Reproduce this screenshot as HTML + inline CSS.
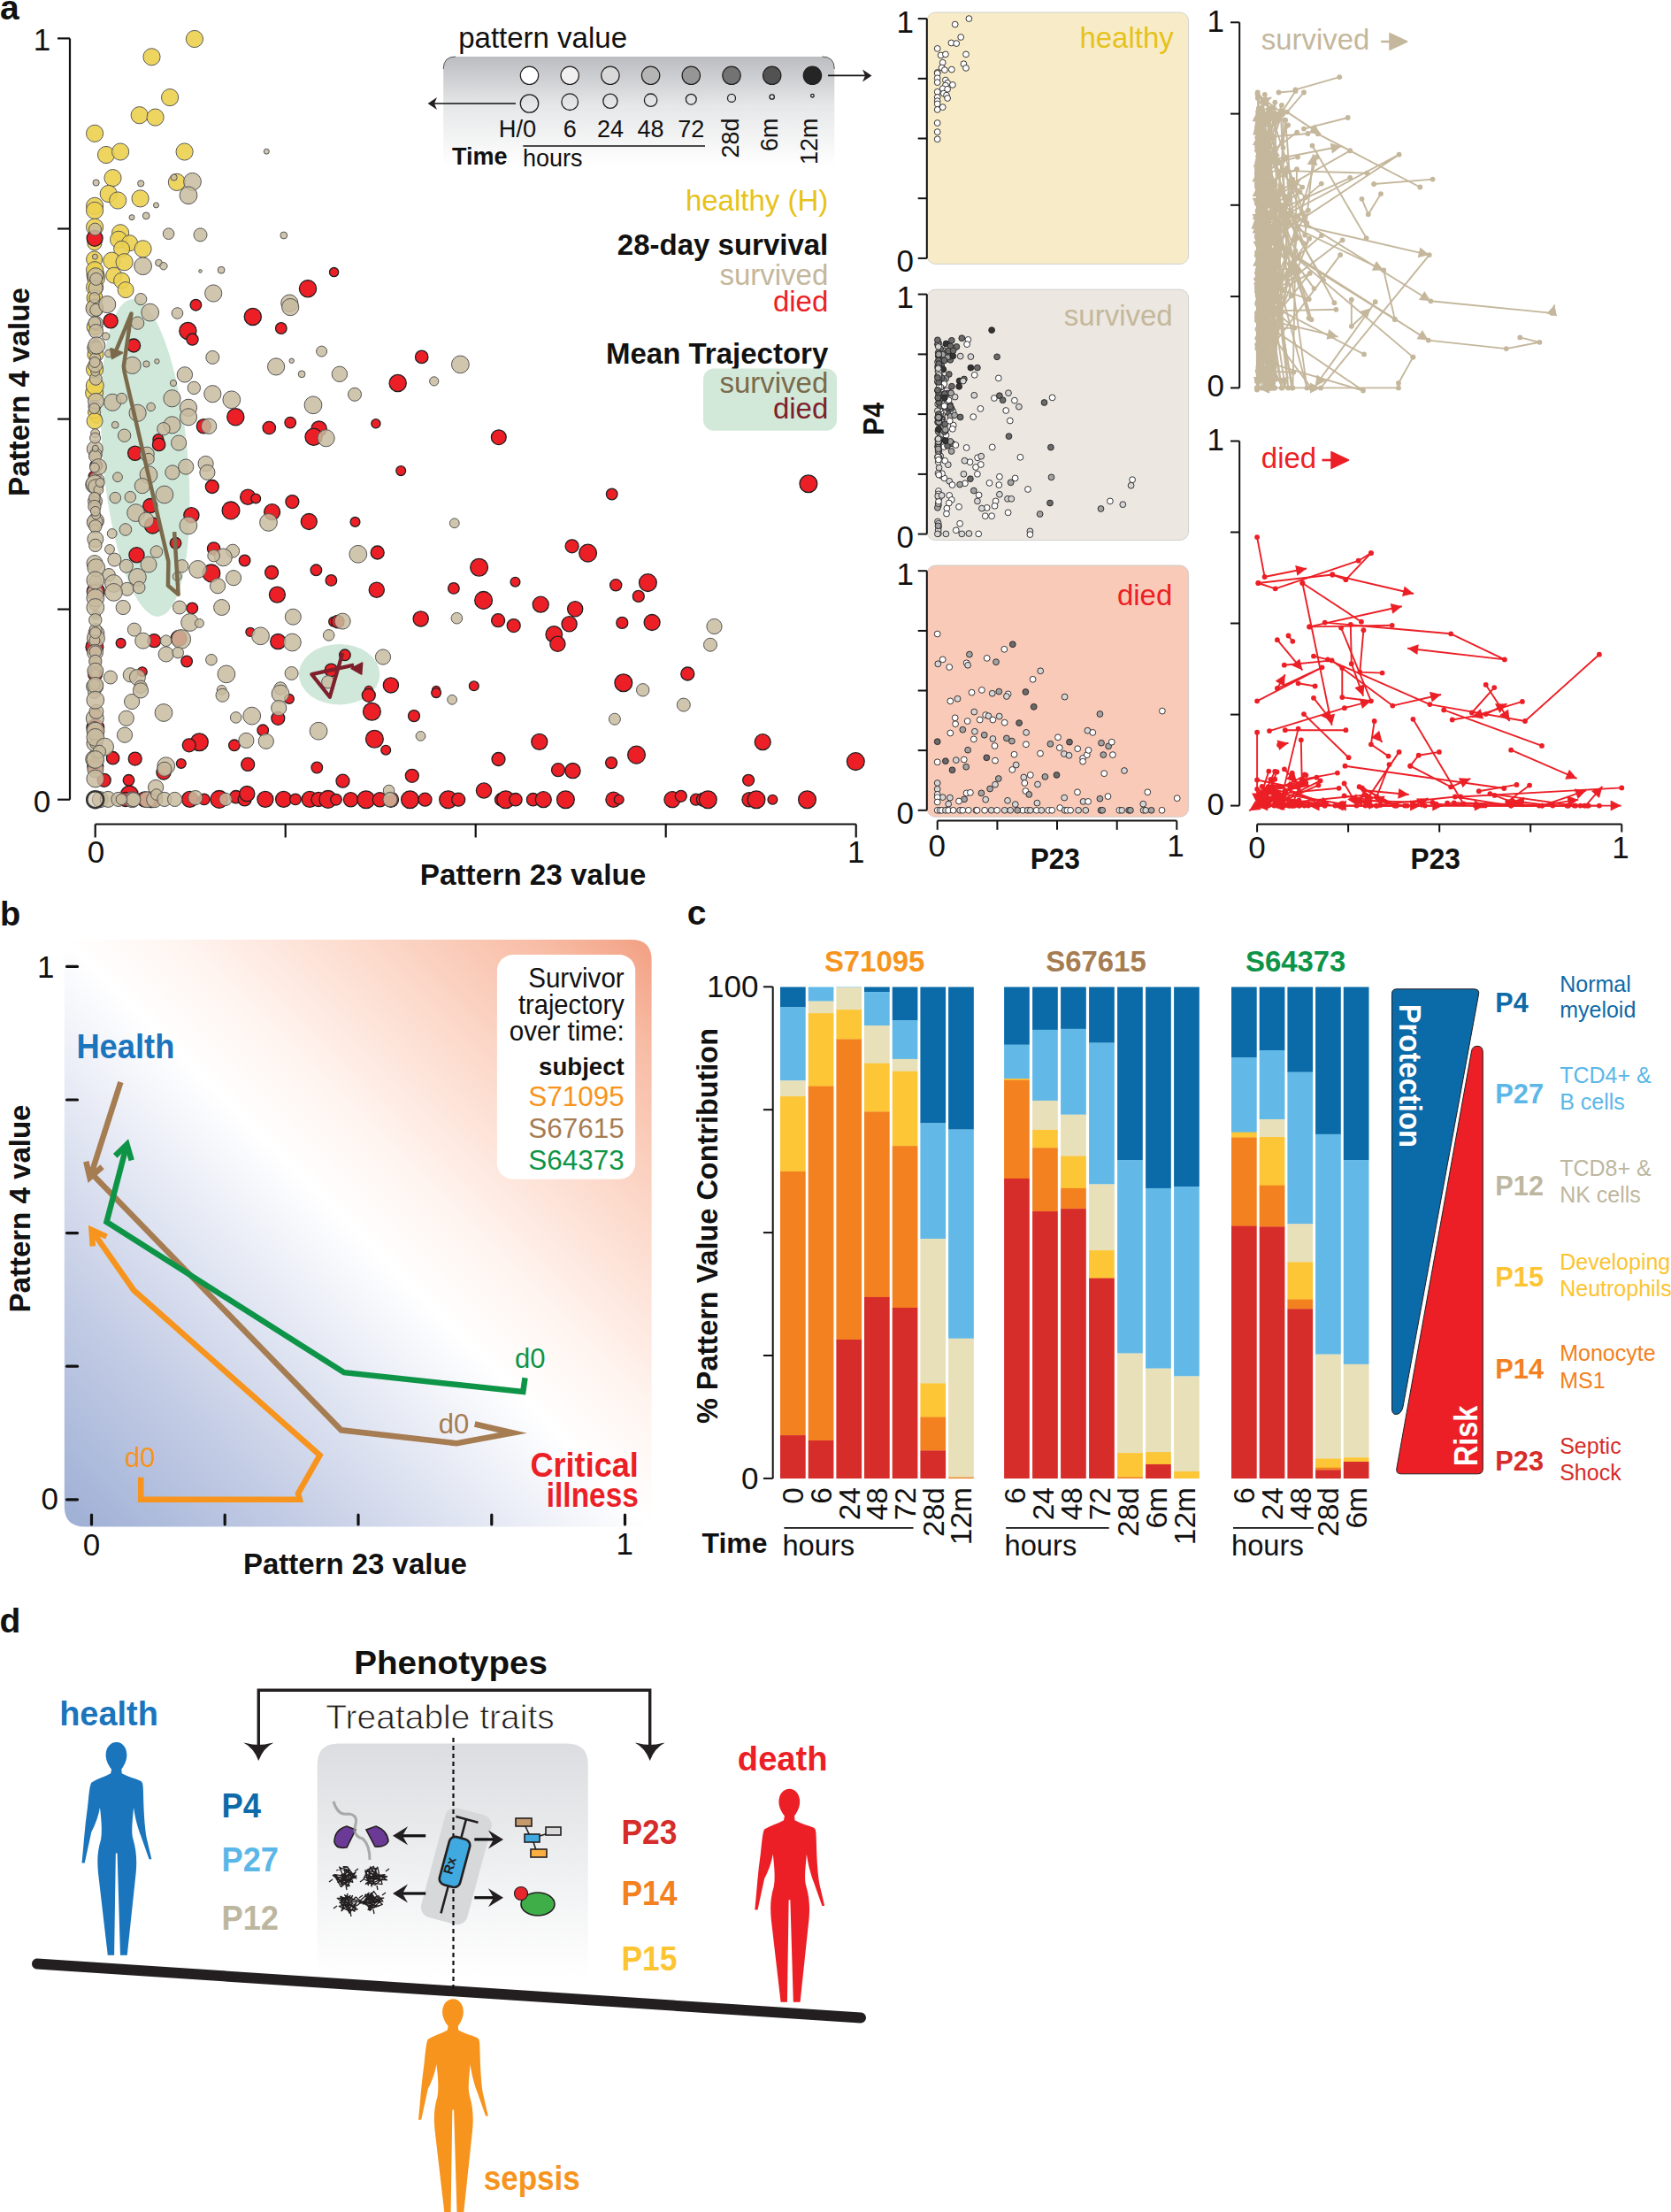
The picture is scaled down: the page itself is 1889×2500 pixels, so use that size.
<!DOCTYPE html><html><head><meta charset="utf-8"><style>html,body{margin:0;padding:0;background:#fff;overflow:hidden;width:1889px;height:2500px;}svg{display:block}</style></head><body><svg width="1889" height="2500" viewBox="0 0 1889 2500" font-family="'Liberation Sans',Arial,Helvetica,sans-serif"><rect width="1889" height="2500" fill="#fff"/><text x="0.0" y="22.0" font-size="39" fill="#111111" font-weight="bold" text-anchor="start">a</text>
<ellipse cx="164.2" cy="517.5" rx="48" ry="180" transform="rotate(-4.9 164.2 517.5)" fill="#cfe8d9"/>
<ellipse cx="383.6" cy="762.2" rx="45.7" ry="34.2" fill="#cfe8d9"/>
<g>
<circle cx="106.6" cy="444.0" r="10.0" fill="#ecd04f" fill-opacity="0.9" stroke="#5a5a5a" stroke-width="1"/>
<circle cx="107.9" cy="310.6" r="10.0" fill="#ecd04f" fill-opacity="0.9" stroke="#5a5a5a" stroke-width="1"/>
<circle cx="108.8" cy="269.3" r="5.0" fill="#ecd04f" fill-opacity="0.9" stroke="#5a5a5a" stroke-width="1"/>
<circle cx="106.6" cy="293.0" r="9.0" fill="#ecd04f" fill-opacity="0.9" stroke="#5a5a5a" stroke-width="1"/>
<circle cx="107.5" cy="338.0" r="8.0" fill="#ecd04f" fill-opacity="0.9" stroke="#5a5a5a" stroke-width="1"/>
<circle cx="106.8" cy="306.1" r="7.0" fill="#ecd04f" fill-opacity="0.9" stroke="#5a5a5a" stroke-width="1"/>
<circle cx="106.5" cy="345.5" r="6.0" fill="#ecd04f" fill-opacity="0.9" stroke="#5a5a5a" stroke-width="1"/>
<circle cx="106.5" cy="301.3" r="5.0" fill="#ecd04f" fill-opacity="0.9" stroke="#5a5a5a" stroke-width="1"/>
<circle cx="108.0" cy="328.9" r="7.0" fill="#ecd04f" fill-opacity="0.9" stroke="#5a5a5a" stroke-width="1"/>
<circle cx="106.9" cy="274.9" r="8.0" fill="#ecd04f" fill-opacity="0.9" stroke="#5a5a5a" stroke-width="1"/>
<circle cx="107.6" cy="396.3" r="7.0" fill="#ecd04f" fill-opacity="0.9" stroke="#5a5a5a" stroke-width="1"/>
<circle cx="107.7" cy="304.9" r="8.0" fill="#ecd04f" fill-opacity="0.9" stroke="#5a5a5a" stroke-width="1"/>
<circle cx="107.3" cy="436.0" r="10.0" fill="#ecd04f" fill-opacity="0.9" stroke="#5a5a5a" stroke-width="1"/>
<circle cx="107.6" cy="471.2" r="6.0" fill="#ecd04f" fill-opacity="0.9" stroke="#5a5a5a" stroke-width="1"/>
<circle cx="108.4" cy="312.7" r="8.0" fill="#ecd04f" fill-opacity="0.9" stroke="#5a5a5a" stroke-width="1"/>
<circle cx="107.7" cy="368.8" r="7.0" fill="#ecd04f" fill-opacity="0.9" stroke="#5a5a5a" stroke-width="1"/>
<circle cx="108.4" cy="265.9" r="5.0" fill="#ecd04f" fill-opacity="0.9" stroke="#5a5a5a" stroke-width="1"/>
<circle cx="108.1" cy="309.1" r="5.0" fill="#ecd04f" fill-opacity="0.9" stroke="#5a5a5a" stroke-width="1"/>
<circle cx="108.8" cy="472.2" r="6.0" fill="#ecd04f" fill-opacity="0.9" stroke="#5a5a5a" stroke-width="1"/>
<circle cx="106.5" cy="465.9" r="7.0" fill="#ecd04f" fill-opacity="0.9" stroke="#5a5a5a" stroke-width="1"/>
<circle cx="108.5" cy="314.4" r="10.0" fill="#ecd04f" fill-opacity="0.9" stroke="#5a5a5a" stroke-width="1"/>
<circle cx="107.9" cy="400.5" r="9.0" fill="#ecd04f" fill-opacity="0.9" stroke="#5a5a5a" stroke-width="1"/>
<circle cx="219.9" cy="44.0" r="9.6" fill="#ecd04f" fill-opacity="0.9" stroke="#5a5a5a" stroke-width="1"/>
<circle cx="171.5" cy="64.3" r="9.6" fill="#ecd04f" fill-opacity="0.9" stroke="#5a5a5a" stroke-width="1"/>
<circle cx="192.1" cy="110.1" r="9.6" fill="#ecd04f" fill-opacity="0.9" stroke="#5a5a5a" stroke-width="1"/>
<circle cx="157.7" cy="130.2" r="9.6" fill="#ecd04f" fill-opacity="0.9" stroke="#5a5a5a" stroke-width="1"/>
<circle cx="175.6" cy="132.6" r="9.6" fill="#ecd04f" fill-opacity="0.9" stroke="#5a5a5a" stroke-width="1"/>
<circle cx="107.1" cy="150.8" r="9.6" fill="#ecd04f" fill-opacity="0.9" stroke="#5a5a5a" stroke-width="1"/>
<circle cx="120.0" cy="175.0" r="9.6" fill="#ecd04f" fill-opacity="0.9" stroke="#5a5a5a" stroke-width="1"/>
<circle cx="136.1" cy="171.5" r="9.6" fill="#ecd04f" fill-opacity="0.9" stroke="#5a5a5a" stroke-width="1"/>
<circle cx="208.6" cy="171.5" r="9.6" fill="#ecd04f" fill-opacity="0.9" stroke="#5a5a5a" stroke-width="1"/>
<circle cx="127.5" cy="201.1" r="9.6" fill="#ecd04f" fill-opacity="0.9" stroke="#5a5a5a" stroke-width="1"/>
<circle cx="199.9" cy="205.9" r="9.6" fill="#ecd04f" fill-opacity="0.9" stroke="#5a5a5a" stroke-width="1"/>
<circle cx="122.7" cy="219.0" r="9.6" fill="#ecd04f" fill-opacity="0.9" stroke="#5a5a5a" stroke-width="1"/>
<circle cx="133.2" cy="226.5" r="9.6" fill="#ecd04f" fill-opacity="0.9" stroke="#5a5a5a" stroke-width="1"/>
<circle cx="158.6" cy="224.4" r="9.6" fill="#ecd04f" fill-opacity="0.9" stroke="#5a5a5a" stroke-width="1"/>
<circle cx="107.1" cy="232.8" r="9.6" fill="#ecd04f" fill-opacity="0.9" stroke="#5a5a5a" stroke-width="1"/>
<circle cx="107.1" cy="237.9" r="9.6" fill="#ecd04f" fill-opacity="0.9" stroke="#5a5a5a" stroke-width="1"/>
<circle cx="107.1" cy="256.7" r="9.6" fill="#ecd04f" fill-opacity="0.9" stroke="#5a5a5a" stroke-width="1"/>
<circle cx="136.1" cy="263.3" r="9.6" fill="#ecd04f" fill-opacity="0.9" stroke="#5a5a5a" stroke-width="1"/>
<circle cx="134.1" cy="270.8" r="9.6" fill="#ecd04f" fill-opacity="0.9" stroke="#5a5a5a" stroke-width="1"/>
<circle cx="146.6" cy="274.7" r="9.0" fill="#ecd04f" fill-opacity="0.9" stroke="#5a5a5a" stroke-width="1"/>
<circle cx="137.6" cy="281.3" r="9.0" fill="#ecd04f" fill-opacity="0.9" stroke="#5a5a5a" stroke-width="1"/>
<circle cx="161.6" cy="281.3" r="9.6" fill="#ecd04f" fill-opacity="0.9" stroke="#5a5a5a" stroke-width="1"/>
<circle cx="126.3" cy="294.7" r="9.6" fill="#ecd04f" fill-opacity="0.9" stroke="#5a5a5a" stroke-width="1"/>
<circle cx="140.6" cy="296.2" r="9.6" fill="#ecd04f" fill-opacity="0.9" stroke="#5a5a5a" stroke-width="1"/>
<circle cx="107.1" cy="305.2" r="9.6" fill="#ecd04f" fill-opacity="0.9" stroke="#5a5a5a" stroke-width="1"/>
<circle cx="128.7" cy="311.2" r="9.0" fill="#ecd04f" fill-opacity="0.9" stroke="#5a5a5a" stroke-width="1"/>
<circle cx="137.6" cy="317.2" r="9.0" fill="#ecd04f" fill-opacity="0.9" stroke="#5a5a5a" stroke-width="1"/>
<circle cx="107.1" cy="324.7" r="9.6" fill="#ecd04f" fill-opacity="0.9" stroke="#5a5a5a" stroke-width="1"/>
<circle cx="142.1" cy="327.6" r="9.0" fill="#ecd04f" fill-opacity="0.9" stroke="#5a5a5a" stroke-width="1"/>
<circle cx="107.1" cy="336.6" r="9.0" fill="#ecd04f" fill-opacity="0.9" stroke="#5a5a5a" stroke-width="1"/>
<circle cx="107.1" cy="347.1" r="9.0" fill="#ecd04f" fill-opacity="0.9" stroke="#5a5a5a" stroke-width="1"/>
<circle cx="107.1" cy="369.5" r="9.0" fill="#ecd04f" fill-opacity="0.9" stroke="#5a5a5a" stroke-width="1"/>
<circle cx="107.1" cy="417.4" r="9.6" fill="#ecd04f" fill-opacity="0.9" stroke="#5a5a5a" stroke-width="1"/>
<circle cx="107.1" cy="475.8" r="9.0" fill="#ecd04f" fill-opacity="0.9" stroke="#5a5a5a" stroke-width="1"/>
<circle cx="107.2" cy="538.6" r="7.0" fill="#ec1f26" stroke="#231f20" stroke-width="1.3"/>
<circle cx="108.8" cy="526.3" r="7.0" fill="#ec1f26" stroke="#231f20" stroke-width="1.3"/>
<circle cx="108.3" cy="668.6" r="10.0" fill="#ec1f26" stroke="#231f20" stroke-width="1.3"/>
<circle cx="107.6" cy="762.1" r="8.0" fill="#ec1f26" stroke="#231f20" stroke-width="1.3"/>
<circle cx="108.0" cy="568.5" r="6.0" fill="#ec1f26" stroke="#231f20" stroke-width="1.3"/>
<circle cx="151.2" cy="903.7" r="7.0" fill="#ec1f26" stroke="#231f20" stroke-width="1.3"/>
<circle cx="171.0" cy="903.7" r="9.0" fill="#ec1f26" stroke="#231f20" stroke-width="1.3"/>
<circle cx="107.1" cy="269.3" r="9.0" fill="#ec1f26" stroke="#231f20" stroke-width="1.3"/>
<circle cx="377.6" cy="307.6" r="5.1" fill="#ec1f26" stroke="#231f20" stroke-width="1.3"/>
<circle cx="348.0" cy="326.2" r="9.6" fill="#ec1f26" stroke="#231f20" stroke-width="1.3"/>
<circle cx="221.4" cy="344.7" r="6.3" fill="#ec1f26" stroke="#231f20" stroke-width="1.3"/>
<circle cx="285.8" cy="357.9" r="9.6" fill="#ec1f26" stroke="#231f20" stroke-width="1.3"/>
<circle cx="317.8" cy="371.0" r="6.3" fill="#ec1f26" stroke="#231f20" stroke-width="1.3"/>
<circle cx="125.1" cy="362.7" r="8.1" fill="#ec1f26" stroke="#231f20" stroke-width="1.3"/>
<circle cx="212.4" cy="374.0" r="9.6" fill="#ec1f26" stroke="#231f20" stroke-width="1.3"/>
<circle cx="217.5" cy="383.6" r="6.6" fill="#ec1f26" stroke="#231f20" stroke-width="1.3"/>
<circle cx="151.1" cy="390.5" r="7.5" fill="#ec1f26" stroke="#231f20" stroke-width="1.3"/>
<circle cx="476.7" cy="403.4" r="7.2" fill="#ec1f26" stroke="#231f20" stroke-width="1.3"/>
<circle cx="449.7" cy="433.0" r="9.6" fill="#ec1f26" stroke="#231f20" stroke-width="1.3"/>
<circle cx="266.3" cy="471.3" r="9.6" fill="#ec1f26" stroke="#231f20" stroke-width="1.3"/>
<circle cx="304.3" cy="483.5" r="7.2" fill="#ec1f26" stroke="#231f20" stroke-width="1.3"/>
<circle cx="328.2" cy="477.6" r="6.3" fill="#ec1f26" stroke="#231f20" stroke-width="1.3"/>
<circle cx="360.6" cy="484.7" r="8.7" fill="#ec1f26" stroke="#231f20" stroke-width="1.3"/>
<circle cx="354.6" cy="493.7" r="9.6" fill="#ec1f26" stroke="#231f20" stroke-width="1.3"/>
<circle cx="424.9" cy="478.8" r="5.1" fill="#ec1f26" stroke="#231f20" stroke-width="1.3"/>
<circle cx="230.4" cy="481.7" r="8.1" fill="#ec1f26" stroke="#231f20" stroke-width="1.3"/>
<circle cx="178.9" cy="496.7" r="6.0" fill="#ec1f26" stroke="#231f20" stroke-width="1.3"/>
<circle cx="179.6" cy="502.4" r="7.2" fill="#ec1f26" stroke="#231f20" stroke-width="1.3"/>
<circle cx="152.7" cy="512.3" r="8.1" fill="#ec1f26" stroke="#231f20" stroke-width="1.3"/>
<circle cx="239.8" cy="550.0" r="7.5" fill="#ec1f26" stroke="#231f20" stroke-width="1.3"/>
<circle cx="280.2" cy="561.7" r="8.6" fill="#ec1f26" stroke="#231f20" stroke-width="1.3"/>
<circle cx="289.2" cy="563.5" r="5.4" fill="#ec1f26" stroke="#231f20" stroke-width="1.3"/>
<circle cx="330.4" cy="567.1" r="7.5" fill="#ec1f26" stroke="#231f20" stroke-width="1.3"/>
<circle cx="261.0" cy="576.9" r="9.9" fill="#ec1f26" stroke="#231f20" stroke-width="1.3"/>
<circle cx="169.8" cy="571.6" r="8.1" fill="#ec1f26" stroke="#231f20" stroke-width="1.3"/>
<circle cx="307.6" cy="578.7" r="9.0" fill="#ec1f26" stroke="#231f20" stroke-width="1.3"/>
<circle cx="349.3" cy="589.5" r="9.0" fill="#ec1f26" stroke="#231f20" stroke-width="1.3"/>
<circle cx="216.4" cy="582.3" r="8.6" fill="#ec1f26" stroke="#231f20" stroke-width="1.3"/>
<circle cx="172.5" cy="594.0" r="9.0" fill="#ec1f26" stroke="#231f20" stroke-width="1.3"/>
<circle cx="198.5" cy="613.8" r="6.3" fill="#ec1f26" stroke="#231f20" stroke-width="1.3"/>
<circle cx="241.6" cy="620.0" r="7.2" fill="#ec1f26" stroke="#231f20" stroke-width="1.3"/>
<circle cx="154.5" cy="627.2" r="8.6" fill="#ec1f26" stroke="#231f20" stroke-width="1.3"/>
<circle cx="276.6" cy="633.5" r="6.3" fill="#ec1f26" stroke="#231f20" stroke-width="1.3"/>
<circle cx="238.9" cy="647.9" r="9.9" fill="#ec1f26" stroke="#231f20" stroke-width="1.3"/>
<circle cx="307.1" cy="647.0" r="7.5" fill="#ec1f26" stroke="#231f20" stroke-width="1.3"/>
<circle cx="357.4" cy="644.3" r="6.3" fill="#ec1f26" stroke="#231f20" stroke-width="1.3"/>
<circle cx="374.4" cy="655.9" r="6.3" fill="#ec1f26" stroke="#231f20" stroke-width="1.3"/>
<circle cx="313.4" cy="672.1" r="9.0" fill="#ec1f26" stroke="#231f20" stroke-width="1.3"/>
<circle cx="217.3" cy="687.4" r="6.3" fill="#ec1f26" stroke="#231f20" stroke-width="1.3"/>
<circle cx="377.1" cy="702.6" r="5.4" fill="#ec1f26" stroke="#231f20" stroke-width="1.3"/>
<circle cx="282.9" cy="714.3" r="5.0" fill="#ec1f26" stroke="#231f20" stroke-width="1.3"/>
<circle cx="314.3" cy="725.1" r="8.6" fill="#ec1f26" stroke="#231f20" stroke-width="1.3"/>
<circle cx="174.3" cy="724.2" r="7.5" fill="#ec1f26" stroke="#231f20" stroke-width="1.3"/>
<circle cx="136.6" cy="726.9" r="5.4" fill="#ec1f26" stroke="#231f20" stroke-width="1.3"/>
<circle cx="106.9" cy="731.3" r="9.9" fill="#ec1f26" stroke="#231f20" stroke-width="1.3"/>
<circle cx="202.1" cy="721.5" r="9.0" fill="#ec1f26" stroke="#231f20" stroke-width="1.3"/>
<circle cx="211.1" cy="747.5" r="6.3" fill="#ec1f26" stroke="#231f20" stroke-width="1.3"/>
<circle cx="160.8" cy="759.2" r="5.4" fill="#ec1f26" stroke="#231f20" stroke-width="1.3"/>
<circle cx="374.4" cy="757.4" r="7.2" fill="#ec1f26" stroke="#231f20" stroke-width="1.3"/>
<circle cx="107.8" cy="806.4" r="6.3" fill="#ec1f26" stroke="#231f20" stroke-width="1.3"/>
<circle cx="107.8" cy="822.6" r="9.9" fill="#ec1f26" stroke="#231f20" stroke-width="1.3"/>
<circle cx="314.3" cy="811.8" r="7.5" fill="#ec1f26" stroke="#231f20" stroke-width="1.3"/>
<circle cx="326.9" cy="789.9" r="5.4" fill="#ec1f26" stroke="#231f20" stroke-width="1.3"/>
<circle cx="297.2" cy="825.3" r="6.3" fill="#ec1f26" stroke="#231f20" stroke-width="1.3"/>
<circle cx="225.4" cy="838.7" r="9.9" fill="#ec1f26" stroke="#231f20" stroke-width="1.3"/>
<circle cx="213.8" cy="842.3" r="7.5" fill="#ec1f26" stroke="#231f20" stroke-width="1.3"/>
<circle cx="264.9" cy="842.3" r="6.3" fill="#ec1f26" stroke="#231f20" stroke-width="1.3"/>
<circle cx="127.6" cy="856.7" r="7.2" fill="#ec1f26" stroke="#231f20" stroke-width="1.3"/>
<circle cx="152.7" cy="857.6" r="7.5" fill="#ec1f26" stroke="#231f20" stroke-width="1.3"/>
<circle cx="204.8" cy="863.0" r="5.4" fill="#ec1f26" stroke="#231f20" stroke-width="1.3"/>
<circle cx="280.2" cy="863.9" r="7.5" fill="#ec1f26" stroke="#231f20" stroke-width="1.3"/>
<circle cx="358.3" cy="867.5" r="6.3" fill="#ec1f26" stroke="#231f20" stroke-width="1.3"/>
<circle cx="185.0" cy="872.9" r="8.1" fill="#ec1f26" stroke="#231f20" stroke-width="1.3"/>
<circle cx="117.7" cy="881.8" r="7.5" fill="#ec1f26" stroke="#231f20" stroke-width="1.3"/>
<circle cx="145.5" cy="881.8" r="6.3" fill="#ec1f26" stroke="#231f20" stroke-width="1.3"/>
<circle cx="107.8" cy="865.7" r="9.0" fill="#ec1f26" stroke="#231f20" stroke-width="1.3"/>
<circle cx="146.4" cy="898.0" r="9.9" fill="#ec1f26" stroke="#231f20" stroke-width="1.3"/>
<circle cx="163.5" cy="903.4" r="8.6" fill="#ec1f26" stroke="#231f20" stroke-width="1.3"/>
<circle cx="141.9" cy="903.4" r="8.1" fill="#ec1f26" stroke="#231f20" stroke-width="1.3"/>
<circle cx="214.6" cy="903.4" r="9.0" fill="#ec1f26" stroke="#231f20" stroke-width="1.3"/>
<circle cx="230.8" cy="903.4" r="6.3" fill="#ec1f26" stroke="#231f20" stroke-width="1.3"/>
<circle cx="247.9" cy="903.4" r="9.9" fill="#ec1f26" stroke="#231f20" stroke-width="1.3"/>
<circle cx="266.7" cy="900.7" r="7.2" fill="#ec1f26" stroke="#231f20" stroke-width="1.3"/>
<circle cx="276.6" cy="903.4" r="7.5" fill="#ec1f26" stroke="#231f20" stroke-width="1.3"/>
<circle cx="279.3" cy="897.1" r="8.6" fill="#ec1f26" stroke="#231f20" stroke-width="1.3"/>
<circle cx="299.9" cy="903.4" r="9.0" fill="#ec1f26" stroke="#231f20" stroke-width="1.3"/>
<circle cx="320.6" cy="903.4" r="9.0" fill="#ec1f26" stroke="#231f20" stroke-width="1.3"/>
<circle cx="334.0" cy="903.4" r="6.3" fill="#ec1f26" stroke="#231f20" stroke-width="1.3"/>
<circle cx="350.2" cy="903.4" r="9.0" fill="#ec1f26" stroke="#231f20" stroke-width="1.3"/>
<circle cx="360.1" cy="903.4" r="8.1" fill="#ec1f26" stroke="#231f20" stroke-width="1.3"/>
<circle cx="370.8" cy="903.4" r="9.9" fill="#ec1f26" stroke="#231f20" stroke-width="1.3"/>
<circle cx="563.8" cy="494.2" r="8.4" fill="#ec1f26" stroke="#231f20" stroke-width="1.3"/>
<circle cx="453.2" cy="532.1" r="5.4" fill="#ec1f26" stroke="#231f20" stroke-width="1.3"/>
<circle cx="401.5" cy="589.9" r="5.4" fill="#ec1f26" stroke="#231f20" stroke-width="1.3"/>
<circle cx="426.7" cy="624.5" r="7.5" fill="#ec1f26" stroke="#231f20" stroke-width="1.3"/>
<circle cx="541.6" cy="641.2" r="9.9" fill="#ec1f26" stroke="#231f20" stroke-width="1.3"/>
<circle cx="646.6" cy="617.3" r="7.5" fill="#ec1f26" stroke="#231f20" stroke-width="1.3"/>
<circle cx="664.6" cy="625.1" r="9.9" fill="#ec1f26" stroke="#231f20" stroke-width="1.3"/>
<circle cx="425.8" cy="666.7" r="8.6" fill="#ec1f26" stroke="#231f20" stroke-width="1.3"/>
<circle cx="512.9" cy="664.9" r="6.3" fill="#ec1f26" stroke="#231f20" stroke-width="1.3"/>
<circle cx="546.6" cy="678.4" r="9.9" fill="#ec1f26" stroke="#231f20" stroke-width="1.3"/>
<circle cx="582.5" cy="657.7" r="5.4" fill="#ec1f26" stroke="#231f20" stroke-width="1.3"/>
<circle cx="611.2" cy="683.2" r="9.0" fill="#ec1f26" stroke="#231f20" stroke-width="1.3"/>
<circle cx="650.2" cy="688.3" r="8.6" fill="#ec1f26" stroke="#231f20" stroke-width="1.3"/>
<circle cx="643.6" cy="705.3" r="8.6" fill="#ec1f26" stroke="#231f20" stroke-width="1.3"/>
<circle cx="626.3" cy="717.0" r="9.3" fill="#ec1f26" stroke="#231f20" stroke-width="1.3"/>
<circle cx="630.4" cy="727.8" r="8.6" fill="#ec1f26" stroke="#231f20" stroke-width="1.3"/>
<circle cx="475.7" cy="699.4" r="8.6" fill="#ec1f26" stroke="#231f20" stroke-width="1.3"/>
<circle cx="563.1" cy="701.2" r="7.5" fill="#ec1f26" stroke="#231f20" stroke-width="1.3"/>
<circle cx="580.7" cy="707.1" r="7.5" fill="#ec1f26" stroke="#231f20" stroke-width="1.3"/>
<circle cx="389.9" cy="740.3" r="6.3" fill="#ec1f26" stroke="#231f20" stroke-width="1.3"/>
<circle cx="441.9" cy="774.4" r="8.6" fill="#ec1f26" stroke="#231f20" stroke-width="1.3"/>
<circle cx="535.8" cy="775.3" r="5.4" fill="#ec1f26" stroke="#231f20" stroke-width="1.3"/>
<circle cx="493.1" cy="779.8" r="4.5" fill="#ec1f26" stroke="#231f20" stroke-width="1.3"/>
<circle cx="416.8" cy="779.8" r="4.5" fill="#ec1f26" stroke="#231f20" stroke-width="1.3"/>
<circle cx="381.8" cy="702.6" r="7.2" fill="#ec1f26" stroke="#231f20" stroke-width="1.3"/>
<circle cx="691.7" cy="558.5" r="6.3" fill="#ec1f26" stroke="#231f20" stroke-width="1.3"/>
<circle cx="913.9" cy="546.8" r="9.9" fill="#ec1f26" stroke="#231f20" stroke-width="1.3"/>
<circle cx="696.2" cy="661.3" r="6.6" fill="#ec1f26" stroke="#231f20" stroke-width="1.3"/>
<circle cx="732.4" cy="658.6" r="9.9" fill="#ec1f26" stroke="#231f20" stroke-width="1.3"/>
<circle cx="721.8" cy="673.9" r="6.5" fill="#ec1f26" stroke="#231f20" stroke-width="1.3"/>
<circle cx="703.3" cy="703.9" r="6.5" fill="#ec1f26" stroke="#231f20" stroke-width="1.3"/>
<circle cx="737.1" cy="703.5" r="9.0" fill="#ec1f26" stroke="#231f20" stroke-width="1.3"/>
<circle cx="777.3" cy="761.5" r="7.5" fill="#ec1f26" stroke="#231f20" stroke-width="1.3"/>
<circle cx="704.8" cy="771.7" r="9.9" fill="#ec1f26" stroke="#231f20" stroke-width="1.3"/>
<circle cx="416.8" cy="785.8" r="7.5" fill="#ec1f26" stroke="#231f20" stroke-width="1.3"/>
<circle cx="420.4" cy="804.3" r="9.9" fill="#ec1f26" stroke="#231f20" stroke-width="1.3"/>
<circle cx="493.1" cy="783.1" r="5.4" fill="#ec1f26" stroke="#231f20" stroke-width="1.3"/>
<circle cx="468.0" cy="809.1" r="6.5" fill="#ec1f26" stroke="#231f20" stroke-width="1.3"/>
<circle cx="423.4" cy="835.2" r="9.9" fill="#ec1f26" stroke="#231f20" stroke-width="1.3"/>
<circle cx="436.2" cy="847.7" r="5.4" fill="#ec1f26" stroke="#231f20" stroke-width="1.3"/>
<circle cx="609.8" cy="838.4" r="9.0" fill="#ec1f26" stroke="#231f20" stroke-width="1.3"/>
<circle cx="563.5" cy="858.0" r="7.5" fill="#ec1f26" stroke="#231f20" stroke-width="1.3"/>
<circle cx="631.0" cy="870.2" r="7.5" fill="#ec1f26" stroke="#231f20" stroke-width="1.3"/>
<circle cx="647.5" cy="871.1" r="8.6" fill="#ec1f26" stroke="#231f20" stroke-width="1.3"/>
<circle cx="387.5" cy="882.7" r="7.5" fill="#ec1f26" stroke="#231f20" stroke-width="1.3"/>
<circle cx="465.8" cy="876.8" r="7.5" fill="#ec1f26" stroke="#231f20" stroke-width="1.3"/>
<circle cx="547.0" cy="893.5" r="8.6" fill="#ec1f26" stroke="#231f20" stroke-width="1.3"/>
<circle cx="380.0" cy="903.7" r="6.3" fill="#ec1f26" stroke="#231f20" stroke-width="1.3"/>
<circle cx="396.5" cy="903.7" r="8.1" fill="#ec1f26" stroke="#231f20" stroke-width="1.3"/>
<circle cx="413.8" cy="903.7" r="9.9" fill="#ec1f26" stroke="#231f20" stroke-width="1.3"/>
<circle cx="429.4" cy="903.7" r="8.1" fill="#ec1f26" stroke="#231f20" stroke-width="1.3"/>
<circle cx="441.9" cy="903.7" r="8.6" fill="#ec1f26" stroke="#231f20" stroke-width="1.3"/>
<circle cx="463.5" cy="903.7" r="9.9" fill="#ec1f26" stroke="#231f20" stroke-width="1.3"/>
<circle cx="480.5" cy="903.7" r="7.5" fill="#ec1f26" stroke="#231f20" stroke-width="1.3"/>
<circle cx="506.6" cy="903.7" r="9.9" fill="#ec1f26" stroke="#231f20" stroke-width="1.3"/>
<circle cx="518.2" cy="903.7" r="7.5" fill="#ec1f26" stroke="#231f20" stroke-width="1.3"/>
<circle cx="566.7" cy="903.7" r="7.2" fill="#ec1f26" stroke="#231f20" stroke-width="1.3"/>
<circle cx="571.7" cy="903.7" r="9.9" fill="#ec1f26" stroke="#231f20" stroke-width="1.3"/>
<circle cx="582.9" cy="903.7" r="7.2" fill="#ec1f26" stroke="#231f20" stroke-width="1.3"/>
<circle cx="602.6" cy="903.7" r="7.2" fill="#ec1f26" stroke="#231f20" stroke-width="1.3"/>
<circle cx="614.3" cy="903.7" r="9.0" fill="#ec1f26" stroke="#231f20" stroke-width="1.3"/>
<circle cx="639.4" cy="903.7" r="9.9" fill="#ec1f26" stroke="#231f20" stroke-width="1.3"/>
<circle cx="719.5" cy="853.1" r="9.9" fill="#ec1f26" stroke="#231f20" stroke-width="1.3"/>
<circle cx="691.1" cy="862.1" r="6.5" fill="#ec1f26" stroke="#231f20" stroke-width="1.3"/>
<circle cx="862.2" cy="838.7" r="9.0" fill="#ec1f26" stroke="#231f20" stroke-width="1.3"/>
<circle cx="967.3" cy="860.6" r="9.9" fill="#ec1f26" stroke="#231f20" stroke-width="1.3"/>
<circle cx="846.1" cy="881.8" r="6.5" fill="#ec1f26" stroke="#231f20" stroke-width="1.3"/>
<circle cx="693.5" cy="903.7" r="8.6" fill="#ec1f26" stroke="#231f20" stroke-width="1.3"/>
<circle cx="699.7" cy="903.7" r="5.4" fill="#ec1f26" stroke="#231f20" stroke-width="1.3"/>
<circle cx="759.9" cy="903.7" r="9.0" fill="#ec1f26" stroke="#231f20" stroke-width="1.3"/>
<circle cx="769.8" cy="899.8" r="6.5" fill="#ec1f26" stroke="#231f20" stroke-width="1.3"/>
<circle cx="786.8" cy="903.7" r="6.5" fill="#ec1f26" stroke="#231f20" stroke-width="1.3"/>
<circle cx="794.9" cy="903.7" r="7.5" fill="#ec1f26" stroke="#231f20" stroke-width="1.3"/>
<circle cx="800.3" cy="903.7" r="9.9" fill="#ec1f26" stroke="#231f20" stroke-width="1.3"/>
<circle cx="847.0" cy="903.7" r="8.1" fill="#ec1f26" stroke="#231f20" stroke-width="1.3"/>
<circle cx="855.0" cy="903.7" r="9.9" fill="#ec1f26" stroke="#231f20" stroke-width="1.3"/>
<circle cx="873.4" cy="903.7" r="5.4" fill="#ec1f26" stroke="#231f20" stroke-width="1.3"/>
<circle cx="912.5" cy="903.7" r="9.9" fill="#ec1f26" stroke="#231f20" stroke-width="1.3"/>
<circle cx="106.6" cy="775.8" r="9.0" fill="#c8bb9f" fill-opacity="0.85" stroke="#555" stroke-width="1"/>
<circle cx="107.5" cy="566.5" r="8.0" fill="#c8bb9f" fill-opacity="0.85" stroke="#555" stroke-width="1"/>
<circle cx="108.5" cy="388.5" r="5.0" fill="#c8bb9f" fill-opacity="0.85" stroke="#555" stroke-width="1"/>
<circle cx="107.5" cy="259.1" r="7.0" fill="#c8bb9f" fill-opacity="0.85" stroke="#555" stroke-width="1"/>
<circle cx="108.5" cy="588.6" r="9.0" fill="#c8bb9f" fill-opacity="0.85" stroke="#555" stroke-width="1"/>
<circle cx="107.0" cy="348.5" r="10.0" fill="#c8bb9f" fill-opacity="0.85" stroke="#555" stroke-width="1"/>
<circle cx="108.4" cy="365.4" r="8.0" fill="#c8bb9f" fill-opacity="0.85" stroke="#555" stroke-width="1"/>
<circle cx="106.7" cy="757.9" r="6.0" fill="#c8bb9f" fill-opacity="0.85" stroke="#555" stroke-width="1"/>
<circle cx="108.3" cy="428.3" r="7.0" fill="#c8bb9f" fill-opacity="0.85" stroke="#555" stroke-width="1"/>
<circle cx="107.7" cy="420.1" r="5.0" fill="#c8bb9f" fill-opacity="0.85" stroke="#555" stroke-width="1"/>
<circle cx="107.9" cy="869.7" r="9.0" fill="#c8bb9f" fill-opacity="0.85" stroke="#555" stroke-width="1"/>
<circle cx="107.3" cy="811.9" r="10.0" fill="#c8bb9f" fill-opacity="0.85" stroke="#555" stroke-width="1"/>
<circle cx="108.5" cy="559.3" r="5.0" fill="#c8bb9f" fill-opacity="0.85" stroke="#555" stroke-width="1"/>
<circle cx="106.7" cy="858.1" r="10.0" fill="#c8bb9f" fill-opacity="0.85" stroke="#555" stroke-width="1"/>
<circle cx="108.9" cy="715.7" r="9.0" fill="#c8bb9f" fill-opacity="0.85" stroke="#555" stroke-width="1"/>
<circle cx="108.6" cy="776.2" r="8.0" fill="#c8bb9f" fill-opacity="0.85" stroke="#555" stroke-width="1"/>
<circle cx="106.9" cy="459.5" r="7.0" fill="#c8bb9f" fill-opacity="0.85" stroke="#555" stroke-width="1"/>
<circle cx="106.7" cy="393.2" r="8.0" fill="#c8bb9f" fill-opacity="0.85" stroke="#555" stroke-width="1"/>
<circle cx="108.5" cy="527.6" r="6.0" fill="#c8bb9f" fill-opacity="0.85" stroke="#555" stroke-width="1"/>
<circle cx="108.9" cy="804.3" r="8.0" fill="#c8bb9f" fill-opacity="0.85" stroke="#555" stroke-width="1"/>
<circle cx="106.9" cy="683.4" r="6.0" fill="#c8bb9f" fill-opacity="0.85" stroke="#555" stroke-width="1"/>
<circle cx="106.5" cy="782.3" r="7.0" fill="#c8bb9f" fill-opacity="0.85" stroke="#555" stroke-width="1"/>
<circle cx="107.3" cy="507.4" r="9.0" fill="#c8bb9f" fill-opacity="0.85" stroke="#555" stroke-width="1"/>
<circle cx="108.1" cy="311.7" r="9.0" fill="#c8bb9f" fill-opacity="0.85" stroke="#555" stroke-width="1"/>
<circle cx="108.4" cy="721.4" r="10.0" fill="#c8bb9f" fill-opacity="0.85" stroke="#555" stroke-width="1"/>
<circle cx="107.7" cy="489.7" r="5.0" fill="#c8bb9f" fill-opacity="0.85" stroke="#555" stroke-width="1"/>
<circle cx="107.6" cy="495.1" r="6.0" fill="#c8bb9f" fill-opacity="0.85" stroke="#555" stroke-width="1"/>
<circle cx="107.7" cy="404.6" r="6.0" fill="#c8bb9f" fill-opacity="0.85" stroke="#555" stroke-width="1"/>
<circle cx="106.9" cy="364.9" r="7.0" fill="#c8bb9f" fill-opacity="0.85" stroke="#555" stroke-width="1"/>
<circle cx="107.2" cy="590.3" r="9.0" fill="#c8bb9f" fill-opacity="0.85" stroke="#555" stroke-width="1"/>
<circle cx="107.7" cy="656.8" r="7.0" fill="#c8bb9f" fill-opacity="0.85" stroke="#555" stroke-width="1"/>
<circle cx="107.8" cy="833.8" r="6.0" fill="#c8bb9f" fill-opacity="0.85" stroke="#555" stroke-width="1"/>
<circle cx="108.0" cy="747.6" r="6.0" fill="#c8bb9f" fill-opacity="0.85" stroke="#555" stroke-width="1"/>
<circle cx="108.4" cy="753.9" r="6.0" fill="#c8bb9f" fill-opacity="0.85" stroke="#555" stroke-width="1"/>
<circle cx="107.0" cy="773.8" r="6.0" fill="#c8bb9f" fill-opacity="0.85" stroke="#555" stroke-width="1"/>
<circle cx="108.4" cy="556.7" r="5.0" fill="#c8bb9f" fill-opacity="0.85" stroke="#555" stroke-width="1"/>
<circle cx="108.8" cy="543.0" r="9.0" fill="#c8bb9f" fill-opacity="0.85" stroke="#555" stroke-width="1"/>
<circle cx="108.5" cy="453.3" r="9.0" fill="#c8bb9f" fill-opacity="0.85" stroke="#555" stroke-width="1"/>
<circle cx="106.7" cy="547.8" r="10.0" fill="#c8bb9f" fill-opacity="0.85" stroke="#555" stroke-width="1"/>
<circle cx="107.3" cy="546.8" r="10.0" fill="#c8bb9f" fill-opacity="0.85" stroke="#555" stroke-width="1"/>
<circle cx="106.9" cy="723.8" r="6.0" fill="#c8bb9f" fill-opacity="0.85" stroke="#555" stroke-width="1"/>
<circle cx="108.1" cy="325.5" r="8.0" fill="#c8bb9f" fill-opacity="0.85" stroke="#555" stroke-width="1"/>
<circle cx="106.6" cy="461.7" r="6.0" fill="#c8bb9f" fill-opacity="0.85" stroke="#555" stroke-width="1"/>
<circle cx="107.8" cy="761.2" r="5.0" fill="#c8bb9f" fill-opacity="0.85" stroke="#555" stroke-width="1"/>
<circle cx="108.5" cy="850.7" r="6.0" fill="#c8bb9f" fill-opacity="0.85" stroke="#555" stroke-width="1"/>
<circle cx="107.5" cy="737.4" r="9.0" fill="#c8bb9f" fill-opacity="0.85" stroke="#555" stroke-width="1"/>
<circle cx="108.7" cy="315.4" r="7.0" fill="#c8bb9f" fill-opacity="0.85" stroke="#555" stroke-width="1"/>
<circle cx="107.5" cy="669.9" r="9.0" fill="#c8bb9f" fill-opacity="0.85" stroke="#555" stroke-width="1"/>
<circle cx="106.9" cy="840.1" r="9.0" fill="#c8bb9f" fill-opacity="0.85" stroke="#555" stroke-width="1"/>
<circle cx="107.6" cy="745.6" r="6.0" fill="#c8bb9f" fill-opacity="0.85" stroke="#555" stroke-width="1"/>
<circle cx="108.1" cy="711.7" r="7.0" fill="#c8bb9f" fill-opacity="0.85" stroke="#555" stroke-width="1"/>
<circle cx="108.6" cy="582.0" r="5.0" fill="#c8bb9f" fill-opacity="0.85" stroke="#555" stroke-width="1"/>
<circle cx="107.6" cy="566.6" r="5.0" fill="#c8bb9f" fill-opacity="0.85" stroke="#555" stroke-width="1"/>
<circle cx="107.0" cy="636.6" r="9.0" fill="#c8bb9f" fill-opacity="0.85" stroke="#555" stroke-width="1"/>
<circle cx="107.7" cy="412.9" r="8.0" fill="#c8bb9f" fill-opacity="0.85" stroke="#555" stroke-width="1"/>
<circle cx="108.7" cy="393.2" r="7.0" fill="#c8bb9f" fill-opacity="0.85" stroke="#555" stroke-width="1"/>
<circle cx="106.8" cy="823.5" r="8.0" fill="#c8bb9f" fill-opacity="0.85" stroke="#555" stroke-width="1"/>
<circle cx="108.4" cy="513.7" r="7.0" fill="#c8bb9f" fill-opacity="0.85" stroke="#555" stroke-width="1"/>
<circle cx="108.0" cy="826.3" r="10.0" fill="#c8bb9f" fill-opacity="0.85" stroke="#555" stroke-width="1"/>
<circle cx="108.6" cy="374.5" r="8.0" fill="#c8bb9f" fill-opacity="0.85" stroke="#555" stroke-width="1"/>
<circle cx="106.9" cy="336.6" r="6.0" fill="#c8bb9f" fill-opacity="0.85" stroke="#555" stroke-width="1"/>
<circle cx="107.5" cy="515.8" r="7.0" fill="#c8bb9f" fill-opacity="0.85" stroke="#555" stroke-width="1"/>
<circle cx="107.4" cy="597.6" r="5.0" fill="#c8bb9f" fill-opacity="0.85" stroke="#555" stroke-width="1"/>
<circle cx="106.8" cy="573.1" r="5.0" fill="#c8bb9f" fill-opacity="0.85" stroke="#555" stroke-width="1"/>
<circle cx="106.7" cy="840.7" r="5.0" fill="#c8bb9f" fill-opacity="0.85" stroke="#555" stroke-width="1"/>
<circle cx="107.1" cy="409.4" r="6.0" fill="#c8bb9f" fill-opacity="0.85" stroke="#555" stroke-width="1"/>
<circle cx="108.4" cy="695.2" r="5.0" fill="#c8bb9f" fill-opacity="0.85" stroke="#555" stroke-width="1"/>
<circle cx="108.8" cy="350.3" r="7.0" fill="#c8bb9f" fill-opacity="0.85" stroke="#555" stroke-width="1"/>
<circle cx="149.5" cy="903.7" r="9.0" fill="#c8bb9f" fill-opacity="0.85" stroke="#555" stroke-width="1"/>
<circle cx="166.1" cy="903.7" r="9.0" fill="#c8bb9f" fill-opacity="0.85" stroke="#555" stroke-width="1"/>
<circle cx="174.6" cy="903.7" r="9.0" fill="#c8bb9f" fill-opacity="0.85" stroke="#555" stroke-width="1"/>
<circle cx="150.4" cy="903.7" r="8.0" fill="#c8bb9f" fill-opacity="0.85" stroke="#555" stroke-width="1"/>
<circle cx="113.3" cy="903.7" r="9.0" fill="#c8bb9f" fill-opacity="0.85" stroke="#555" stroke-width="1"/>
<circle cx="150.9" cy="903.7" r="8.0" fill="#c8bb9f" fill-opacity="0.85" stroke="#555" stroke-width="1"/>
<circle cx="301.3" cy="171.2" r="3.0" fill="#c8bb9f" fill-opacity="0.85" stroke="#555" stroke-width="1"/>
<circle cx="108.6" cy="206.5" r="3.6" fill="#c8bb9f" fill-opacity="0.85" stroke="#555" stroke-width="1"/>
<circle cx="159.2" cy="207.4" r="3.6" fill="#c8bb9f" fill-opacity="0.85" stroke="#555" stroke-width="1"/>
<circle cx="217.5" cy="205.3" r="9.9" fill="#c8bb9f" fill-opacity="0.85" stroke="#555" stroke-width="1"/>
<circle cx="213.0" cy="220.8" r="9.9" fill="#c8bb9f" fill-opacity="0.85" stroke="#555" stroke-width="1"/>
<circle cx="196.6" cy="200.5" r="3.6" fill="#c8bb9f" fill-opacity="0.85" stroke="#555" stroke-width="1"/>
<circle cx="176.5" cy="231.9" r="3.0" fill="#c8bb9f" fill-opacity="0.85" stroke="#555" stroke-width="1"/>
<circle cx="149.0" cy="245.7" r="3.0" fill="#c8bb9f" fill-opacity="0.85" stroke="#555" stroke-width="1"/>
<circle cx="165.2" cy="243.9" r="3.9" fill="#c8bb9f" fill-opacity="0.85" stroke="#555" stroke-width="1"/>
<circle cx="190.6" cy="264.2" r="6.3" fill="#c8bb9f" fill-opacity="0.85" stroke="#555" stroke-width="1"/>
<circle cx="226.5" cy="265.4" r="7.5" fill="#c8bb9f" fill-opacity="0.85" stroke="#555" stroke-width="1"/>
<circle cx="320.8" cy="266.0" r="3.9" fill="#c8bb9f" fill-opacity="0.85" stroke="#555" stroke-width="1"/>
<circle cx="107.4" cy="290.2" r="3.0" fill="#c8bb9f" fill-opacity="0.85" stroke="#555" stroke-width="1"/>
<circle cx="179.5" cy="297.1" r="3.9" fill="#c8bb9f" fill-opacity="0.85" stroke="#555" stroke-width="1"/>
<circle cx="184.9" cy="300.7" r="4.2" fill="#c8bb9f" fill-opacity="0.85" stroke="#555" stroke-width="1"/>
<circle cx="161.6" cy="300.7" r="9.9" fill="#c8bb9f" fill-opacity="0.85" stroke="#555" stroke-width="1"/>
<circle cx="226.5" cy="306.4" r="1.8" fill="#c8bb9f" fill-opacity="0.85" stroke="#555" stroke-width="1"/>
<circle cx="250.1" cy="305.2" r="3.9" fill="#c8bb9f" fill-opacity="0.85" stroke="#555" stroke-width="1"/>
<circle cx="241.2" cy="331.5" r="9.6" fill="#c8bb9f" fill-opacity="0.85" stroke="#555" stroke-width="1"/>
<circle cx="327.3" cy="342.6" r="9.6" fill="#c8bb9f" fill-opacity="0.85" stroke="#555" stroke-width="1"/>
<circle cx="328.2" cy="347.1" r="9.6" fill="#c8bb9f" fill-opacity="0.85" stroke="#555" stroke-width="1"/>
<circle cx="159.2" cy="338.1" r="6.6" fill="#c8bb9f" fill-opacity="0.85" stroke="#555" stroke-width="1"/>
<circle cx="169.7" cy="353.1" r="9.9" fill="#c8bb9f" fill-opacity="0.85" stroke="#555" stroke-width="1"/>
<circle cx="121.2" cy="344.1" r="9.6" fill="#c8bb9f" fill-opacity="0.85" stroke="#555" stroke-width="1"/>
<circle cx="200.5" cy="354.0" r="6.3" fill="#c8bb9f" fill-opacity="0.85" stroke="#555" stroke-width="1"/>
<circle cx="155.6" cy="365.1" r="7.2" fill="#c8bb9f" fill-opacity="0.85" stroke="#555" stroke-width="1"/>
<circle cx="119.7" cy="380.0" r="4.2" fill="#c8bb9f" fill-opacity="0.85" stroke="#555" stroke-width="1"/>
<circle cx="109.2" cy="390.5" r="9.6" fill="#c8bb9f" fill-opacity="0.85" stroke="#555" stroke-width="1"/>
<circle cx="122.7" cy="399.5" r="4.2" fill="#c8bb9f" fill-opacity="0.85" stroke="#555" stroke-width="1"/>
<circle cx="149.6" cy="412.9" r="9.6" fill="#c8bb9f" fill-opacity="0.85" stroke="#555" stroke-width="1"/>
<circle cx="165.5" cy="411.4" r="3.6" fill="#c8bb9f" fill-opacity="0.85" stroke="#555" stroke-width="1"/>
<circle cx="177.4" cy="408.4" r="2.7" fill="#c8bb9f" fill-opacity="0.85" stroke="#555" stroke-width="1"/>
<circle cx="240.3" cy="403.9" r="7.5" fill="#c8bb9f" fill-opacity="0.85" stroke="#555" stroke-width="1"/>
<circle cx="312.1" cy="414.4" r="9.6" fill="#c8bb9f" fill-opacity="0.85" stroke="#555" stroke-width="1"/>
<circle cx="329.7" cy="407.8" r="2.7" fill="#c8bb9f" fill-opacity="0.85" stroke="#555" stroke-width="1"/>
<circle cx="363.6" cy="397.1" r="6.0" fill="#c8bb9f" fill-opacity="0.85" stroke="#555" stroke-width="1"/>
<circle cx="341.1" cy="422.8" r="3.9" fill="#c8bb9f" fill-opacity="0.85" stroke="#555" stroke-width="1"/>
<circle cx="383.9" cy="422.8" r="8.7" fill="#c8bb9f" fill-opacity="0.85" stroke="#555" stroke-width="1"/>
<circle cx="208.9" cy="423.4" r="8.7" fill="#c8bb9f" fill-opacity="0.85" stroke="#555" stroke-width="1"/>
<circle cx="219.3" cy="438.4" r="7.2" fill="#c8bb9f" fill-opacity="0.85" stroke="#555" stroke-width="1"/>
<circle cx="196.0" cy="433.0" r="3.6" fill="#c8bb9f" fill-opacity="0.85" stroke="#555" stroke-width="1"/>
<circle cx="240.3" cy="445.2" r="9.6" fill="#c8bb9f" fill-opacity="0.85" stroke="#555" stroke-width="1"/>
<circle cx="261.8" cy="451.8" r="9.9" fill="#c8bb9f" fill-opacity="0.85" stroke="#555" stroke-width="1"/>
<circle cx="354.0" cy="457.8" r="9.9" fill="#c8bb9f" fill-opacity="0.85" stroke="#555" stroke-width="1"/>
<circle cx="401.0" cy="445.8" r="7.5" fill="#c8bb9f" fill-opacity="0.85" stroke="#555" stroke-width="1"/>
<circle cx="490.7" cy="430.9" r="5.1" fill="#c8bb9f" fill-opacity="0.85" stroke="#555" stroke-width="1"/>
<circle cx="194.5" cy="450.3" r="9.6" fill="#c8bb9f" fill-opacity="0.85" stroke="#555" stroke-width="1"/>
<circle cx="213.0" cy="460.8" r="9.6" fill="#c8bb9f" fill-opacity="0.85" stroke="#555" stroke-width="1"/>
<circle cx="213.0" cy="471.3" r="9.6" fill="#c8bb9f" fill-opacity="0.85" stroke="#555" stroke-width="1"/>
<circle cx="194.5" cy="480.3" r="9.6" fill="#c8bb9f" fill-opacity="0.85" stroke="#555" stroke-width="1"/>
<circle cx="184.9" cy="484.7" r="7.2" fill="#c8bb9f" fill-opacity="0.85" stroke="#555" stroke-width="1"/>
<circle cx="236.1" cy="481.7" r="8.7" fill="#c8bb9f" fill-opacity="0.85" stroke="#555" stroke-width="1"/>
<circle cx="368.6" cy="495.2" r="9.6" fill="#c8bb9f" fill-opacity="0.85" stroke="#555" stroke-width="1"/>
<circle cx="127.2" cy="454.8" r="9.6" fill="#c8bb9f" fill-opacity="0.85" stroke="#555" stroke-width="1"/>
<circle cx="137.6" cy="450.3" r="6.0" fill="#c8bb9f" fill-opacity="0.85" stroke="#555" stroke-width="1"/>
<circle cx="155.6" cy="466.8" r="9.6" fill="#c8bb9f" fill-opacity="0.85" stroke="#555" stroke-width="1"/>
<circle cx="170.6" cy="459.9" r="4.8" fill="#c8bb9f" fill-opacity="0.85" stroke="#555" stroke-width="1"/>
<circle cx="130.2" cy="480.3" r="3.9" fill="#c8bb9f" fill-opacity="0.85" stroke="#555" stroke-width="1"/>
<circle cx="140.6" cy="492.2" r="7.2" fill="#c8bb9f" fill-opacity="0.85" stroke="#555" stroke-width="1"/>
<circle cx="107.8" cy="506.9" r="3.6" fill="#c8bb9f" fill-opacity="0.85" stroke="#555" stroke-width="1"/>
<circle cx="202.1" cy="500.6" r="8.6" fill="#c8bb9f" fill-opacity="0.85" stroke="#555" stroke-width="1"/>
<circle cx="166.2" cy="513.2" r="8.1" fill="#c8bb9f" fill-opacity="0.85" stroke="#555" stroke-width="1"/>
<circle cx="168.0" cy="518.6" r="6.3" fill="#c8bb9f" fill-opacity="0.85" stroke="#555" stroke-width="1"/>
<circle cx="111.4" cy="527.6" r="9.0" fill="#c8bb9f" fill-opacity="0.85" stroke="#555" stroke-width="1"/>
<circle cx="106.9" cy="528.5" r="5.4" fill="#c8bb9f" fill-opacity="0.85" stroke="#555" stroke-width="1"/>
<circle cx="133.0" cy="539.2" r="5.4" fill="#c8bb9f" fill-opacity="0.85" stroke="#555" stroke-width="1"/>
<circle cx="168.0" cy="536.6" r="9.9" fill="#c8bb9f" fill-opacity="0.85" stroke="#555" stroke-width="1"/>
<circle cx="194.9" cy="533.9" r="8.1" fill="#c8bb9f" fill-opacity="0.85" stroke="#555" stroke-width="1"/>
<circle cx="210.2" cy="527.6" r="8.6" fill="#c8bb9f" fill-opacity="0.85" stroke="#555" stroke-width="1"/>
<circle cx="232.6" cy="524.0" r="8.6" fill="#c8bb9f" fill-opacity="0.85" stroke="#555" stroke-width="1"/>
<circle cx="234.4" cy="533.9" r="8.6" fill="#c8bb9f" fill-opacity="0.85" stroke="#555" stroke-width="1"/>
<circle cx="160.8" cy="549.1" r="8.6" fill="#c8bb9f" fill-opacity="0.85" stroke="#555" stroke-width="1"/>
<circle cx="185.9" cy="559.0" r="9.9" fill="#c8bb9f" fill-opacity="0.85" stroke="#555" stroke-width="1"/>
<circle cx="130.3" cy="562.6" r="6.3" fill="#c8bb9f" fill-opacity="0.85" stroke="#555" stroke-width="1"/>
<circle cx="147.3" cy="561.7" r="6.3" fill="#c8bb9f" fill-opacity="0.85" stroke="#555" stroke-width="1"/>
<circle cx="107.8" cy="550.0" r="8.1" fill="#c8bb9f" fill-opacity="0.85" stroke="#555" stroke-width="1"/>
<circle cx="111.4" cy="553.6" r="5.4" fill="#c8bb9f" fill-opacity="0.85" stroke="#555" stroke-width="1"/>
<circle cx="113.2" cy="545.5" r="5.0" fill="#c8bb9f" fill-opacity="0.85" stroke="#555" stroke-width="1"/>
<circle cx="106.9" cy="562.6" r="6.3" fill="#c8bb9f" fill-opacity="0.85" stroke="#555" stroke-width="1"/>
<circle cx="106.9" cy="572.5" r="7.2" fill="#c8bb9f" fill-opacity="0.85" stroke="#555" stroke-width="1"/>
<circle cx="107.8" cy="577.8" r="5.4" fill="#c8bb9f" fill-opacity="0.85" stroke="#555" stroke-width="1"/>
<circle cx="153.6" cy="579.6" r="9.9" fill="#c8bb9f" fill-opacity="0.85" stroke="#555" stroke-width="1"/>
<circle cx="165.3" cy="587.7" r="8.6" fill="#c8bb9f" fill-opacity="0.85" stroke="#555" stroke-width="1"/>
<circle cx="212.9" cy="594.0" r="9.9" fill="#c8bb9f" fill-opacity="0.85" stroke="#555" stroke-width="1"/>
<circle cx="303.5" cy="590.4" r="9.9" fill="#c8bb9f" fill-opacity="0.85" stroke="#555" stroke-width="1"/>
<circle cx="107.8" cy="594.9" r="7.2" fill="#c8bb9f" fill-opacity="0.85" stroke="#555" stroke-width="1"/>
<circle cx="126.7" cy="603.0" r="5.4" fill="#c8bb9f" fill-opacity="0.85" stroke="#555" stroke-width="1"/>
<circle cx="141.9" cy="598.5" r="6.8" fill="#c8bb9f" fill-opacity="0.85" stroke="#555" stroke-width="1"/>
<circle cx="107.8" cy="609.3" r="9.0" fill="#c8bb9f" fill-opacity="0.85" stroke="#555" stroke-width="1"/>
<circle cx="107.8" cy="616.4" r="7.2" fill="#c8bb9f" fill-opacity="0.85" stroke="#555" stroke-width="1"/>
<circle cx="124.0" cy="620.9" r="5.4" fill="#c8bb9f" fill-opacity="0.85" stroke="#555" stroke-width="1"/>
<circle cx="176.9" cy="623.6" r="6.8" fill="#c8bb9f" fill-opacity="0.85" stroke="#555" stroke-width="1"/>
<circle cx="263.1" cy="622.7" r="7.5" fill="#c8bb9f" fill-opacity="0.85" stroke="#555" stroke-width="1"/>
<circle cx="252.4" cy="629.9" r="9.9" fill="#c8bb9f" fill-opacity="0.85" stroke="#555" stroke-width="1"/>
<circle cx="241.6" cy="628.1" r="6.8" fill="#c8bb9f" fill-opacity="0.85" stroke="#555" stroke-width="1"/>
<circle cx="129.4" cy="632.6" r="7.5" fill="#c8bb9f" fill-opacity="0.85" stroke="#555" stroke-width="1"/>
<circle cx="142.8" cy="639.8" r="7.5" fill="#c8bb9f" fill-opacity="0.85" stroke="#555" stroke-width="1"/>
<circle cx="168.0" cy="638.0" r="9.0" fill="#c8bb9f" fill-opacity="0.85" stroke="#555" stroke-width="1"/>
<circle cx="108.7" cy="641.6" r="9.9" fill="#c8bb9f" fill-opacity="0.85" stroke="#555" stroke-width="1"/>
<circle cx="205.7" cy="639.8" r="7.2" fill="#c8bb9f" fill-opacity="0.85" stroke="#555" stroke-width="1"/>
<circle cx="223.6" cy="643.4" r="9.9" fill="#c8bb9f" fill-opacity="0.85" stroke="#555" stroke-width="1"/>
<circle cx="123.1" cy="649.7" r="7.2" fill="#c8bb9f" fill-opacity="0.85" stroke="#555" stroke-width="1"/>
<circle cx="155.4" cy="652.4" r="9.9" fill="#c8bb9f" fill-opacity="0.85" stroke="#555" stroke-width="1"/>
<circle cx="200.3" cy="651.5" r="5.0" fill="#c8bb9f" fill-opacity="0.85" stroke="#555" stroke-width="1"/>
<circle cx="264.0" cy="653.2" r="8.6" fill="#c8bb9f" fill-opacity="0.85" stroke="#555" stroke-width="1"/>
<circle cx="246.1" cy="662.2" r="8.6" fill="#c8bb9f" fill-opacity="0.85" stroke="#555" stroke-width="1"/>
<circle cx="107.8" cy="655.9" r="9.9" fill="#c8bb9f" fill-opacity="0.85" stroke="#555" stroke-width="1"/>
<circle cx="128.5" cy="659.5" r="9.9" fill="#c8bb9f" fill-opacity="0.85" stroke="#555" stroke-width="1"/>
<circle cx="143.7" cy="665.8" r="7.5" fill="#c8bb9f" fill-opacity="0.85" stroke="#555" stroke-width="1"/>
<circle cx="157.2" cy="664.0" r="6.8" fill="#c8bb9f" fill-opacity="0.85" stroke="#555" stroke-width="1"/>
<circle cx="107.8" cy="675.7" r="9.9" fill="#c8bb9f" fill-opacity="0.85" stroke="#555" stroke-width="1"/>
<circle cx="128.5" cy="669.4" r="9.9" fill="#c8bb9f" fill-opacity="0.85" stroke="#555" stroke-width="1"/>
<circle cx="139.2" cy="686.5" r="8.1" fill="#c8bb9f" fill-opacity="0.85" stroke="#555" stroke-width="1"/>
<circle cx="107.8" cy="686.5" r="9.9" fill="#c8bb9f" fill-opacity="0.85" stroke="#555" stroke-width="1"/>
<circle cx="203.0" cy="686.5" r="7.5" fill="#c8bb9f" fill-opacity="0.85" stroke="#555" stroke-width="1"/>
<circle cx="250.6" cy="686.5" r="9.0" fill="#c8bb9f" fill-opacity="0.85" stroke="#555" stroke-width="1"/>
<circle cx="107.8" cy="700.8" r="7.2" fill="#c8bb9f" fill-opacity="0.85" stroke="#555" stroke-width="1"/>
<circle cx="214.6" cy="703.5" r="9.9" fill="#c8bb9f" fill-opacity="0.85" stroke="#555" stroke-width="1"/>
<circle cx="225.4" cy="704.4" r="5.0" fill="#c8bb9f" fill-opacity="0.85" stroke="#555" stroke-width="1"/>
<circle cx="331.3" cy="697.2" r="9.0" fill="#c8bb9f" fill-opacity="0.85" stroke="#555" stroke-width="1"/>
<circle cx="151.8" cy="711.6" r="7.5" fill="#c8bb9f" fill-opacity="0.85" stroke="#555" stroke-width="1"/>
<circle cx="107.8" cy="715.2" r="6.3" fill="#c8bb9f" fill-opacity="0.85" stroke="#555" stroke-width="1"/>
<circle cx="161.7" cy="724.2" r="9.0" fill="#c8bb9f" fill-opacity="0.85" stroke="#555" stroke-width="1"/>
<circle cx="187.7" cy="724.2" r="6.3" fill="#c8bb9f" fill-opacity="0.85" stroke="#555" stroke-width="1"/>
<circle cx="204.8" cy="722.4" r="10.8" fill="#c8bb9f" fill-opacity="0.85" stroke="#555" stroke-width="1"/>
<circle cx="294.5" cy="718.8" r="9.9" fill="#c8bb9f" fill-opacity="0.85" stroke="#555" stroke-width="1"/>
<circle cx="330.4" cy="726.0" r="9.9" fill="#c8bb9f" fill-opacity="0.85" stroke="#555" stroke-width="1"/>
<circle cx="371.7" cy="717.9" r="6.3" fill="#c8bb9f" fill-opacity="0.85" stroke="#555" stroke-width="1"/>
<circle cx="107.8" cy="736.7" r="6.8" fill="#c8bb9f" fill-opacity="0.85" stroke="#555" stroke-width="1"/>
<circle cx="187.7" cy="739.4" r="8.6" fill="#c8bb9f" fill-opacity="0.85" stroke="#555" stroke-width="1"/>
<circle cx="201.2" cy="737.6" r="6.3" fill="#c8bb9f" fill-opacity="0.85" stroke="#555" stroke-width="1"/>
<circle cx="238.9" cy="745.7" r="6.3" fill="#c8bb9f" fill-opacity="0.85" stroke="#555" stroke-width="1"/>
<circle cx="107.8" cy="747.5" r="7.2" fill="#c8bb9f" fill-opacity="0.85" stroke="#555" stroke-width="1"/>
<circle cx="107.8" cy="758.3" r="9.0" fill="#c8bb9f" fill-opacity="0.85" stroke="#555" stroke-width="1"/>
<circle cx="124.9" cy="765.5" r="7.5" fill="#c8bb9f" fill-opacity="0.85" stroke="#555" stroke-width="1"/>
<circle cx="147.3" cy="762.8" r="8.1" fill="#c8bb9f" fill-opacity="0.85" stroke="#555" stroke-width="1"/>
<circle cx="155.4" cy="765.5" r="9.0" fill="#c8bb9f" fill-opacity="0.85" stroke="#555" stroke-width="1"/>
<circle cx="255.9" cy="761.9" r="9.9" fill="#c8bb9f" fill-opacity="0.85" stroke="#555" stroke-width="1"/>
<circle cx="329.6" cy="761.0" r="7.5" fill="#c8bb9f" fill-opacity="0.85" stroke="#555" stroke-width="1"/>
<circle cx="107.8" cy="774.4" r="9.0" fill="#c8bb9f" fill-opacity="0.85" stroke="#555" stroke-width="1"/>
<circle cx="159.0" cy="776.2" r="7.2" fill="#c8bb9f" fill-opacity="0.85" stroke="#555" stroke-width="1"/>
<circle cx="317.0" cy="778.0" r="7.2" fill="#c8bb9f" fill-opacity="0.85" stroke="#555" stroke-width="1"/>
<circle cx="250.6" cy="779.8" r="5.4" fill="#c8bb9f" fill-opacity="0.85" stroke="#555" stroke-width="1"/>
<circle cx="370.8" cy="770.8" r="7.2" fill="#c8bb9f" fill-opacity="0.85" stroke="#555" stroke-width="1"/>
<circle cx="107.8" cy="791.2" r="9.9" fill="#c8bb9f" fill-opacity="0.85" stroke="#555" stroke-width="1"/>
<circle cx="149.1" cy="793.0" r="8.6" fill="#c8bb9f" fill-opacity="0.85" stroke="#555" stroke-width="1"/>
<circle cx="159.0" cy="780.4" r="8.6" fill="#c8bb9f" fill-opacity="0.85" stroke="#555" stroke-width="1"/>
<circle cx="251.5" cy="785.8" r="7.5" fill="#c8bb9f" fill-opacity="0.85" stroke="#555" stroke-width="1"/>
<circle cx="317.0" cy="784.0" r="9.9" fill="#c8bb9f" fill-opacity="0.85" stroke="#555" stroke-width="1"/>
<circle cx="315.2" cy="800.1" r="8.6" fill="#c8bb9f" fill-opacity="0.85" stroke="#555" stroke-width="1"/>
<circle cx="185.0" cy="805.5" r="9.9" fill="#c8bb9f" fill-opacity="0.85" stroke="#555" stroke-width="1"/>
<circle cx="142.8" cy="811.8" r="8.6" fill="#c8bb9f" fill-opacity="0.85" stroke="#555" stroke-width="1"/>
<circle cx="266.7" cy="810.9" r="6.3" fill="#c8bb9f" fill-opacity="0.85" stroke="#555" stroke-width="1"/>
<circle cx="284.7" cy="809.1" r="9.9" fill="#c8bb9f" fill-opacity="0.85" stroke="#555" stroke-width="1"/>
<circle cx="360.1" cy="826.2" r="9.9" fill="#c8bb9f" fill-opacity="0.85" stroke="#555" stroke-width="1"/>
<circle cx="141.0" cy="830.7" r="8.6" fill="#c8bb9f" fill-opacity="0.85" stroke="#555" stroke-width="1"/>
<circle cx="278.4" cy="836.9" r="8.6" fill="#c8bb9f" fill-opacity="0.85" stroke="#555" stroke-width="1"/>
<circle cx="300.8" cy="837.8" r="8.6" fill="#c8bb9f" fill-opacity="0.85" stroke="#555" stroke-width="1"/>
<circle cx="107.8" cy="833.4" r="9.9" fill="#c8bb9f" fill-opacity="0.85" stroke="#555" stroke-width="1"/>
<circle cx="118.6" cy="844.1" r="9.9" fill="#c8bb9f" fill-opacity="0.85" stroke="#555" stroke-width="1"/>
<circle cx="112.3" cy="849.5" r="7.2" fill="#c8bb9f" fill-opacity="0.85" stroke="#555" stroke-width="1"/>
<circle cx="107.8" cy="858.5" r="9.9" fill="#c8bb9f" fill-opacity="0.85" stroke="#555" stroke-width="1"/>
<circle cx="187.7" cy="865.7" r="9.9" fill="#c8bb9f" fill-opacity="0.85" stroke="#555" stroke-width="1"/>
<circle cx="107.8" cy="880.0" r="9.9" fill="#c8bb9f" fill-opacity="0.85" stroke="#555" stroke-width="1"/>
<circle cx="176.1" cy="889.9" r="8.6" fill="#c8bb9f" fill-opacity="0.85" stroke="#555" stroke-width="1"/>
<circle cx="176.9" cy="898.0" r="6.3" fill="#c8bb9f" fill-opacity="0.85" stroke="#555" stroke-width="1"/>
<circle cx="122.2" cy="903.4" r="9.0" fill="#c8bb9f" fill-opacity="0.85" stroke="#555" stroke-width="1"/>
<circle cx="133.9" cy="903.4" r="8.1" fill="#c8bb9f" fill-opacity="0.85" stroke="#555" stroke-width="1"/>
<circle cx="137.5" cy="903.4" r="6.3" fill="#c8bb9f" fill-opacity="0.85" stroke="#555" stroke-width="1"/>
<circle cx="185.9" cy="903.4" r="8.1" fill="#c8bb9f" fill-opacity="0.85" stroke="#555" stroke-width="1"/>
<circle cx="197.6" cy="903.4" r="8.1" fill="#c8bb9f" fill-opacity="0.85" stroke="#555" stroke-width="1"/>
<circle cx="220.9" cy="901.6" r="8.1" fill="#c8bb9f" fill-opacity="0.85" stroke="#555" stroke-width="1"/>
<circle cx="255.0" cy="903.4" r="7.2" fill="#c8bb9f" fill-opacity="0.85" stroke="#555" stroke-width="1"/>
<circle cx="185.9" cy="869.3" r="8.1" fill="#c8bb9f" fill-opacity="0.85" stroke="#555" stroke-width="1"/>
<circle cx="520.4" cy="411.9" r="9.9" fill="#c8bb9f" fill-opacity="0.85" stroke="#555" stroke-width="1"/>
<circle cx="513.8" cy="591.3" r="5.4" fill="#c8bb9f" fill-opacity="0.85" stroke="#555" stroke-width="1"/>
<circle cx="404.8" cy="626.3" r="9.9" fill="#c8bb9f" fill-opacity="0.85" stroke="#555" stroke-width="1"/>
<circle cx="516.4" cy="698.7" r="6.3" fill="#c8bb9f" fill-opacity="0.85" stroke="#555" stroke-width="1"/>
<circle cx="433.0" cy="742.5" r="8.6" fill="#c8bb9f" fill-opacity="0.85" stroke="#555" stroke-width="1"/>
<circle cx="387.2" cy="702.1" r="9.0" fill="#c8bb9f" fill-opacity="0.85" stroke="#555" stroke-width="1"/>
<circle cx="807.5" cy="708.0" r="8.6" fill="#c8bb9f" fill-opacity="0.85" stroke="#555" stroke-width="1"/>
<circle cx="803.0" cy="728.7" r="7.5" fill="#c8bb9f" fill-opacity="0.85" stroke="#555" stroke-width="1"/>
<circle cx="726.7" cy="779.8" r="7.2" fill="#c8bb9f" fill-opacity="0.85" stroke="#555" stroke-width="1"/>
<circle cx="511.1" cy="790.8" r="5.4" fill="#c8bb9f" fill-opacity="0.85" stroke="#555" stroke-width="1"/>
<circle cx="475.5" cy="831.9" r="5.4" fill="#c8bb9f" fill-opacity="0.85" stroke="#555" stroke-width="1"/>
<circle cx="439.6" cy="893.5" r="6.3" fill="#c8bb9f" fill-opacity="0.85" stroke="#555" stroke-width="1"/>
<circle cx="441.0" cy="903.7" r="8.1" fill="#c8bb9f" fill-opacity="0.85" stroke="#555" stroke-width="1"/>
<circle cx="772.8" cy="796.6" r="7.5" fill="#c8bb9f" fill-opacity="0.85" stroke="#555" stroke-width="1"/>
<circle cx="694.9" cy="812.7" r="6.5" fill="#c8bb9f" fill-opacity="0.85" stroke="#555" stroke-width="1"/>
<circle cx="107.7" cy="903.7" r="9.5" fill="#cbbfa6" fill-opacity="0.6" stroke="#333" stroke-width="2.5"/>
</g>
<polyline points="197.1,601.2 201.6,671.8 189.9,661.8 190.4,634.7 140.7,420.4 139.8,414 148.5,354.4 130,399" fill="none" stroke="#7b6a4c" stroke-width="4.5" stroke-linejoin="round"/>
<polygon points="125.3,394.2 138,398.7 126.8,405" fill="#7b6a4c" stroke="#7b6a4c" stroke-width="2.5" stroke-linejoin="round"/>
<polyline points="387.3,737.8 372.8,787.8 352.4,762.1 400,751.6" fill="none" stroke="#7e1f2b" stroke-width="4.2" stroke-linejoin="round"/>
<polygon points="397.1,755.5 409.7,749 408.7,762.1" fill="#7e1f2b" stroke="#7e1f2b" stroke-width="1.5" stroke-linejoin="round"/>
<line x1="79.0" y1="43.4" x2="79.0" y2="903.7" stroke="#111111" stroke-width="2.2"/>
<line x1="65.0" y1="903.7" x2="79.0" y2="903.7" stroke="#111111" stroke-width="2.2"/>
<line x1="65.0" y1="688.6" x2="79.0" y2="688.6" stroke="#111111" stroke-width="2.2"/>
<line x1="65.0" y1="473.6" x2="79.0" y2="473.6" stroke="#111111" stroke-width="2.2"/>
<line x1="65.0" y1="258.5" x2="79.0" y2="258.5" stroke="#111111" stroke-width="2.2"/>
<line x1="65.0" y1="43.4" x2="79.0" y2="43.4" stroke="#111111" stroke-width="2.2"/>
<line x1="107.7" y1="931.5" x2="967.7" y2="931.5" stroke="#111111" stroke-width="2.2"/>
<line x1="107.7" y1="931.5" x2="107.7" y2="946.5" stroke="#111111" stroke-width="2.2"/>
<line x1="322.7" y1="931.5" x2="322.7" y2="946.5" stroke="#111111" stroke-width="2.2"/>
<line x1="537.7" y1="931.5" x2="537.7" y2="946.5" stroke="#111111" stroke-width="2.2"/>
<line x1="752.7" y1="931.5" x2="752.7" y2="946.5" stroke="#111111" stroke-width="2.2"/>
<line x1="967.7" y1="931.5" x2="967.7" y2="946.5" stroke="#111111" stroke-width="2.2"/>
<text x="57.2" y="917.8" font-size="35" fill="#111111" text-anchor="end">0</text>
<text x="57.2" y="57.2" font-size="35" fill="#111111" text-anchor="end">1</text>
<text x="108.5" y="975.4" font-size="35" fill="#111111" text-anchor="middle">0</text>
<text x="967.7" y="975.4" font-size="35" fill="#111111" text-anchor="middle">1</text>
<text x="602.5" y="1000.0" font-size="33" fill="#111111" font-weight="bold" text-anchor="middle" textLength="255.6" lengthAdjust="spacingAndGlyphs">Pattern 23 value</text>
<text x="33.2" y="443.0" font-size="33" fill="#111111" font-weight="bold" text-anchor="middle" transform="rotate(-90 33.2 443.0)" textLength="236.0" lengthAdjust="spacingAndGlyphs">Pattern 4 value</text>
<defs><linearGradient id="lg1" x1="0" y1="0" x2="0" y2="1"><stop offset="0" stop-color="#bcbdc1"/><stop offset="0.45" stop-color="#e6e7e8"/><stop offset="1" stop-color="#ffffff"/></linearGradient></defs>
<path d="M501.2,188 L501.2,78 Q501.2,64 515,64 L929.5,64 Q943.3,64 943.3,78 L943.3,188 Z" fill="url(#lg1)"/>
<path d="M501.2,78 Q501.2,64 515,64 M929.5,64 Q943.3,64 943.3,78" fill="none" stroke="#333" stroke-width="0.8"/>
<text x="518.2" y="53.8" font-size="33" fill="#111111" text-anchor="start">pattern value</text>
<circle cx="598.5" cy="85.3" r="10.2" fill="#ffffff" stroke="#231f20" stroke-width="1.2"/>
<circle cx="598.5" cy="117" r="10.2" fill="none" stroke="#231f20" stroke-width="1.3"/>
<circle cx="644.2" cy="85.3" r="10.2" fill="#f0f0f0" stroke="#231f20" stroke-width="1.2"/>
<circle cx="644.2" cy="115.2" r="9.3" fill="none" stroke="#231f20" stroke-width="1.3"/>
<circle cx="689.9" cy="85.3" r="10.2" fill="#d9d9d9" stroke="#231f20" stroke-width="1.2"/>
<circle cx="689.9" cy="114.3" r="8.1" fill="none" stroke="#231f20" stroke-width="1.3"/>
<circle cx="735.6" cy="85.3" r="10.2" fill="#b5b5b5" stroke="#231f20" stroke-width="1.2"/>
<circle cx="735.6" cy="113.2" r="7.2" fill="none" stroke="#231f20" stroke-width="1.3"/>
<circle cx="781.3" cy="85.3" r="10.2" fill="#969696" stroke="#231f20" stroke-width="1.2"/>
<circle cx="781.3" cy="112.2" r="5.9" fill="none" stroke="#231f20" stroke-width="1.3"/>
<circle cx="827.0" cy="85.3" r="10.2" fill="#737373" stroke="#231f20" stroke-width="1.2"/>
<circle cx="827.0" cy="110.9" r="4.5" fill="none" stroke="#231f20" stroke-width="1.3"/>
<circle cx="872.7" cy="85.3" r="10.2" fill="#525252" stroke="#231f20" stroke-width="1.2"/>
<circle cx="872.7" cy="109.5" r="2.7" fill="none" stroke="#231f20" stroke-width="1.3"/>
<circle cx="918.4" cy="85.3" r="10.2" fill="#252525" stroke="#231f20" stroke-width="1.2"/>
<circle cx="918.4" cy="108.2" r="1.8" fill="none" stroke="#231f20" stroke-width="1.3"/>
<line x1="583.0" y1="117.0" x2="488.0" y2="117.0" stroke="#111111" stroke-width="1.6"/>
<path d="M483.6,117 L494,110 L491,117 L494,124 Z" fill="#231f20"/>
<line x1="936.0" y1="85.4" x2="980.0" y2="85.4" stroke="#111111" stroke-width="1.6"/>
<path d="M985.5,85.4 L975,78.4 L978,85.4 L975,92.4 Z" fill="#231f20"/>
<text x="644.2" y="154.9" font-size="27" fill="#111111" text-anchor="middle">6</text>
<text x="689.9" y="154.9" font-size="27" fill="#111111" text-anchor="middle">24</text>
<text x="735.6" y="154.9" font-size="27" fill="#111111" text-anchor="middle">48</text>
<text x="781.3" y="154.9" font-size="27" fill="#111111" text-anchor="middle">72</text>
<text x="606.3" y="154.9" font-size="27" fill="#111111" text-anchor="end" textLength="42.5" lengthAdjust="spacingAndGlyphs">H/0</text>
<text x="835.5" y="133.4" font-size="27" fill="#111111" text-anchor="end" transform="rotate(-90 835.5 133.4)">28d</text>
<text x="879.5" y="133.4" font-size="27" fill="#111111" text-anchor="end" transform="rotate(-90 879.5 133.4)">6m</text>
<text x="924.4" y="133.4" font-size="27" fill="#111111" text-anchor="end" transform="rotate(-90 924.4 133.4)">12m</text>
<line x1="591.3" y1="165.0" x2="797.0" y2="165.0" stroke="#111111" stroke-width="1.5"/>
<text x="510.9" y="186.0" font-size="27" fill="#111111" font-weight="bold" text-anchor="start">Time</text>
<text x="591.0" y="187.9" font-size="27" fill="#111111" text-anchor="start">hours</text>
<text x="936.3" y="237.5" font-size="33" fill="#e6c21a" text-anchor="end">healthy (H)</text>
<text x="936.3" y="288.2" font-size="33" fill="#111111" font-weight="bold" text-anchor="end">28-day survival</text>
<text x="936.3" y="322.3" font-size="33" fill="#c4b79c" text-anchor="end">survived</text>
<text x="936.3" y="351.8" font-size="33" fill="#ec1f26" text-anchor="end">died</text>
<text x="936.3" y="411.0" font-size="33" fill="#111111" font-weight="bold" text-anchor="end">Mean Trajectory</text>
<rect x="795" y="416.4" width="151" height="70.3" rx="12" fill="#d2e9d9"/>
<text x="936.3" y="443.6" font-size="33" fill="#7b6a4c" text-anchor="end">survived</text>
<text x="936.3" y="472.8" font-size="33" fill="#7e1f2b" text-anchor="end">died</text>
<rect x="1047.8" y="14" width="295.8" height="284.4" rx="9.7" fill="#f8ecc8" stroke="#c8c8c8" stroke-width="0.8"/>
<rect x="1047.8" y="327.2" width="295.8" height="283.3" rx="9.7" fill="#ece7e0" stroke="#c8c8c8" stroke-width="0.8"/>
<rect x="1047.8" y="639" width="295.8" height="284.3" rx="9.7" fill="#f9cab8" stroke="#c8c8c8" stroke-width="0.8"/>
<line x1="1047.8" y1="21.1" x2="1047.8" y2="291.9" stroke="#111111" stroke-width="2"/>
<line x1="1037.7" y1="21.1" x2="1047.8" y2="21.1" stroke="#111111" stroke-width="2"/>
<line x1="1037.7" y1="88.8" x2="1047.8" y2="88.8" stroke="#111111" stroke-width="2"/>
<line x1="1037.7" y1="156.5" x2="1047.8" y2="156.5" stroke="#111111" stroke-width="2"/>
<line x1="1037.7" y1="224.2" x2="1047.8" y2="224.2" stroke="#111111" stroke-width="2"/>
<line x1="1037.7" y1="291.9" x2="1047.8" y2="291.9" stroke="#111111" stroke-width="2"/>
<text x="1033.0" y="36.9" font-size="35" fill="#111111" text-anchor="end">1</text>
<text x="1033.0" y="307.4" font-size="35" fill="#111111" text-anchor="end">0</text>
<line x1="1047.8" y1="332.6" x2="1047.8" y2="603.6" stroke="#111111" stroke-width="2"/>
<line x1="1037.7" y1="332.6" x2="1047.8" y2="332.6" stroke="#111111" stroke-width="2"/>
<line x1="1037.7" y1="400.4" x2="1047.8" y2="400.4" stroke="#111111" stroke-width="2"/>
<line x1="1037.7" y1="468.1" x2="1047.8" y2="468.1" stroke="#111111" stroke-width="2"/>
<line x1="1037.7" y1="535.9" x2="1047.8" y2="535.9" stroke="#111111" stroke-width="2"/>
<line x1="1037.7" y1="603.6" x2="1047.8" y2="603.6" stroke="#111111" stroke-width="2"/>
<text x="1033.0" y="348.4" font-size="35" fill="#111111" text-anchor="end">1</text>
<text x="1033.0" y="619.1" font-size="35" fill="#111111" text-anchor="end">0</text>
<line x1="1047.8" y1="645.2" x2="1047.8" y2="915.8" stroke="#111111" stroke-width="2"/>
<line x1="1037.7" y1="645.2" x2="1047.8" y2="645.2" stroke="#111111" stroke-width="2"/>
<line x1="1037.7" y1="712.9" x2="1047.8" y2="712.9" stroke="#111111" stroke-width="2"/>
<line x1="1037.7" y1="780.5" x2="1047.8" y2="780.5" stroke="#111111" stroke-width="2"/>
<line x1="1037.7" y1="848.1" x2="1047.8" y2="848.1" stroke="#111111" stroke-width="2"/>
<line x1="1037.7" y1="915.8" x2="1047.8" y2="915.8" stroke="#111111" stroke-width="2"/>
<text x="1033.0" y="661.0" font-size="35" fill="#111111" text-anchor="end">1</text>
<text x="1033.0" y="931.3" font-size="35" fill="#111111" text-anchor="end">0</text>
<line x1="1059.7" y1="927.6" x2="1330.3" y2="927.6" stroke="#111111" stroke-width="2"/>
<line x1="1059.7" y1="927.6" x2="1059.7" y2="937.8" stroke="#111111" stroke-width="2"/>
<line x1="1127.4" y1="927.6" x2="1127.4" y2="937.8" stroke="#111111" stroke-width="2"/>
<line x1="1195.0" y1="927.6" x2="1195.0" y2="937.8" stroke="#111111" stroke-width="2"/>
<line x1="1262.7" y1="927.6" x2="1262.7" y2="937.8" stroke="#111111" stroke-width="2"/>
<line x1="1330.3" y1="927.6" x2="1330.3" y2="937.8" stroke="#111111" stroke-width="2"/>
<text x="1059.3" y="968.3" font-size="35" fill="#111111" text-anchor="middle">0</text>
<text x="1329.0" y="968.3" font-size="35" fill="#111111" text-anchor="middle">1</text>
<text x="1192.8" y="981.8" font-size="34" fill="#111111" font-weight="bold" text-anchor="middle" textLength="56.3" lengthAdjust="spacingAndGlyphs">P23</text>
<text x="998.8" y="473.3" font-size="34" fill="#111111" font-weight="bold" text-anchor="middle" transform="rotate(-90 998.8 473.3)" textLength="37.2" lengthAdjust="spacingAndGlyphs">P4</text>
<text x="1326.8" y="54.2" font-size="33" fill="#e6c21a" text-anchor="end">healthy</text>
<text x="1325.7" y="367.9" font-size="33" fill="#c4b79c" text-anchor="end">survived</text>
<text x="1325.3" y="683.8" font-size="33" fill="#ec1f26" text-anchor="end">died</text>
<circle cx="1095.4" cy="21.1" r="3.4" fill="#ffffff" stroke="#231f20" stroke-width="0.9"/>
<circle cx="1079.7" cy="27.6" r="3.4" fill="#ffffff" stroke="#231f20" stroke-width="0.9"/>
<circle cx="1086.2" cy="42.0" r="3.4" fill="#ffffff" stroke="#231f20" stroke-width="0.9"/>
<circle cx="1075.4" cy="48.5" r="3.4" fill="#ffffff" stroke="#231f20" stroke-width="0.9"/>
<circle cx="1081.2" cy="49.1" r="3.4" fill="#ffffff" stroke="#231f20" stroke-width="0.9"/>
<circle cx="1059.7" cy="54.9" r="3.4" fill="#ffffff" stroke="#231f20" stroke-width="0.9"/>
<circle cx="1063.6" cy="62.5" r="3.4" fill="#ffffff" stroke="#231f20" stroke-width="0.9"/>
<circle cx="1068.9" cy="61.4" r="3.4" fill="#ffffff" stroke="#231f20" stroke-width="0.9"/>
<circle cx="1092.0" cy="61.4" r="3.4" fill="#ffffff" stroke="#231f20" stroke-width="0.9"/>
<circle cx="1065.7" cy="70.7" r="3.4" fill="#ffffff" stroke="#231f20" stroke-width="0.9"/>
<circle cx="1089.4" cy="72.2" r="3.4" fill="#ffffff" stroke="#231f20" stroke-width="0.9"/>
<circle cx="1092.0" cy="76.9" r="3.4" fill="#ffffff" stroke="#231f20" stroke-width="0.9"/>
<circle cx="1064.6" cy="76.5" r="3.4" fill="#ffffff" stroke="#231f20" stroke-width="0.9"/>
<circle cx="1067.9" cy="79.1" r="3.4" fill="#ffffff" stroke="#231f20" stroke-width="0.9"/>
<circle cx="1075.8" cy="78.6" r="3.4" fill="#ffffff" stroke="#231f20" stroke-width="0.9"/>
<circle cx="1059.7" cy="81.9" r="3.4" fill="#ffffff" stroke="#231f20" stroke-width="0.9"/>
<circle cx="1059.7" cy="82.9" r="3.4" fill="#ffffff" stroke="#231f20" stroke-width="0.9"/>
<circle cx="1059.7" cy="88.3" r="3.4" fill="#ffffff" stroke="#231f20" stroke-width="0.9"/>
<circle cx="1059.7" cy="93.1" r="3.4" fill="#ffffff" stroke="#231f20" stroke-width="0.9"/>
<circle cx="1068.9" cy="90.5" r="3.4" fill="#ffffff" stroke="#231f20" stroke-width="0.9"/>
<circle cx="1071.1" cy="93.7" r="3.4" fill="#ffffff" stroke="#231f20" stroke-width="0.9"/>
<circle cx="1076.9" cy="95.9" r="3.4" fill="#ffffff" stroke="#231f20" stroke-width="0.9"/>
<circle cx="1068.9" cy="96.5" r="3.4" fill="#ffffff" stroke="#231f20" stroke-width="0.9"/>
<circle cx="1065.7" cy="100.2" r="3.4" fill="#ffffff" stroke="#231f20" stroke-width="0.9"/>
<circle cx="1071.1" cy="100.8" r="3.4" fill="#ffffff" stroke="#231f20" stroke-width="0.9"/>
<circle cx="1059.7" cy="103.8" r="3.4" fill="#ffffff" stroke="#231f20" stroke-width="0.9"/>
<circle cx="1066.8" cy="105.6" r="3.4" fill="#ffffff" stroke="#231f20" stroke-width="0.9"/>
<circle cx="1070.0" cy="107.7" r="3.4" fill="#ffffff" stroke="#231f20" stroke-width="0.9"/>
<circle cx="1071.1" cy="111.0" r="3.4" fill="#ffffff" stroke="#231f20" stroke-width="0.9"/>
<circle cx="1059.7" cy="109.9" r="3.4" fill="#ffffff" stroke="#231f20" stroke-width="0.9"/>
<circle cx="1059.7" cy="114.2" r="3.4" fill="#ffffff" stroke="#231f20" stroke-width="0.9"/>
<circle cx="1059.7" cy="117.4" r="3.4" fill="#ffffff" stroke="#231f20" stroke-width="0.9"/>
<circle cx="1065.7" cy="121.1" r="3.4" fill="#ffffff" stroke="#231f20" stroke-width="0.9"/>
<circle cx="1059.7" cy="123.9" r="3.4" fill="#ffffff" stroke="#231f20" stroke-width="0.9"/>
<circle cx="1059.7" cy="139.0" r="3.4" fill="#ffffff" stroke="#231f20" stroke-width="0.9"/>
<circle cx="1059.7" cy="149.1" r="3.4" fill="#ffffff" stroke="#231f20" stroke-width="0.9"/>
<circle cx="1059.7" cy="157.3" r="3.4" fill="#ffffff" stroke="#231f20" stroke-width="0.9"/>
<circle cx="1063.5" cy="494.7" r="3.4" fill="#ffffff" stroke="#231f20" stroke-width="0.9"/>
<circle cx="1061.0" cy="411.0" r="3.4" fill="#ffffff" stroke="#231f20" stroke-width="0.9"/>
<circle cx="1075.9" cy="436.7" r="3.4" fill="#6a6a6a" stroke="#231f20" stroke-width="0.9"/>
<circle cx="1064.6" cy="393.2" r="3.4" fill="#ffffff" stroke="#231f20" stroke-width="0.9"/>
<circle cx="1074.3" cy="406.8" r="3.4" fill="#6a6a6a" stroke="#231f20" stroke-width="0.9"/>
<circle cx="1062.6" cy="415.5" r="3.4" fill="#6a6a6a" stroke="#231f20" stroke-width="0.9"/>
<circle cx="1067.2" cy="505.1" r="3.4" fill="#ffffff" stroke="#231f20" stroke-width="0.9"/>
<circle cx="1060.4" cy="497.0" r="3.4" fill="#ffffff" stroke="#231f20" stroke-width="0.9"/>
<circle cx="1060.4" cy="486.9" r="3.4" fill="#d6d6d6" stroke="#231f20" stroke-width="0.9"/>
<circle cx="1067.8" cy="396.7" r="3.4" fill="#ffffff" stroke="#231f20" stroke-width="0.9"/>
<circle cx="1060.2" cy="456.7" r="3.4" fill="#ffffff" stroke="#231f20" stroke-width="0.9"/>
<circle cx="1072.4" cy="466.5" r="3.4" fill="#6a6a6a" stroke="#231f20" stroke-width="0.9"/>
<circle cx="1062.0" cy="423.0" r="3.4" fill="#ffffff" stroke="#231f20" stroke-width="0.9"/>
<circle cx="1072.8" cy="423.0" r="3.4" fill="#6a6a6a" stroke="#231f20" stroke-width="0.9"/>
<circle cx="1084.6" cy="430.5" r="3.4" fill="#333333" stroke="#231f20" stroke-width="0.9"/>
<circle cx="1061.2" cy="468.5" r="3.4" fill="#d6d6d6" stroke="#231f20" stroke-width="0.9"/>
<circle cx="1064.4" cy="537.6" r="3.4" fill="#ffffff" stroke="#231f20" stroke-width="0.9"/>
<circle cx="1066.3" cy="453.3" r="3.4" fill="#ffffff" stroke="#231f20" stroke-width="0.9"/>
<circle cx="1077.4" cy="464.9" r="3.4" fill="#ffffff" stroke="#231f20" stroke-width="0.9"/>
<circle cx="1066.8" cy="465.4" r="3.4" fill="#ffffff" stroke="#231f20" stroke-width="0.9"/>
<circle cx="1077.8" cy="480.6" r="3.4" fill="#ffffff" stroke="#231f20" stroke-width="0.9"/>
<circle cx="1067.4" cy="456.4" r="3.4" fill="#ffffff" stroke="#231f20" stroke-width="0.9"/>
<circle cx="1062.7" cy="468.2" r="3.4" fill="#6a6a6a" stroke="#231f20" stroke-width="0.9"/>
<circle cx="1063.8" cy="437.1" r="3.4" fill="#ffffff" stroke="#231f20" stroke-width="0.9"/>
<circle cx="1062.7" cy="451.8" r="3.4" fill="#ffffff" stroke="#231f20" stroke-width="0.9"/>
<circle cx="1067.6" cy="445.7" r="3.4" fill="#6a6a6a" stroke="#231f20" stroke-width="0.9"/>
<circle cx="1065.3" cy="436.3" r="3.4" fill="#a3a3a3" stroke="#231f20" stroke-width="0.9"/>
<circle cx="1060.9" cy="471.6" r="3.4" fill="#6a6a6a" stroke="#231f20" stroke-width="0.9"/>
<circle cx="1064.2" cy="453.8" r="3.4" fill="#6a6a6a" stroke="#231f20" stroke-width="0.9"/>
<circle cx="1069.1" cy="428.0" r="3.4" fill="#a3a3a3" stroke="#231f20" stroke-width="0.9"/>
<circle cx="1071.6" cy="461.7" r="3.4" fill="#6a6a6a" stroke="#231f20" stroke-width="0.9"/>
<circle cx="1061.9" cy="495.4" r="3.4" fill="#6a6a6a" stroke="#231f20" stroke-width="0.9"/>
<circle cx="1065.3" cy="473.3" r="3.4" fill="#6a6a6a" stroke="#231f20" stroke-width="0.9"/>
<circle cx="1065.2" cy="468.7" r="3.4" fill="#d6d6d6" stroke="#231f20" stroke-width="0.9"/>
<circle cx="1062.9" cy="472.8" r="3.4" fill="#a3a3a3" stroke="#231f20" stroke-width="0.9"/>
<circle cx="1071.1" cy="503.8" r="3.4" fill="#6a6a6a" stroke="#231f20" stroke-width="0.9"/>
<circle cx="1060.2" cy="472.3" r="3.4" fill="#6a6a6a" stroke="#231f20" stroke-width="0.9"/>
<circle cx="1074.0" cy="402.9" r="3.4" fill="#a3a3a3" stroke="#231f20" stroke-width="0.9"/>
<circle cx="1074.3" cy="444.1" r="3.4" fill="#ffffff" stroke="#231f20" stroke-width="0.9"/>
<circle cx="1067.5" cy="540.4" r="3.4" fill="#ffffff" stroke="#231f20" stroke-width="0.9"/>
<circle cx="1068.9" cy="497.8" r="3.4" fill="#ffffff" stroke="#231f20" stroke-width="0.9"/>
<circle cx="1064.2" cy="413.0" r="3.4" fill="#6a6a6a" stroke="#231f20" stroke-width="0.9"/>
<circle cx="1071.1" cy="403.5" r="3.4" fill="#a3a3a3" stroke="#231f20" stroke-width="0.9"/>
<circle cx="1063.2" cy="515.4" r="3.4" fill="#d6d6d6" stroke="#231f20" stroke-width="0.9"/>
<circle cx="1063.5" cy="469.2" r="3.4" fill="#ffffff" stroke="#231f20" stroke-width="0.9"/>
<circle cx="1064.2" cy="473.6" r="3.4" fill="#a3a3a3" stroke="#231f20" stroke-width="0.9"/>
<circle cx="1065.1" cy="477.3" r="3.4" fill="#a3a3a3" stroke="#231f20" stroke-width="0.9"/>
<circle cx="1076.8" cy="484.8" r="3.4" fill="#ffffff" stroke="#231f20" stroke-width="0.9"/>
<circle cx="1063.6" cy="465.2" r="3.4" fill="#ffffff" stroke="#231f20" stroke-width="0.9"/>
<circle cx="1069.5" cy="388.4" r="3.4" fill="#333333" stroke="#231f20" stroke-width="0.9"/>
<circle cx="1061.0" cy="488.3" r="3.4" fill="#a3a3a3" stroke="#231f20" stroke-width="0.9"/>
<circle cx="1062.0" cy="437.4" r="3.4" fill="#a3a3a3" stroke="#231f20" stroke-width="0.9"/>
<circle cx="1075.6" cy="510.0" r="3.4" fill="#a3a3a3" stroke="#231f20" stroke-width="0.9"/>
<circle cx="1065.1" cy="447.2" r="3.4" fill="#ffffff" stroke="#231f20" stroke-width="0.9"/>
<circle cx="1072.0" cy="456.4" r="3.4" fill="#d6d6d6" stroke="#231f20" stroke-width="0.9"/>
<circle cx="1068.3" cy="460.1" r="3.4" fill="#6a6a6a" stroke="#231f20" stroke-width="0.9"/>
<circle cx="1061.2" cy="446.2" r="3.4" fill="#ffffff" stroke="#231f20" stroke-width="0.9"/>
<circle cx="1068.3" cy="479.4" r="3.4" fill="#6a6a6a" stroke="#231f20" stroke-width="0.9"/>
<circle cx="1077.3" cy="402.4" r="3.4" fill="#333333" stroke="#231f20" stroke-width="0.9"/>
<circle cx="1064.8" cy="455.9" r="3.4" fill="#ffffff" stroke="#231f20" stroke-width="0.9"/>
<circle cx="1071.8" cy="525.2" r="3.4" fill="#d6d6d6" stroke="#231f20" stroke-width="0.9"/>
<circle cx="1061.3" cy="499.8" r="3.4" fill="#333333" stroke="#231f20" stroke-width="0.9"/>
<circle cx="1070.3" cy="441.6" r="3.4" fill="#ffffff" stroke="#231f20" stroke-width="0.9"/>
<circle cx="1075.7" cy="461.8" r="3.4" fill="#6a6a6a" stroke="#231f20" stroke-width="0.9"/>
<circle cx="1089.9" cy="428.5" r="3.4" fill="#6a6a6a" stroke="#231f20" stroke-width="0.9"/>
<circle cx="1062.9" cy="456.0" r="3.4" fill="#ffffff" stroke="#231f20" stroke-width="0.9"/>
<circle cx="1074.0" cy="457.7" r="3.4" fill="#6a6a6a" stroke="#231f20" stroke-width="0.9"/>
<circle cx="1066.1" cy="447.8" r="3.4" fill="#6a6a6a" stroke="#231f20" stroke-width="0.9"/>
<circle cx="1061.8" cy="477.7" r="3.4" fill="#d6d6d6" stroke="#231f20" stroke-width="0.9"/>
<circle cx="1063.7" cy="491.9" r="3.4" fill="#a3a3a3" stroke="#231f20" stroke-width="0.9"/>
<circle cx="1079.6" cy="448.6" r="3.4" fill="#d6d6d6" stroke="#231f20" stroke-width="0.9"/>
<circle cx="1066.4" cy="417.6" r="3.4" fill="#333333" stroke="#231f20" stroke-width="0.9"/>
<circle cx="1060.4" cy="419.3" r="3.4" fill="#d6d6d6" stroke="#231f20" stroke-width="0.9"/>
<circle cx="1071.2" cy="444.4" r="3.4" fill="#6a6a6a" stroke="#231f20" stroke-width="0.9"/>
<circle cx="1068.8" cy="486.7" r="3.4" fill="#6a6a6a" stroke="#231f20" stroke-width="0.9"/>
<circle cx="1062.4" cy="462.9" r="3.4" fill="#ffffff" stroke="#231f20" stroke-width="0.9"/>
<circle cx="1062.4" cy="459.3" r="3.4" fill="#6a6a6a" stroke="#231f20" stroke-width="0.9"/>
<circle cx="1065.8" cy="490.7" r="3.4" fill="#d6d6d6" stroke="#231f20" stroke-width="0.9"/>
<circle cx="1062.4" cy="471.1" r="3.4" fill="#6a6a6a" stroke="#231f20" stroke-width="0.9"/>
<circle cx="1061.1" cy="516.8" r="3.4" fill="#ffffff" stroke="#231f20" stroke-width="0.9"/>
<circle cx="1072.6" cy="452.2" r="3.4" fill="#ffffff" stroke="#231f20" stroke-width="0.9"/>
<circle cx="1065.0" cy="535.2" r="3.4" fill="#ffffff" stroke="#231f20" stroke-width="0.9"/>
<circle cx="1076.7" cy="501.4" r="3.4" fill="#6a6a6a" stroke="#231f20" stroke-width="0.9"/>
<circle cx="1074.5" cy="470.7" r="3.4" fill="#a3a3a3" stroke="#231f20" stroke-width="0.9"/>
<circle cx="1069.5" cy="491.9" r="3.4" fill="#ffffff" stroke="#231f20" stroke-width="0.9"/>
<circle cx="1067.7" cy="488.0" r="3.4" fill="#6a6a6a" stroke="#231f20" stroke-width="0.9"/>
<circle cx="1080.4" cy="503.0" r="3.4" fill="#ffffff" stroke="#231f20" stroke-width="0.9"/>
<circle cx="1074.3" cy="498.9" r="3.4" fill="#a3a3a3" stroke="#231f20" stroke-width="0.9"/>
<circle cx="1084.2" cy="436.8" r="3.4" fill="#333333" stroke="#231f20" stroke-width="0.9"/>
<circle cx="1063.4" cy="485.0" r="3.4" fill="#ffffff" stroke="#231f20" stroke-width="0.9"/>
<circle cx="1060.3" cy="413.4" r="3.4" fill="#6a6a6a" stroke="#231f20" stroke-width="0.9"/>
<circle cx="1063.5" cy="433.5" r="3.4" fill="#6a6a6a" stroke="#231f20" stroke-width="0.9"/>
<circle cx="1075.1" cy="444.3" r="3.4" fill="#a3a3a3" stroke="#231f20" stroke-width="0.9"/>
<circle cx="1073.7" cy="475.7" r="3.4" fill="#ffffff" stroke="#231f20" stroke-width="0.9"/>
<circle cx="1063.3" cy="394.4" r="3.4" fill="#6a6a6a" stroke="#231f20" stroke-width="0.9"/>
<circle cx="1079.1" cy="469.3" r="3.4" fill="#a3a3a3" stroke="#231f20" stroke-width="0.9"/>
<circle cx="1066.6" cy="429.7" r="3.4" fill="#a3a3a3" stroke="#231f20" stroke-width="0.9"/>
<circle cx="1067.9" cy="445.1" r="3.4" fill="#6a6a6a" stroke="#231f20" stroke-width="0.9"/>
<circle cx="1062.0" cy="451.0" r="3.4" fill="#d6d6d6" stroke="#231f20" stroke-width="0.9"/>
<circle cx="1068.2" cy="520.8" r="3.4" fill="#ffffff" stroke="#231f20" stroke-width="0.9"/>
<circle cx="1067.6" cy="407.3" r="3.4" fill="#6a6a6a" stroke="#231f20" stroke-width="0.9"/>
<circle cx="1064.8" cy="427.2" r="3.4" fill="#6a6a6a" stroke="#231f20" stroke-width="0.9"/>
<circle cx="1068.8" cy="485.6" r="3.4" fill="#a3a3a3" stroke="#231f20" stroke-width="0.9"/>
<circle cx="1067.8" cy="449.5" r="3.4" fill="#333333" stroke="#231f20" stroke-width="0.9"/>
<circle cx="1070.3" cy="397.9" r="3.4" fill="#6a6a6a" stroke="#231f20" stroke-width="0.9"/>
<circle cx="1061.3" cy="477.7" r="3.4" fill="#ffffff" stroke="#231f20" stroke-width="0.9"/>
<circle cx="1067.3" cy="434.0" r="3.4" fill="#ffffff" stroke="#231f20" stroke-width="0.9"/>
<circle cx="1065.6" cy="400.7" r="3.4" fill="#a3a3a3" stroke="#231f20" stroke-width="0.9"/>
<circle cx="1063.4" cy="437.6" r="3.4" fill="#ffffff" stroke="#231f20" stroke-width="0.9"/>
<circle cx="1067.6" cy="458.9" r="3.4" fill="#ffffff" stroke="#231f20" stroke-width="0.9"/>
<circle cx="1060.1" cy="425.1" r="3.4" fill="#6a6a6a" stroke="#231f20" stroke-width="0.9"/>
<circle cx="1068.7" cy="498.1" r="3.4" fill="#333333" stroke="#231f20" stroke-width="0.9"/>
<circle cx="1059.9" cy="464.2" r="3.4" fill="#d6d6d6" stroke="#231f20" stroke-width="0.9"/>
<circle cx="1074.2" cy="459.5" r="3.4" fill="#6a6a6a" stroke="#231f20" stroke-width="0.9"/>
<circle cx="1085.6" cy="471.5" r="3.4" fill="#6a6a6a" stroke="#231f20" stroke-width="0.9"/>
<circle cx="1059.9" cy="516.5" r="3.4" fill="#d6d6d6" stroke="#231f20" stroke-width="0.9"/>
<circle cx="1061.3" cy="403.7" r="3.4" fill="#d6d6d6" stroke="#231f20" stroke-width="0.9"/>
<circle cx="1061.1" cy="485.2" r="3.4" fill="#a3a3a3" stroke="#231f20" stroke-width="0.9"/>
<circle cx="1061.1" cy="470.1" r="3.4" fill="#ffffff" stroke="#231f20" stroke-width="0.9"/>
<circle cx="1060.1" cy="441.5" r="3.4" fill="#a3a3a3" stroke="#231f20" stroke-width="0.9"/>
<circle cx="1060.9" cy="402.9" r="3.4" fill="#ffffff" stroke="#231f20" stroke-width="0.9"/>
<circle cx="1061.0" cy="468.1" r="3.4" fill="#6a6a6a" stroke="#231f20" stroke-width="0.9"/>
<circle cx="1061.4" cy="510.3" r="3.4" fill="#d6d6d6" stroke="#231f20" stroke-width="0.9"/>
<circle cx="1061.4" cy="476.4" r="3.4" fill="#6a6a6a" stroke="#231f20" stroke-width="0.9"/>
<circle cx="1060.5" cy="534.8" r="3.4" fill="#ffffff" stroke="#231f20" stroke-width="0.9"/>
<circle cx="1061.1" cy="558.4" r="3.4" fill="#ffffff" stroke="#231f20" stroke-width="0.9"/>
<circle cx="1060.0" cy="589.5" r="3.4" fill="#d6d6d6" stroke="#231f20" stroke-width="0.9"/>
<circle cx="1060.0" cy="504.5" r="3.4" fill="#d6d6d6" stroke="#231f20" stroke-width="0.9"/>
<circle cx="1061.2" cy="454.9" r="3.4" fill="#6a6a6a" stroke="#231f20" stroke-width="0.9"/>
<circle cx="1060.9" cy="401.7" r="3.4" fill="#6a6a6a" stroke="#231f20" stroke-width="0.9"/>
<circle cx="1061.1" cy="595.3" r="3.4" fill="#ffffff" stroke="#231f20" stroke-width="0.9"/>
<circle cx="1060.0" cy="389.3" r="3.4" fill="#333333" stroke="#231f20" stroke-width="0.9"/>
<circle cx="1060.8" cy="591.8" r="3.4" fill="#d6d6d6" stroke="#231f20" stroke-width="0.9"/>
<circle cx="1061.6" cy="528.6" r="3.4" fill="#d6d6d6" stroke="#231f20" stroke-width="0.9"/>
<circle cx="1060.1" cy="415.6" r="3.4" fill="#a3a3a3" stroke="#231f20" stroke-width="0.9"/>
<circle cx="1060.4" cy="501.2" r="3.4" fill="#6a6a6a" stroke="#231f20" stroke-width="0.9"/>
<circle cx="1060.7" cy="398.6" r="3.4" fill="#6a6a6a" stroke="#231f20" stroke-width="0.9"/>
<circle cx="1061.2" cy="400.5" r="3.4" fill="#a3a3a3" stroke="#231f20" stroke-width="0.9"/>
<circle cx="1060.0" cy="431.7" r="3.4" fill="#6a6a6a" stroke="#231f20" stroke-width="0.9"/>
<circle cx="1060.9" cy="571.2" r="3.4" fill="#d6d6d6" stroke="#231f20" stroke-width="0.9"/>
<circle cx="1061.6" cy="413.0" r="3.4" fill="#a3a3a3" stroke="#231f20" stroke-width="0.9"/>
<circle cx="1060.7" cy="498.8" r="3.4" fill="#ffffff" stroke="#231f20" stroke-width="0.9"/>
<circle cx="1060.6" cy="477.2" r="3.4" fill="#d6d6d6" stroke="#231f20" stroke-width="0.9"/>
<circle cx="1061.6" cy="437.4" r="3.4" fill="#ffffff" stroke="#231f20" stroke-width="0.9"/>
<circle cx="1060.0" cy="409.2" r="3.4" fill="#d6d6d6" stroke="#231f20" stroke-width="0.9"/>
<circle cx="1061.4" cy="517.0" r="3.4" fill="#d6d6d6" stroke="#231f20" stroke-width="0.9"/>
<circle cx="1061.5" cy="428.3" r="3.4" fill="#a3a3a3" stroke="#231f20" stroke-width="0.9"/>
<circle cx="1061.1" cy="420.0" r="3.4" fill="#ffffff" stroke="#231f20" stroke-width="0.9"/>
<circle cx="1061.5" cy="563.7" r="3.4" fill="#ffffff" stroke="#231f20" stroke-width="0.9"/>
<circle cx="1060.6" cy="522.2" r="3.4" fill="#ffffff" stroke="#231f20" stroke-width="0.9"/>
<circle cx="1060.7" cy="510.7" r="3.4" fill="#a3a3a3" stroke="#231f20" stroke-width="0.9"/>
<circle cx="1061.0" cy="413.1" r="3.4" fill="#d6d6d6" stroke="#231f20" stroke-width="0.9"/>
<circle cx="1060.3" cy="516.5" r="3.4" fill="#ffffff" stroke="#231f20" stroke-width="0.9"/>
<circle cx="1060.0" cy="430.9" r="3.4" fill="#ffffff" stroke="#231f20" stroke-width="0.9"/>
<circle cx="1060.5" cy="450.0" r="3.4" fill="#6a6a6a" stroke="#231f20" stroke-width="0.9"/>
<circle cx="1060.3" cy="441.7" r="3.4" fill="#d6d6d6" stroke="#231f20" stroke-width="0.9"/>
<circle cx="1061.0" cy="407.3" r="3.4" fill="#6a6a6a" stroke="#231f20" stroke-width="0.9"/>
<circle cx="1060.3" cy="471.4" r="3.4" fill="#d6d6d6" stroke="#231f20" stroke-width="0.9"/>
<circle cx="1060.9" cy="603.0" r="3.4" fill="#ffffff" stroke="#231f20" stroke-width="0.9"/>
<circle cx="1059.9" cy="573.8" r="3.4" fill="#a3a3a3" stroke="#231f20" stroke-width="0.9"/>
<circle cx="1060.1" cy="477.1" r="3.4" fill="#6a6a6a" stroke="#231f20" stroke-width="0.9"/>
<circle cx="1061.2" cy="476.8" r="3.4" fill="#a3a3a3" stroke="#231f20" stroke-width="0.9"/>
<circle cx="1060.2" cy="496.3" r="3.4" fill="#ffffff" stroke="#231f20" stroke-width="0.9"/>
<circle cx="1061.3" cy="424.1" r="3.4" fill="#d6d6d6" stroke="#231f20" stroke-width="0.9"/>
<circle cx="1061.1" cy="387.8" r="3.4" fill="#a3a3a3" stroke="#231f20" stroke-width="0.9"/>
<circle cx="1061.2" cy="411.1" r="3.4" fill="#6a6a6a" stroke="#231f20" stroke-width="0.9"/>
<circle cx="1060.4" cy="388.7" r="3.4" fill="#a3a3a3" stroke="#231f20" stroke-width="0.9"/>
<circle cx="1061.2" cy="444.2" r="3.4" fill="#6a6a6a" stroke="#231f20" stroke-width="0.9"/>
<circle cx="1060.6" cy="508.9" r="3.4" fill="#ffffff" stroke="#231f20" stroke-width="0.9"/>
<circle cx="1060.7" cy="599.1" r="3.4" fill="#d6d6d6" stroke="#231f20" stroke-width="0.9"/>
<circle cx="1061.1" cy="432.0" r="3.4" fill="#6a6a6a" stroke="#231f20" stroke-width="0.9"/>
<circle cx="1060.6" cy="594.3" r="3.4" fill="#a3a3a3" stroke="#231f20" stroke-width="0.9"/>
<circle cx="1061.2" cy="472.7" r="3.4" fill="#333333" stroke="#231f20" stroke-width="0.9"/>
<circle cx="1060.8" cy="391.9" r="3.4" fill="#d6d6d6" stroke="#231f20" stroke-width="0.9"/>
<circle cx="1060.0" cy="440.8" r="3.4" fill="#6a6a6a" stroke="#231f20" stroke-width="0.9"/>
<circle cx="1060.6" cy="505.6" r="3.4" fill="#a3a3a3" stroke="#231f20" stroke-width="0.9"/>
<circle cx="1061.0" cy="485.1" r="3.4" fill="#333333" stroke="#231f20" stroke-width="0.9"/>
<circle cx="1060.3" cy="449.5" r="3.4" fill="#6a6a6a" stroke="#231f20" stroke-width="0.9"/>
<circle cx="1060.7" cy="569.1" r="3.4" fill="#d6d6d6" stroke="#231f20" stroke-width="0.9"/>
<circle cx="1060.9" cy="555.0" r="3.4" fill="#ffffff" stroke="#231f20" stroke-width="0.9"/>
<circle cx="1060.0" cy="426.9" r="3.4" fill="#6a6a6a" stroke="#231f20" stroke-width="0.9"/>
<circle cx="1061.0" cy="566.7" r="3.4" fill="#ffffff" stroke="#231f20" stroke-width="0.9"/>
<circle cx="1061.0" cy="519.6" r="3.4" fill="#ffffff" stroke="#231f20" stroke-width="0.9"/>
<circle cx="1060.9" cy="471.8" r="3.4" fill="#a3a3a3" stroke="#231f20" stroke-width="0.9"/>
<circle cx="1061.3" cy="536.6" r="3.4" fill="#ffffff" stroke="#231f20" stroke-width="0.9"/>
<circle cx="1060.7" cy="416.3" r="3.4" fill="#d6d6d6" stroke="#231f20" stroke-width="0.9"/>
<circle cx="1061.0" cy="558.3" r="3.4" fill="#ffffff" stroke="#231f20" stroke-width="0.9"/>
<circle cx="1060.2" cy="560.7" r="3.4" fill="#d6d6d6" stroke="#231f20" stroke-width="0.9"/>
<circle cx="1060.7" cy="496.1" r="3.4" fill="#d6d6d6" stroke="#231f20" stroke-width="0.9"/>
<circle cx="1060.7" cy="507.4" r="3.4" fill="#a3a3a3" stroke="#231f20" stroke-width="0.9"/>
<circle cx="1121.1" cy="373.1" r="3.4" fill="#333333" stroke="#231f20" stroke-width="0.9"/>
<circle cx="1059.9" cy="384.3" r="3.4" fill="#6a6a6a" stroke="#231f20" stroke-width="0.9"/>
<circle cx="1075.8" cy="384.8" r="3.4" fill="#6a6a6a" stroke="#231f20" stroke-width="0.9"/>
<circle cx="1087.3" cy="382.2" r="3.4" fill="#6a6a6a" stroke="#231f20" stroke-width="0.9"/>
<circle cx="1094.4" cy="383.9" r="3.4" fill="#ffffff" stroke="#231f20" stroke-width="0.9"/>
<circle cx="1093.1" cy="389.1" r="3.4" fill="#ffffff" stroke="#231f20" stroke-width="0.9"/>
<circle cx="1074.3" cy="391.4" r="3.4" fill="#6a6a6a" stroke="#231f20" stroke-width="0.9"/>
<circle cx="1081.4" cy="391.9" r="3.4" fill="#6a6a6a" stroke="#231f20" stroke-width="0.9"/>
<circle cx="1072.2" cy="396.6" r="3.4" fill="#6a6a6a" stroke="#231f20" stroke-width="0.9"/>
<circle cx="1077.6" cy="396.2" r="3.4" fill="#6a6a6a" stroke="#231f20" stroke-width="0.9"/>
<circle cx="1085.7" cy="402.6" r="3.4" fill="#d6d6d6" stroke="#231f20" stroke-width="0.9"/>
<circle cx="1097.4" cy="403.1" r="3.4" fill="#d6d6d6" stroke="#231f20" stroke-width="0.9"/>
<circle cx="1127.1" cy="403.3" r="3.4" fill="#6a6a6a" stroke="#231f20" stroke-width="0.9"/>
<circle cx="1097.4" cy="415.6" r="3.4" fill="#333333" stroke="#231f20" stroke-width="0.9"/>
<circle cx="1104.9" cy="415.6" r="3.4" fill="#6a6a6a" stroke="#231f20" stroke-width="0.9"/>
<circle cx="1101.7" cy="423.8" r="3.4" fill="#ffffff" stroke="#231f20" stroke-width="0.9"/>
<circle cx="1128.8" cy="427.4" r="3.4" fill="#ffffff" stroke="#231f20" stroke-width="0.9"/>
<circle cx="1088.8" cy="430.6" r="3.4" fill="#d6d6d6" stroke="#231f20" stroke-width="0.9"/>
<circle cx="1101.3" cy="446.8" r="3.4" fill="#d6d6d6" stroke="#231f20" stroke-width="0.9"/>
<circle cx="1140.0" cy="444.2" r="3.4" fill="#d6d6d6" stroke="#231f20" stroke-width="0.9"/>
<circle cx="1123.9" cy="450.0" r="3.4" fill="#ffffff" stroke="#231f20" stroke-width="0.9"/>
<circle cx="1129.9" cy="447.2" r="3.4" fill="#6a6a6a" stroke="#231f20" stroke-width="0.9"/>
<circle cx="1133.6" cy="452.2" r="3.4" fill="#6a6a6a" stroke="#231f20" stroke-width="0.9"/>
<circle cx="1146.9" cy="452.6" r="3.4" fill="#ffffff" stroke="#231f20" stroke-width="0.9"/>
<circle cx="1151.9" cy="459.7" r="3.4" fill="#d6d6d6" stroke="#231f20" stroke-width="0.9"/>
<circle cx="1180.5" cy="455.0" r="3.4" fill="#6a6a6a" stroke="#231f20" stroke-width="0.9"/>
<circle cx="1189.6" cy="449.4" r="3.4" fill="#ffffff" stroke="#231f20" stroke-width="0.9"/>
<circle cx="1108.4" cy="461.9" r="3.4" fill="#ffffff" stroke="#231f20" stroke-width="0.9"/>
<circle cx="1137.2" cy="464.0" r="3.4" fill="#ffffff" stroke="#231f20" stroke-width="0.9"/>
<circle cx="1100.2" cy="471.1" r="3.4" fill="#ffffff" stroke="#231f20" stroke-width="0.9"/>
<circle cx="1141.8" cy="475.5" r="3.4" fill="#ffffff" stroke="#231f20" stroke-width="0.9"/>
<circle cx="1140.5" cy="493.1" r="3.4" fill="#6a6a6a" stroke="#231f20" stroke-width="0.9"/>
<circle cx="1121.7" cy="505.4" r="3.4" fill="#ffffff" stroke="#231f20" stroke-width="0.9"/>
<circle cx="1092.6" cy="506.0" r="3.4" fill="#ffffff" stroke="#231f20" stroke-width="0.9"/>
<circle cx="1187.9" cy="505.6" r="3.4" fill="#6a6a6a" stroke="#231f20" stroke-width="0.9"/>
<circle cx="1153.4" cy="516.8" r="3.4" fill="#ffffff" stroke="#231f20" stroke-width="0.9"/>
<circle cx="1105.1" cy="517.3" r="3.4" fill="#ffffff" stroke="#231f20" stroke-width="0.9"/>
<circle cx="1109.2" cy="515.7" r="3.4" fill="#d6d6d6" stroke="#231f20" stroke-width="0.9"/>
<circle cx="1108.8" cy="525.0" r="3.4" fill="#ffffff" stroke="#231f20" stroke-width="0.9"/>
<circle cx="1103.0" cy="528.0" r="3.4" fill="#ffffff" stroke="#231f20" stroke-width="0.9"/>
<circle cx="1096.5" cy="522.2" r="3.4" fill="#ffffff" stroke="#231f20" stroke-width="0.9"/>
<circle cx="1104.9" cy="535.8" r="3.4" fill="#ffffff" stroke="#231f20" stroke-width="0.9"/>
<circle cx="1090.5" cy="520.7" r="3.4" fill="#d6d6d6" stroke="#231f20" stroke-width="0.9"/>
<circle cx="1089.4" cy="535.8" r="3.4" fill="#d6d6d6" stroke="#231f20" stroke-width="0.9"/>
<circle cx="1096.9" cy="541.2" r="3.4" fill="#6a6a6a" stroke="#231f20" stroke-width="0.9"/>
<circle cx="1129.9" cy="538.8" r="3.4" fill="#ffffff" stroke="#231f20" stroke-width="0.9"/>
<circle cx="1147.6" cy="540.5" r="3.4" fill="#ffffff" stroke="#231f20" stroke-width="0.9"/>
<circle cx="1188.5" cy="539.4" r="3.4" fill="#a3a3a3" stroke="#231f20" stroke-width="0.9"/>
<circle cx="1142.6" cy="545.3" r="3.4" fill="#a3a3a3" stroke="#231f20" stroke-width="0.9"/>
<circle cx="1129.3" cy="548.1" r="3.4" fill="#ffffff" stroke="#231f20" stroke-width="0.9"/>
<circle cx="1118.5" cy="545.9" r="3.4" fill="#ffffff" stroke="#231f20" stroke-width="0.9"/>
<circle cx="1090.9" cy="546.3" r="3.4" fill="#ffffff" stroke="#231f20" stroke-width="0.9"/>
<circle cx="1085.1" cy="547.6" r="3.4" fill="#a3a3a3" stroke="#231f20" stroke-width="0.9"/>
<circle cx="1162.0" cy="553.0" r="3.4" fill="#ffffff" stroke="#231f20" stroke-width="0.9"/>
<circle cx="1100.8" cy="554.5" r="3.4" fill="#a3a3a3" stroke="#231f20" stroke-width="0.9"/>
<circle cx="1106.6" cy="559.5" r="3.4" fill="#ffffff" stroke="#231f20" stroke-width="0.9"/>
<circle cx="1129.9" cy="558.8" r="3.4" fill="#d6d6d6" stroke="#231f20" stroke-width="0.9"/>
<circle cx="1280.1" cy="542.2" r="3.4" fill="#ffffff" stroke="#231f20" stroke-width="0.9"/>
<circle cx="1278.6" cy="548.7" r="3.4" fill="#d6d6d6" stroke="#231f20" stroke-width="0.9"/>
<circle cx="1104.9" cy="566.4" r="3.4" fill="#d6d6d6" stroke="#231f20" stroke-width="0.9"/>
<circle cx="1125.6" cy="566.4" r="3.4" fill="#ffffff" stroke="#231f20" stroke-width="0.9"/>
<circle cx="1124.5" cy="571.8" r="3.4" fill="#ffffff" stroke="#231f20" stroke-width="0.9"/>
<circle cx="1139.0" cy="563.8" r="3.4" fill="#d6d6d6" stroke="#231f20" stroke-width="0.9"/>
<circle cx="1143.3" cy="563.8" r="3.4" fill="#d6d6d6" stroke="#231f20" stroke-width="0.9"/>
<circle cx="1187.0" cy="568.5" r="3.4" fill="#6a6a6a" stroke="#231f20" stroke-width="0.9"/>
<circle cx="1254.9" cy="566.4" r="3.4" fill="#ffffff" stroke="#231f20" stroke-width="0.9"/>
<circle cx="1269.3" cy="570.2" r="3.4" fill="#d6d6d6" stroke="#231f20" stroke-width="0.9"/>
<circle cx="1244.5" cy="575.0" r="3.4" fill="#a3a3a3" stroke="#231f20" stroke-width="0.9"/>
<circle cx="1115.7" cy="573.9" r="3.4" fill="#ffffff" stroke="#231f20" stroke-width="0.9"/>
<circle cx="1109.9" cy="574.6" r="3.4" fill="#d6d6d6" stroke="#231f20" stroke-width="0.9"/>
<circle cx="1113.8" cy="583.2" r="3.4" fill="#ffffff" stroke="#231f20" stroke-width="0.9"/>
<circle cx="1121.1" cy="583.2" r="3.4" fill="#ffffff" stroke="#231f20" stroke-width="0.9"/>
<circle cx="1139.6" cy="579.3" r="3.4" fill="#ffffff" stroke="#231f20" stroke-width="0.9"/>
<circle cx="1175.6" cy="581.0" r="3.4" fill="#a3a3a3" stroke="#231f20" stroke-width="0.9"/>
<circle cx="1084.0" cy="572.8" r="3.4" fill="#ffffff" stroke="#231f20" stroke-width="0.9"/>
<circle cx="1085.1" cy="591.8" r="3.4" fill="#ffffff" stroke="#231f20" stroke-width="0.9"/>
<circle cx="1080.8" cy="599.3" r="3.4" fill="#ffffff" stroke="#231f20" stroke-width="0.9"/>
<circle cx="1164.4" cy="600.4" r="3.4" fill="#d6d6d6" stroke="#231f20" stroke-width="0.9"/>
<circle cx="1164.4" cy="604.1" r="3.4" fill="#ffffff" stroke="#231f20" stroke-width="0.9"/>
<circle cx="1106.2" cy="603.4" r="3.4" fill="#ffffff" stroke="#231f20" stroke-width="0.9"/>
<circle cx="1095.4" cy="603.0" r="3.4" fill="#d6d6d6" stroke="#231f20" stroke-width="0.9"/>
<circle cx="1087.3" cy="603.4" r="3.4" fill="#d6d6d6" stroke="#231f20" stroke-width="0.9"/>
<circle cx="1069.4" cy="603.4" r="3.4" fill="#d6d6d6" stroke="#231f20" stroke-width="0.9"/>
<circle cx="1059.9" cy="603.4" r="3.4" fill="#d6d6d6" stroke="#231f20" stroke-width="0.9"/>
<circle cx="1073.2" cy="543.8" r="3.4" fill="#d6d6d6" stroke="#231f20" stroke-width="0.9"/>
<circle cx="1076.5" cy="548.1" r="3.4" fill="#ffffff" stroke="#231f20" stroke-width="0.9"/>
<circle cx="1073.2" cy="559.9" r="3.4" fill="#ffffff" stroke="#231f20" stroke-width="0.9"/>
<circle cx="1075.8" cy="564.9" r="3.4" fill="#ffffff" stroke="#231f20" stroke-width="0.9"/>
<circle cx="1072.8" cy="568.5" r="3.4" fill="#ffffff" stroke="#231f20" stroke-width="0.9"/>
<circle cx="1070.4" cy="574.6" r="3.4" fill="#ffffff" stroke="#231f20" stroke-width="0.9"/>
<circle cx="1070.0" cy="580.6" r="3.4" fill="#ffffff" stroke="#231f20" stroke-width="0.9"/>
<circle cx="1064.6" cy="559.9" r="3.4" fill="#d6d6d6" stroke="#231f20" stroke-width="0.9"/>
<circle cx="1059.7" cy="716.5" r="3.4" fill="#ffffff" stroke="#231f20" stroke-width="0.9"/>
<circle cx="1065.7" cy="745.4" r="3.4" fill="#ffffff" stroke="#231f20" stroke-width="0.9"/>
<circle cx="1060.3" cy="750.3" r="3.4" fill="#d6d6d6" stroke="#231f20" stroke-width="0.9"/>
<circle cx="1073.2" cy="754.0" r="3.4" fill="#ffffff" stroke="#231f20" stroke-width="0.9"/>
<circle cx="1092.6" cy="749.3" r="3.4" fill="#ffffff" stroke="#231f20" stroke-width="0.9"/>
<circle cx="1094.1" cy="751.8" r="3.4" fill="#d6d6d6" stroke="#231f20" stroke-width="0.9"/>
<circle cx="1095.9" cy="739.6" r="3.4" fill="#a3a3a3" stroke="#231f20" stroke-width="0.9"/>
<circle cx="1115.7" cy="743.9" r="3.4" fill="#ffffff" stroke="#231f20" stroke-width="0.9"/>
<circle cx="1126.0" cy="748.2" r="3.4" fill="#a3a3a3" stroke="#231f20" stroke-width="0.9"/>
<circle cx="1135.3" cy="733.8" r="3.4" fill="#ffffff" stroke="#231f20" stroke-width="0.9"/>
<circle cx="1144.8" cy="728.2" r="3.4" fill="#6a6a6a" stroke="#231f20" stroke-width="0.9"/>
<circle cx="1176.2" cy="758.3" r="3.4" fill="#d6d6d6" stroke="#231f20" stroke-width="0.9"/>
<circle cx="1167.6" cy="767.8" r="3.4" fill="#ffffff" stroke="#231f20" stroke-width="0.9"/>
<circle cx="1098.5" cy="782.7" r="3.4" fill="#ffffff" stroke="#231f20" stroke-width="0.9"/>
<circle cx="1109.9" cy="779.9" r="3.4" fill="#ffffff" stroke="#231f20" stroke-width="0.9"/>
<circle cx="1121.7" cy="783.7" r="3.4" fill="#d6d6d6" stroke="#231f20" stroke-width="0.9"/>
<circle cx="1129.3" cy="781.6" r="3.4" fill="#a3a3a3" stroke="#231f20" stroke-width="0.9"/>
<circle cx="1139.6" cy="784.4" r="3.4" fill="#ffffff" stroke="#231f20" stroke-width="0.9"/>
<circle cx="1137.9" cy="787.0" r="3.4" fill="#d6d6d6" stroke="#231f20" stroke-width="0.9"/>
<circle cx="1159.4" cy="782.0" r="3.4" fill="#6a6a6a" stroke="#231f20" stroke-width="0.9"/>
<circle cx="1203.6" cy="787.6" r="3.4" fill="#d6d6d6" stroke="#231f20" stroke-width="0.9"/>
<circle cx="1074.3" cy="792.4" r="3.4" fill="#ffffff" stroke="#231f20" stroke-width="0.9"/>
<circle cx="1082.5" cy="789.8" r="3.4" fill="#d6d6d6" stroke="#231f20" stroke-width="0.9"/>
<circle cx="1168.7" cy="798.8" r="3.4" fill="#6a6a6a" stroke="#231f20" stroke-width="0.9"/>
<circle cx="1101.3" cy="804.6" r="3.4" fill="#d6d6d6" stroke="#231f20" stroke-width="0.9"/>
<circle cx="1079.7" cy="811.3" r="3.4" fill="#ffffff" stroke="#231f20" stroke-width="0.9"/>
<circle cx="1080.1" cy="818.2" r="3.4" fill="#ffffff" stroke="#231f20" stroke-width="0.9"/>
<circle cx="1093.7" cy="815.0" r="3.4" fill="#ffffff" stroke="#231f20" stroke-width="0.9"/>
<circle cx="1107.7" cy="813.5" r="3.4" fill="#ffffff" stroke="#231f20" stroke-width="0.9"/>
<circle cx="1114.2" cy="808.1" r="3.4" fill="#ffffff" stroke="#231f20" stroke-width="0.9"/>
<circle cx="1117.4" cy="809.2" r="3.4" fill="#d6d6d6" stroke="#231f20" stroke-width="0.9"/>
<circle cx="1122.4" cy="813.5" r="3.4" fill="#ffffff" stroke="#231f20" stroke-width="0.9"/>
<circle cx="1129.7" cy="809.6" r="3.4" fill="#d6d6d6" stroke="#231f20" stroke-width="0.9"/>
<circle cx="1135.7" cy="816.7" r="3.4" fill="#ffffff" stroke="#231f20" stroke-width="0.9"/>
<circle cx="1152.1" cy="817.1" r="3.4" fill="#6a6a6a" stroke="#231f20" stroke-width="0.9"/>
<circle cx="1243.4" cy="807.0" r="3.4" fill="#a3a3a3" stroke="#231f20" stroke-width="0.9"/>
<circle cx="1313.9" cy="803.6" r="3.4" fill="#ffffff" stroke="#231f20" stroke-width="0.9"/>
<circle cx="1074.3" cy="828.5" r="3.4" fill="#ffffff" stroke="#231f20" stroke-width="0.9"/>
<circle cx="1088.3" cy="824.7" r="3.4" fill="#a3a3a3" stroke="#231f20" stroke-width="0.9"/>
<circle cx="1101.9" cy="826.8" r="3.4" fill="#d6d6d6" stroke="#231f20" stroke-width="0.9"/>
<circle cx="1100.8" cy="835.4" r="3.4" fill="#ffffff" stroke="#231f20" stroke-width="0.9"/>
<circle cx="1112.7" cy="830.7" r="3.4" fill="#a3a3a3" stroke="#231f20" stroke-width="0.9"/>
<circle cx="1122.4" cy="835.0" r="3.4" fill="#d6d6d6" stroke="#231f20" stroke-width="0.9"/>
<circle cx="1124.5" cy="843.0" r="3.4" fill="#ffffff" stroke="#231f20" stroke-width="0.9"/>
<circle cx="1137.9" cy="834.4" r="3.4" fill="#a3a3a3" stroke="#231f20" stroke-width="0.9"/>
<circle cx="1143.9" cy="837.6" r="3.4" fill="#a3a3a3" stroke="#231f20" stroke-width="0.9"/>
<circle cx="1160.1" cy="827.9" r="3.4" fill="#d6d6d6" stroke="#231f20" stroke-width="0.9"/>
<circle cx="1159.9" cy="841.3" r="3.4" fill="#ffffff" stroke="#231f20" stroke-width="0.9"/>
<circle cx="1187.4" cy="840.8" r="3.4" fill="#a3a3a3" stroke="#231f20" stroke-width="0.9"/>
<circle cx="1196.0" cy="833.3" r="3.4" fill="#ffffff" stroke="#231f20" stroke-width="0.9"/>
<circle cx="1209.0" cy="838.7" r="3.4" fill="#6a6a6a" stroke="#231f20" stroke-width="0.9"/>
<circle cx="1197.8" cy="845.1" r="3.4" fill="#ffffff" stroke="#231f20" stroke-width="0.9"/>
<circle cx="1218.2" cy="846.2" r="3.4" fill="#ffffff" stroke="#231f20" stroke-width="0.9"/>
<circle cx="1229.4" cy="825.7" r="3.4" fill="#d6d6d6" stroke="#231f20" stroke-width="0.9"/>
<circle cx="1235.3" cy="827.9" r="3.4" fill="#ffffff" stroke="#231f20" stroke-width="0.9"/>
<circle cx="1245.0" cy="839.7" r="3.4" fill="#a3a3a3" stroke="#231f20" stroke-width="0.9"/>
<circle cx="1253.1" cy="843.4" r="3.4" fill="#a3a3a3" stroke="#231f20" stroke-width="0.9"/>
<circle cx="1256.8" cy="838.7" r="3.4" fill="#ffffff" stroke="#231f20" stroke-width="0.9"/>
<circle cx="1059.7" cy="838.2" r="3.4" fill="#6a6a6a" stroke="#231f20" stroke-width="0.9"/>
<circle cx="1094.1" cy="847.7" r="3.4" fill="#a3a3a3" stroke="#231f20" stroke-width="0.9"/>
<circle cx="1059.7" cy="861.3" r="3.4" fill="#ffffff" stroke="#231f20" stroke-width="0.9"/>
<circle cx="1068.9" cy="860.2" r="3.4" fill="#6a6a6a" stroke="#231f20" stroke-width="0.9"/>
<circle cx="1080.8" cy="859.1" r="3.4" fill="#d6d6d6" stroke="#231f20" stroke-width="0.9"/>
<circle cx="1089.8" cy="858.5" r="3.4" fill="#ffffff" stroke="#231f20" stroke-width="0.9"/>
<circle cx="1092.2" cy="866.7" r="3.4" fill="#a3a3a3" stroke="#231f20" stroke-width="0.9"/>
<circle cx="1076.5" cy="870.3" r="3.4" fill="#6a6a6a" stroke="#231f20" stroke-width="0.9"/>
<circle cx="1115.3" cy="856.3" r="3.4" fill="#6a6a6a" stroke="#231f20" stroke-width="0.9"/>
<circle cx="1125.0" cy="859.6" r="3.4" fill="#ffffff" stroke="#231f20" stroke-width="0.9"/>
<circle cx="1146.5" cy="852.7" r="3.4" fill="#ffffff" stroke="#231f20" stroke-width="0.9"/>
<circle cx="1148.7" cy="864.5" r="3.4" fill="#d6d6d6" stroke="#231f20" stroke-width="0.9"/>
<circle cx="1144.3" cy="869.9" r="3.4" fill="#ffffff" stroke="#231f20" stroke-width="0.9"/>
<circle cx="1176.0" cy="851.6" r="3.4" fill="#ffffff" stroke="#231f20" stroke-width="0.9"/>
<circle cx="1202.9" cy="852.0" r="3.4" fill="#d6d6d6" stroke="#231f20" stroke-width="0.9"/>
<circle cx="1208.5" cy="853.8" r="3.4" fill="#d6d6d6" stroke="#231f20" stroke-width="0.9"/>
<circle cx="1224.1" cy="857.0" r="3.4" fill="#ffffff" stroke="#231f20" stroke-width="0.9"/>
<circle cx="1224.1" cy="860.6" r="3.4" fill="#ffffff" stroke="#231f20" stroke-width="0.9"/>
<circle cx="1228.8" cy="853.1" r="3.4" fill="#ffffff" stroke="#231f20" stroke-width="0.9"/>
<circle cx="1230.5" cy="847.9" r="3.4" fill="#ffffff" stroke="#231f20" stroke-width="0.9"/>
<circle cx="1247.3" cy="853.1" r="3.4" fill="#a3a3a3" stroke="#231f20" stroke-width="0.9"/>
<circle cx="1257.9" cy="853.1" r="3.4" fill="#ffffff" stroke="#231f20" stroke-width="0.9"/>
<circle cx="1271.0" cy="871.0" r="3.4" fill="#d6d6d6" stroke="#231f20" stroke-width="0.9"/>
<circle cx="1248.2" cy="874.2" r="3.4" fill="#ffffff" stroke="#231f20" stroke-width="0.9"/>
<circle cx="1128.8" cy="880.0" r="3.4" fill="#a3a3a3" stroke="#231f20" stroke-width="0.9"/>
<circle cx="1125.0" cy="886.7" r="3.4" fill="#d6d6d6" stroke="#231f20" stroke-width="0.9"/>
<circle cx="1119.1" cy="891.5" r="3.4" fill="#a3a3a3" stroke="#231f20" stroke-width="0.9"/>
<circle cx="1157.3" cy="878.5" r="3.4" fill="#d6d6d6" stroke="#231f20" stroke-width="0.9"/>
<circle cx="1158.3" cy="885.0" r="3.4" fill="#ffffff" stroke="#231f20" stroke-width="0.9"/>
<circle cx="1164.8" cy="875.9" r="3.4" fill="#ffffff" stroke="#231f20" stroke-width="0.9"/>
<circle cx="1181.4" cy="877.9" r="3.4" fill="#a3a3a3" stroke="#231f20" stroke-width="0.9"/>
<circle cx="1194.5" cy="875.9" r="3.4" fill="#6a6a6a" stroke="#231f20" stroke-width="0.9"/>
<circle cx="1173.0" cy="886.5" r="3.4" fill="#d6d6d6" stroke="#231f20" stroke-width="0.9"/>
<circle cx="1159.4" cy="894.0" r="3.4" fill="#ffffff" stroke="#231f20" stroke-width="0.9"/>
<circle cx="1163.3" cy="897.9" r="3.4" fill="#a3a3a3" stroke="#231f20" stroke-width="0.9"/>
<circle cx="1109.4" cy="896.4" r="3.4" fill="#a3a3a3" stroke="#231f20" stroke-width="0.9"/>
<circle cx="1114.2" cy="903.7" r="3.4" fill="#d6d6d6" stroke="#231f20" stroke-width="0.9"/>
<circle cx="1092.6" cy="896.4" r="3.4" fill="#ffffff" stroke="#231f20" stroke-width="0.9"/>
<circle cx="1096.9" cy="895.8" r="3.4" fill="#ffffff" stroke="#231f20" stroke-width="0.9"/>
<circle cx="1090.1" cy="903.3" r="3.4" fill="#a3a3a3" stroke="#231f20" stroke-width="0.9"/>
<circle cx="1084.0" cy="905.5" r="3.4" fill="#ffffff" stroke="#231f20" stroke-width="0.9"/>
<circle cx="1073.9" cy="901.6" r="3.4" fill="#d6d6d6" stroke="#231f20" stroke-width="0.9"/>
<circle cx="1065.7" cy="901.1" r="3.4" fill="#d6d6d6" stroke="#231f20" stroke-width="0.9"/>
<circle cx="1059.7" cy="885.0" r="3.4" fill="#d6d6d6" stroke="#231f20" stroke-width="0.9"/>
<circle cx="1059.7" cy="891.9" r="3.4" fill="#d6d6d6" stroke="#231f20" stroke-width="0.9"/>
<circle cx="1059.7" cy="897.9" r="3.4" fill="#ffffff" stroke="#231f20" stroke-width="0.9"/>
<circle cx="1059.7" cy="901.1" r="3.4" fill="#ffffff" stroke="#231f20" stroke-width="0.9"/>
<circle cx="1059.7" cy="906.5" r="3.4" fill="#ffffff" stroke="#231f20" stroke-width="0.9"/>
<circle cx="1072.2" cy="908.7" r="3.4" fill="#d6d6d6" stroke="#231f20" stroke-width="0.9"/>
<circle cx="1139.0" cy="904.8" r="3.4" fill="#d6d6d6" stroke="#231f20" stroke-width="0.9"/>
<circle cx="1147.8" cy="909.1" r="3.4" fill="#d6d6d6" stroke="#231f20" stroke-width="0.9"/>
<circle cx="1172.4" cy="907.6" r="3.4" fill="#d6d6d6" stroke="#231f20" stroke-width="0.9"/>
<circle cx="1203.2" cy="901.6" r="3.4" fill="#d6d6d6" stroke="#231f20" stroke-width="0.9"/>
<circle cx="1218.0" cy="895.3" r="3.4" fill="#ffffff" stroke="#231f20" stroke-width="0.9"/>
<circle cx="1224.5" cy="905.9" r="3.4" fill="#d6d6d6" stroke="#231f20" stroke-width="0.9"/>
<circle cx="1230.1" cy="905.9" r="3.4" fill="#ffffff" stroke="#231f20" stroke-width="0.9"/>
<circle cx="1243.4" cy="902.7" r="3.4" fill="#a3a3a3" stroke="#231f20" stroke-width="0.9"/>
<circle cx="1252.5" cy="900.1" r="3.4" fill="#ffffff" stroke="#231f20" stroke-width="0.9"/>
<circle cx="1297.3" cy="895.3" r="3.4" fill="#ffffff" stroke="#231f20" stroke-width="0.9"/>
<circle cx="1292.3" cy="908.7" r="3.4" fill="#d6d6d6" stroke="#231f20" stroke-width="0.9"/>
<circle cx="1330.7" cy="902.2" r="3.4" fill="#ffffff" stroke="#231f20" stroke-width="0.9"/>
<circle cx="1198.2" cy="913.0" r="3.4" fill="#ffffff" stroke="#231f20" stroke-width="0.9"/>
<circle cx="1059.7" cy="915.8" r="3.4" fill="#ffffff" stroke="#231f20" stroke-width="0.9"/>
<circle cx="1062.5" cy="915.8" r="3.4" fill="#ffffff" stroke="#231f20" stroke-width="0.9"/>
<circle cx="1064.6" cy="915.8" r="3.4" fill="#ffffff" stroke="#231f20" stroke-width="0.9"/>
<circle cx="1068.9" cy="915.8" r="3.4" fill="#d6d6d6" stroke="#231f20" stroke-width="0.9"/>
<circle cx="1072.2" cy="915.8" r="3.4" fill="#ffffff" stroke="#231f20" stroke-width="0.9"/>
<circle cx="1077.6" cy="915.8" r="3.4" fill="#ffffff" stroke="#231f20" stroke-width="0.9"/>
<circle cx="1085.1" cy="915.8" r="3.4" fill="#d6d6d6" stroke="#231f20" stroke-width="0.9"/>
<circle cx="1088.3" cy="915.8" r="3.4" fill="#ffffff" stroke="#231f20" stroke-width="0.9"/>
<circle cx="1094.8" cy="915.8" r="3.4" fill="#ffffff" stroke="#231f20" stroke-width="0.9"/>
<circle cx="1103.4" cy="915.8" r="3.4" fill="#ffffff" stroke="#231f20" stroke-width="0.9"/>
<circle cx="1104.5" cy="915.8" r="3.4" fill="#ffffff" stroke="#231f20" stroke-width="0.9"/>
<circle cx="1113.1" cy="915.8" r="3.4" fill="#ffffff" stroke="#231f20" stroke-width="0.9"/>
<circle cx="1120.6" cy="915.8" r="3.4" fill="#d6d6d6" stroke="#231f20" stroke-width="0.9"/>
<circle cx="1127.1" cy="915.8" r="3.4" fill="#ffffff" stroke="#231f20" stroke-width="0.9"/>
<circle cx="1135.7" cy="915.8" r="3.4" fill="#d6d6d6" stroke="#231f20" stroke-width="0.9"/>
<circle cx="1142.2" cy="915.8" r="3.4" fill="#d6d6d6" stroke="#231f20" stroke-width="0.9"/>
<circle cx="1156.2" cy="915.8" r="3.4" fill="#ffffff" stroke="#231f20" stroke-width="0.9"/>
<circle cx="1161.6" cy="915.8" r="3.4" fill="#d6d6d6" stroke="#231f20" stroke-width="0.9"/>
<circle cx="1164.8" cy="915.8" r="3.4" fill="#d6d6d6" stroke="#231f20" stroke-width="0.9"/>
<circle cx="1171.7" cy="915.8" r="3.4" fill="#ffffff" stroke="#231f20" stroke-width="0.9"/>
<circle cx="1177.3" cy="915.8" r="3.4" fill="#d6d6d6" stroke="#231f20" stroke-width="0.9"/>
<circle cx="1185.3" cy="915.8" r="3.4" fill="#ffffff" stroke="#231f20" stroke-width="0.9"/>
<circle cx="1189.2" cy="915.8" r="3.4" fill="#ffffff" stroke="#231f20" stroke-width="0.9"/>
<circle cx="1203.6" cy="915.8" r="3.4" fill="#d6d6d6" stroke="#231f20" stroke-width="0.9"/>
<circle cx="1206.4" cy="915.8" r="3.4" fill="#ffffff" stroke="#231f20" stroke-width="0.9"/>
<circle cx="1210.1" cy="915.8" r="3.4" fill="#ffffff" stroke="#231f20" stroke-width="0.9"/>
<circle cx="1219.1" cy="915.8" r="3.4" fill="#d6d6d6" stroke="#231f20" stroke-width="0.9"/>
<circle cx="1227.3" cy="915.8" r="3.4" fill="#d6d6d6" stroke="#231f20" stroke-width="0.9"/>
<circle cx="1265.4" cy="915.8" r="3.4" fill="#ffffff" stroke="#231f20" stroke-width="0.9"/>
<circle cx="1268.2" cy="915.8" r="3.4" fill="#d6d6d6" stroke="#231f20" stroke-width="0.9"/>
<circle cx="1292.6" cy="915.8" r="3.4" fill="#d6d6d6" stroke="#231f20" stroke-width="0.9"/>
<circle cx="1295.2" cy="915.8" r="3.4" fill="#d6d6d6" stroke="#231f20" stroke-width="0.9"/>
<circle cx="1313.5" cy="915.8" r="3.4" fill="#ffffff" stroke="#231f20" stroke-width="0.9"/>
<circle cx="1150.2" cy="915.8" r="3.4" fill="#a3a3a3" stroke="#231f20" stroke-width="0.9"/>
<circle cx="1244.5" cy="915.8" r="3.4" fill="#a3a3a3" stroke="#231f20" stroke-width="0.9"/>
<circle cx="1246.2" cy="915.8" r="3.4" fill="#a3a3a3" stroke="#231f20" stroke-width="0.9"/>
<circle cx="1276.2" cy="915.8" r="3.4" fill="#a3a3a3" stroke="#231f20" stroke-width="0.9"/>
<circle cx="1277.9" cy="915.8" r="3.4" fill="#a3a3a3" stroke="#231f20" stroke-width="0.9"/>
<circle cx="1301.6" cy="915.8" r="3.4" fill="#a3a3a3" stroke="#231f20" stroke-width="0.9"/>
<line x1="1401.2" y1="25.3" x2="1401.2" y2="438.4" stroke="#111111" stroke-width="2"/>
<line x1="1391.0" y1="25.3" x2="1401.2" y2="25.3" stroke="#111111" stroke-width="2"/>
<line x1="1391.0" y1="128.6" x2="1401.2" y2="128.6" stroke="#111111" stroke-width="2"/>
<line x1="1391.0" y1="231.8" x2="1401.2" y2="231.8" stroke="#111111" stroke-width="2"/>
<line x1="1391.0" y1="335.1" x2="1401.2" y2="335.1" stroke="#111111" stroke-width="2"/>
<line x1="1391.0" y1="438.4" x2="1401.2" y2="438.4" stroke="#111111" stroke-width="2"/>
<text x="1384.0" y="36.2" font-size="35" fill="#111111" text-anchor="end">1</text>
<text x="1384.0" y="447.7" font-size="35" fill="#111111" text-anchor="end">0</text>
<line x1="1401.2" y1="498.5" x2="1401.2" y2="910.6" stroke="#111111" stroke-width="2"/>
<line x1="1391.0" y1="498.5" x2="1401.2" y2="498.5" stroke="#111111" stroke-width="2"/>
<line x1="1391.0" y1="601.5" x2="1401.2" y2="601.5" stroke="#111111" stroke-width="2"/>
<line x1="1391.0" y1="704.5" x2="1401.2" y2="704.5" stroke="#111111" stroke-width="2"/>
<line x1="1391.0" y1="807.6" x2="1401.2" y2="807.6" stroke="#111111" stroke-width="2"/>
<line x1="1391.0" y1="910.6" x2="1401.2" y2="910.6" stroke="#111111" stroke-width="2"/>
<text x="1384.0" y="509.4" font-size="35" fill="#111111" text-anchor="end">1</text>
<text x="1384.0" y="920.9" font-size="35" fill="#111111" text-anchor="end">0</text>
<line x1="1421.1" y1="931.5" x2="1833.3" y2="931.5" stroke="#111111" stroke-width="2"/>
<line x1="1421.1" y1="931.5" x2="1421.1" y2="940.5" stroke="#111111" stroke-width="2"/>
<line x1="1524.1" y1="931.5" x2="1524.1" y2="940.5" stroke="#111111" stroke-width="2"/>
<line x1="1627.2" y1="931.5" x2="1627.2" y2="940.5" stroke="#111111" stroke-width="2"/>
<line x1="1730.2" y1="931.5" x2="1730.2" y2="940.5" stroke="#111111" stroke-width="2"/>
<line x1="1833.3" y1="931.5" x2="1833.3" y2="940.5" stroke="#111111" stroke-width="2"/>
<text x="1421.0" y="970.0" font-size="35" fill="#111111" text-anchor="middle">0</text>
<text x="1832.0" y="970.0" font-size="35" fill="#111111" text-anchor="middle">1</text>
<text x="1622.7" y="981.8" font-size="34" fill="#111111" font-weight="bold" text-anchor="middle" textLength="56.3" lengthAdjust="spacingAndGlyphs">P23</text>
<text x="1425.8" y="56.3" font-size="33" fill="#c4b79c" text-anchor="start" textLength="122.4" lengthAdjust="spacingAndGlyphs">survived</text>
<line x1="1561.2" y1="47.0" x2="1575.0" y2="47.0" stroke="#c4b79c" stroke-width="2.6"/>
<polygon points="1571,37.6 1590.8,47 1571,56.4" fill="#c4b79c" stroke="#c4b79c" stroke-width="1.5" stroke-linejoin="round"/>
<text x="1425.8" y="528.6" font-size="33" fill="#ec1f26" text-anchor="start">died</text>
<line x1="1494.5" y1="520.0" x2="1508.0" y2="520.0" stroke="#ec1f26" stroke-width="2.6"/>
<polygon points="1505,510.6 1524.6,520 1505,529.4" fill="#ec1f26" stroke="#ec1f26" stroke-width="1.5" stroke-linejoin="round"/>
<polyline points="1617.4,340.3 1754.7,353.9 1757.3,344.4" fill="none" stroke="#c4b79c" stroke-width="1.9" stroke-linejoin="round"/>
<circle cx="1617.4" cy="340.3" r="2.9" fill="#c4b79c"/>
<circle cx="1754.7" cy="353.9" r="2.9" fill="#c4b79c"/>
<polygon points="1757.3,344.4 1760.0,357.6 1748.4,354.5" fill="#c4b79c"/>
<polyline points="1614.8,384.6 1702.8,394.1 1740.5,386.8 1718.3,381.4" fill="none" stroke="#c4b79c" stroke-width="1.9" stroke-linejoin="round"/>
<circle cx="1614.8" cy="384.6" r="2.9" fill="#c4b79c"/>
<circle cx="1702.8" cy="394.1" r="2.9" fill="#c4b79c"/>
<circle cx="1740.5" cy="386.8" r="2.9" fill="#c4b79c"/>
<circle cx="1718.3" cy="381.4" r="2.9" fill="#c4b79c"/>
<polyline points="1564.2,305.5 1576.8,360.9" fill="none" stroke="#c4b79c" stroke-width="1.9" stroke-linejoin="round"/>
<circle cx="1564.2" cy="305.5" r="2.9" fill="#c4b79c"/>
<circle cx="1576.8" cy="360.9" r="2.9" fill="#c4b79c"/>
<polyline points="1615.8,288.1 1493.0,438.4 1581.0,438.4 1581.0,433.0 1597.4,403.6" fill="none" stroke="#c4b79c" stroke-width="1.9" stroke-linejoin="round"/>
<circle cx="1615.8" cy="288.1" r="2.9" fill="#c4b79c"/>
<circle cx="1493.0" cy="438.4" r="2.9" fill="#c4b79c"/>
<circle cx="1581.0" cy="438.4" r="2.9" fill="#c4b79c"/>
<circle cx="1581.0" cy="433.0" r="2.9" fill="#c4b79c"/>
<circle cx="1597.4" cy="403.6" r="2.9" fill="#c4b79c"/>
<polyline points="1464.5,101.3 1514.2,87.1" fill="none" stroke="#c4b79c" stroke-width="1.9" stroke-linejoin="round"/>
<circle cx="1464.5" cy="101.3" r="2.9" fill="#c4b79c"/>
<circle cx="1514.2" cy="87.1" r="2.9" fill="#c4b79c"/>
<polyline points="1474.0,145.6 1523.7,133.0" fill="none" stroke="#c4b79c" stroke-width="1.9" stroke-linejoin="round"/>
<circle cx="1474.0" cy="145.6" r="2.9" fill="#c4b79c"/>
<circle cx="1523.7" cy="133.0" r="2.9" fill="#c4b79c"/>
<polyline points="1489.8,151.3 1526.2,170.3 1605.3,211.5" fill="none" stroke="#c4b79c" stroke-width="1.9" stroke-linejoin="round"/>
<circle cx="1489.8" cy="151.3" r="2.9" fill="#c4b79c"/>
<circle cx="1526.2" cy="170.3" r="2.9" fill="#c4b79c"/>
<circle cx="1605.3" cy="211.5" r="2.9" fill="#c4b79c"/>
<polyline points="1545.2,195.6 1455.0,193.1" fill="none" stroke="#c4b79c" stroke-width="1.9" stroke-linejoin="round"/>
<circle cx="1545.2" cy="195.6" r="2.9" fill="#c4b79c"/>
<circle cx="1455.0" cy="193.1" r="2.9" fill="#c4b79c"/>
<polyline points="1553.1,208.0 1619.6,202.6" fill="none" stroke="#c4b79c" stroke-width="1.9" stroke-linejoin="round"/>
<circle cx="1553.1" cy="208.0" r="2.9" fill="#c4b79c"/>
<circle cx="1619.6" cy="202.6" r="2.9" fill="#c4b79c"/>
<polyline points="1526.2,201.0 1445.5,237.4" fill="none" stroke="#c4b79c" stroke-width="1.9" stroke-linejoin="round"/>
<circle cx="1526.2" cy="201.0" r="2.9" fill="#c4b79c"/>
<circle cx="1445.5" cy="237.4" r="2.9" fill="#c4b79c"/>
<polyline points="1539.5,224.8 1546.8,242.2 1561.0,219.1" fill="none" stroke="#c4b79c" stroke-width="1.9" stroke-linejoin="round"/>
<circle cx="1539.5" cy="224.8" r="2.9" fill="#c4b79c"/>
<circle cx="1546.8" cy="242.2" r="2.9" fill="#c4b79c"/>
<circle cx="1561.0" cy="219.1" r="2.9" fill="#c4b79c"/>
<polyline points="1544.6,269.1 1483.5,164.6" fill="none" stroke="#c4b79c" stroke-width="1.9" stroke-linejoin="round"/>
<circle cx="1544.6" cy="269.1" r="2.9" fill="#c4b79c"/>
<circle cx="1483.5" cy="164.6" r="2.9" fill="#c4b79c"/>
<polyline points="1436.0,246.9 1615.8,288.1" fill="none" stroke="#c4b79c" stroke-width="1.9" stroke-linejoin="round"/>
<circle cx="1436.0" cy="246.9" r="2.9" fill="#c4b79c"/>
<polygon points="1615.8,288.1 1602.7,291.2 1605.4,279.5" fill="#c4b79c"/>
<polyline points="1436.0,227.9 1617.4,340.3" fill="none" stroke="#c4b79c" stroke-width="1.9" stroke-linejoin="round"/>
<circle cx="1436.0" cy="227.9" r="2.9" fill="#c4b79c"/>
<polygon points="1617.4,340.3 1604.0,339.1 1610.3,328.9" fill="#c4b79c"/>
<polyline points="1432.8,269.1 1614.8,384.6" fill="none" stroke="#c4b79c" stroke-width="1.9" stroke-linejoin="round"/>
<circle cx="1432.8" cy="269.1" r="2.9" fill="#c4b79c"/>
<polygon points="1614.8,384.6 1601.5,383.2 1607.9,373.1" fill="#c4b79c"/>
<polyline points="1439.1,269.1 1597.4,403.6" fill="none" stroke="#c4b79c" stroke-width="1.9" stroke-linejoin="round"/>
<circle cx="1439.1" cy="269.1" r="2.9" fill="#c4b79c"/>
<circle cx="1597.4" cy="403.6" r="2.9" fill="#c4b79c"/>
<polyline points="1436.0,221.6 1526.2,170.3" fill="none" stroke="#c4b79c" stroke-width="1.9" stroke-linejoin="round"/>
<circle cx="1436.0" cy="221.6" r="2.9" fill="#c4b79c"/>
<circle cx="1526.2" cy="170.3" r="2.9" fill="#c4b79c"/>
<polyline points="1455.0,253.2 1564.2,305.5" fill="none" stroke="#c4b79c" stroke-width="1.9" stroke-linejoin="round"/>
<circle cx="1455.0" cy="253.2" r="2.9" fill="#c4b79c"/>
<polygon points="1564.2,305.5 1550.8,305.7 1555.9,294.9" fill="#c4b79c"/>
<polyline points="1455.0,284.9 1576.8,360.9" fill="none" stroke="#c4b79c" stroke-width="1.9" stroke-linejoin="round"/>
<circle cx="1455.0" cy="284.9" r="2.9" fill="#c4b79c"/>
<circle cx="1576.8" cy="360.9" r="2.9" fill="#c4b79c"/>
<polyline points="1515.1,288.1 1423.3,411.5" fill="none" stroke="#c4b79c" stroke-width="1.9" stroke-linejoin="round"/>
<circle cx="1515.1" cy="288.1" r="2.9" fill="#c4b79c"/>
<circle cx="1423.3" cy="411.5" r="2.9" fill="#c4b79c"/>
<polyline points="1496.1,316.6 1421.7,189.9" fill="none" stroke="#c4b79c" stroke-width="1.9" stroke-linejoin="round"/>
<circle cx="1496.1" cy="316.6" r="2.9" fill="#c4b79c"/>
<polygon points="1421.7,189.9 1433.0,197.2 1422.6,203.3" fill="#c4b79c"/>
<polyline points="1542.0,400.4 1442.3,348.2" fill="none" stroke="#c4b79c" stroke-width="1.9" stroke-linejoin="round"/>
<circle cx="1542.0" cy="400.4" r="2.9" fill="#c4b79c"/>
<circle cx="1442.3" cy="348.2" r="2.9" fill="#c4b79c"/>
<polyline points="1527.8,338.7 1527.8,368.8 1549.9,348.2" fill="none" stroke="#c4b79c" stroke-width="1.9" stroke-linejoin="round"/>
<circle cx="1527.8" cy="338.7" r="2.9" fill="#c4b79c"/>
<circle cx="1527.8" cy="368.8" r="2.9" fill="#c4b79c"/>
<polygon points="1549.9,348.2 1545.2,360.8 1537.1,352.0" fill="#c4b79c"/>
<polyline points="1510.4,349.8 1439.1,351.4" fill="none" stroke="#c4b79c" stroke-width="1.9" stroke-linejoin="round"/>
<circle cx="1510.4" cy="349.8" r="2.9" fill="#c4b79c"/>
<circle cx="1439.1" cy="351.4" r="2.9" fill="#c4b79c"/>
<polyline points="1554.7,341.2 1486.6,436.8" fill="none" stroke="#c4b79c" stroke-width="1.9" stroke-linejoin="round"/>
<circle cx="1554.7" cy="341.2" r="2.9" fill="#c4b79c"/>
<polygon points="1486.6,436.8 1488.7,423.6 1498.5,430.6" fill="#c4b79c"/>
<polyline points="1421.7,104.5 1423.3,133.0" fill="none" stroke="#c4b79c" stroke-width="1.9" stroke-linejoin="round"/>
<circle cx="1421.7" cy="104.5" r="2.9" fill="#c4b79c"/>
<circle cx="1423.3" cy="133.0" r="2.9" fill="#c4b79c"/>
<polyline points="1474.0,104.5 1455.0,126.6 1493.0,151.9" fill="none" stroke="#c4b79c" stroke-width="1.9" stroke-linejoin="round"/>
<circle cx="1474.0" cy="104.5" r="2.9" fill="#c4b79c"/>
<circle cx="1455.0" cy="126.6" r="2.9" fill="#c4b79c"/>
<polygon points="1493.0,151.9 1479.6,150.3 1486.3,140.3" fill="#c4b79c"/>
<polyline points="1445.5,104.5 1464.5,102.9 1439.1,142.5" fill="none" stroke="#c4b79c" stroke-width="1.9" stroke-linejoin="round"/>
<circle cx="1445.5" cy="104.5" r="2.9" fill="#c4b79c"/>
<circle cx="1464.5" cy="102.9" r="2.9" fill="#c4b79c"/>
<polygon points="1439.1,142.5 1440.6,129.1 1450.7,135.6" fill="#c4b79c"/>
<polyline points="1455.0,189.9 1428.1,196.3 1432.8,438.4 1423.3,438.4" fill="none" stroke="#c4b79c" stroke-width="1.9" stroke-linejoin="round"/>
<circle cx="1455.0" cy="189.9" r="2.9" fill="#c4b79c"/>
<circle cx="1428.1" cy="196.3" r="2.9" fill="#c4b79c"/>
<circle cx="1432.8" cy="438.4" r="2.9" fill="#c4b79c"/>
<polygon points="1423.3,438.4 1435.3,432.4 1435.3,444.4" fill="#c4b79c"/>
<polyline points="1421.7,438.4 1493.0,438.4" fill="none" stroke="#c4b79c" stroke-width="1.9" stroke-linejoin="round"/>
<circle cx="1421.7" cy="438.4" r="2.9" fill="#c4b79c"/>
<polygon points="1493.0,438.4 1481.0,444.4 1481.0,432.4" fill="#c4b79c"/>
<polyline points="1424.5,234.7 1425.1,167.7 1444.3,184.2 1425.0,160.3 1421.8,160.6" fill="none" stroke="#c4b79c" stroke-width="1.9" stroke-linejoin="round"/>
<circle cx="1424.5" cy="234.7" r="2.9" fill="#c4b79c"/>
<circle cx="1425.1" cy="167.7" r="2.9" fill="#c4b79c"/>
<circle cx="1444.3" cy="184.2" r="2.9" fill="#c4b79c"/>
<circle cx="1425.0" cy="160.3" r="2.9" fill="#c4b79c"/>
<circle cx="1421.8" cy="160.6" r="2.9" fill="#c4b79c"/>
<polyline points="1422.1,220.6 1421.3,155.4 1445.2,258.5 1421.4,438.4" fill="none" stroke="#c4b79c" stroke-width="1.9" stroke-linejoin="round"/>
<circle cx="1422.1" cy="220.6" r="2.9" fill="#c4b79c"/>
<circle cx="1421.3" cy="155.4" r="2.9" fill="#c4b79c"/>
<circle cx="1445.2" cy="258.5" r="2.9" fill="#c4b79c"/>
<polygon points="1421.4,438.4 1417.0,425.7 1428.9,427.3" fill="#c4b79c"/>
<polyline points="1421.0,357.6 1443.8,279.2 1422.4,361.0" fill="none" stroke="#c4b79c" stroke-width="1.9" stroke-linejoin="round"/>
<circle cx="1421.0" cy="357.6" r="2.9" fill="#c4b79c"/>
<circle cx="1443.8" cy="279.2" r="2.9" fill="#c4b79c"/>
<circle cx="1422.4" cy="361.0" r="2.9" fill="#c4b79c"/>
<polyline points="1462.1,212.1 1452.2,241.9 1441.8,282.7" fill="none" stroke="#c4b79c" stroke-width="1.9" stroke-linejoin="round"/>
<circle cx="1462.1" cy="212.1" r="2.9" fill="#c4b79c"/>
<circle cx="1452.2" cy="241.9" r="2.9" fill="#c4b79c"/>
<circle cx="1441.8" cy="282.7" r="2.9" fill="#c4b79c"/>
<polyline points="1441.0,230.7 1422.0,199.6 1460.2,438.4 1422.8,197.3 1430.5,212.0" fill="none" stroke="#c4b79c" stroke-width="1.9" stroke-linejoin="round"/>
<circle cx="1441.0" cy="230.7" r="2.9" fill="#c4b79c"/>
<circle cx="1422.0" cy="199.6" r="2.9" fill="#c4b79c"/>
<circle cx="1460.2" cy="438.4" r="2.9" fill="#c4b79c"/>
<circle cx="1422.8" cy="197.3" r="2.9" fill="#c4b79c"/>
<polygon points="1430.5,212.0 1419.6,204.2 1430.3,198.6" fill="#c4b79c"/>
<polyline points="1424.5,211.6 1477.3,252.2 1429.8,106.8" fill="none" stroke="#c4b79c" stroke-width="1.9" stroke-linejoin="round"/>
<circle cx="1424.5" cy="211.6" r="2.9" fill="#c4b79c"/>
<circle cx="1477.3" cy="252.2" r="2.9" fill="#c4b79c"/>
<circle cx="1429.8" cy="106.8" r="2.9" fill="#c4b79c"/>
<polyline points="1423.7,353.2 1422.3,291.9 1432.7,323.8 1426.1,416.8" fill="none" stroke="#c4b79c" stroke-width="1.9" stroke-linejoin="round"/>
<circle cx="1423.7" cy="353.2" r="2.9" fill="#c4b79c"/>
<circle cx="1422.3" cy="291.9" r="2.9" fill="#c4b79c"/>
<circle cx="1432.7" cy="323.8" r="2.9" fill="#c4b79c"/>
<circle cx="1426.1" cy="416.8" r="2.9" fill="#c4b79c"/>
<polyline points="1420.9,438.4 1433.9,320.2 1422.0,264.0" fill="none" stroke="#c4b79c" stroke-width="1.9" stroke-linejoin="round"/>
<circle cx="1420.9" cy="438.4" r="2.9" fill="#c4b79c"/>
<circle cx="1433.9" cy="320.2" r="2.9" fill="#c4b79c"/>
<circle cx="1422.0" cy="264.0" r="2.9" fill="#c4b79c"/>
<polyline points="1422.2,345.0 1421.3,359.1 1453.8,257.0 1436.8,321.5" fill="none" stroke="#c4b79c" stroke-width="1.9" stroke-linejoin="round"/>
<circle cx="1422.2" cy="345.0" r="2.9" fill="#c4b79c"/>
<circle cx="1421.3" cy="359.1" r="2.9" fill="#c4b79c"/>
<circle cx="1453.8" cy="257.0" r="2.9" fill="#c4b79c"/>
<circle cx="1436.8" cy="321.5" r="2.9" fill="#c4b79c"/>
<polyline points="1422.5,371.7 1420.8,325.0 1422.3,356.0 1421.0,440.6 1422.2,288.7" fill="none" stroke="#c4b79c" stroke-width="1.9" stroke-linejoin="round"/>
<circle cx="1422.5" cy="371.7" r="2.9" fill="#c4b79c"/>
<circle cx="1420.8" cy="325.0" r="2.9" fill="#c4b79c"/>
<circle cx="1422.3" cy="356.0" r="2.9" fill="#c4b79c"/>
<circle cx="1421.0" cy="440.6" r="2.9" fill="#c4b79c"/>
<polygon points="1422.2,288.7 1428.1,300.8 1416.1,300.7" fill="#c4b79c"/>
<polyline points="1422.9,438.4 1421.0,207.3 1421.8,189.5 1422.5,284.8" fill="none" stroke="#c4b79c" stroke-width="1.9" stroke-linejoin="round"/>
<circle cx="1422.9" cy="438.4" r="2.9" fill="#c4b79c"/>
<circle cx="1421.0" cy="207.3" r="2.9" fill="#c4b79c"/>
<circle cx="1421.8" cy="189.5" r="2.9" fill="#c4b79c"/>
<polygon points="1422.5,284.8 1416.5,272.8 1428.5,272.7" fill="#c4b79c"/>
<polyline points="1435.9,214.1 1475.3,265.7 1484.8,174.4" fill="none" stroke="#c4b79c" stroke-width="1.9" stroke-linejoin="round"/>
<circle cx="1435.9" cy="214.1" r="2.9" fill="#c4b79c"/>
<circle cx="1475.3" cy="265.7" r="2.9" fill="#c4b79c"/>
<polygon points="1484.8,174.4 1489.5,186.9 1477.6,185.7" fill="#c4b79c"/>
<polyline points="1431.0,171.4 1420.9,268.2 1437.8,152.6 1445.5,182.7" fill="none" stroke="#c4b79c" stroke-width="1.9" stroke-linejoin="round"/>
<circle cx="1431.0" cy="171.4" r="2.9" fill="#c4b79c"/>
<circle cx="1420.9" cy="268.2" r="2.9" fill="#c4b79c"/>
<circle cx="1437.8" cy="152.6" r="2.9" fill="#c4b79c"/>
<circle cx="1445.5" cy="182.7" r="2.9" fill="#c4b79c"/>
<polyline points="1428.0,155.9 1425.2,295.8 1424.8,243.2 1422.0,176.5" fill="none" stroke="#c4b79c" stroke-width="1.9" stroke-linejoin="round"/>
<circle cx="1428.0" cy="155.9" r="2.9" fill="#c4b79c"/>
<circle cx="1425.2" cy="295.8" r="2.9" fill="#c4b79c"/>
<circle cx="1424.8" cy="243.2" r="2.9" fill="#c4b79c"/>
<polygon points="1422.0,176.5 1428.5,188.3 1416.6,188.8" fill="#c4b79c"/>
<polyline points="1423.6,217.7 1424.0,249.5 1464.9,313.1" fill="none" stroke="#c4b79c" stroke-width="1.9" stroke-linejoin="round"/>
<circle cx="1423.6" cy="217.7" r="2.9" fill="#c4b79c"/>
<circle cx="1424.0" cy="249.5" r="2.9" fill="#c4b79c"/>
<polygon points="1464.9,313.1 1453.3,306.2 1463.4,299.8" fill="#c4b79c"/>
<polyline points="1422.6,125.3 1438.3,121.5 1420.9,149.0" fill="none" stroke="#c4b79c" stroke-width="1.9" stroke-linejoin="round"/>
<circle cx="1422.6" cy="125.3" r="2.9" fill="#c4b79c"/>
<circle cx="1438.3" cy="121.5" r="2.9" fill="#c4b79c"/>
<polygon points="1420.9,149.0 1422.3,135.6 1432.4,142.0" fill="#c4b79c"/>
<polyline points="1421.1,202.0 1452.2,224.0 1449.3,193.2 1421.0,232.0" fill="none" stroke="#c4b79c" stroke-width="1.9" stroke-linejoin="round"/>
<circle cx="1421.1" cy="202.0" r="2.9" fill="#c4b79c"/>
<circle cx="1452.2" cy="224.0" r="2.9" fill="#c4b79c"/>
<circle cx="1449.3" cy="193.2" r="2.9" fill="#c4b79c"/>
<polygon points="1421.0,232.0 1423.2,218.8 1432.9,225.9" fill="#c4b79c"/>
<polyline points="1422.1,314.6 1421.5,313.7 1422.4,415.0 1430.7,200.9 1422.3,182.3" fill="none" stroke="#c4b79c" stroke-width="1.9" stroke-linejoin="round"/>
<circle cx="1422.1" cy="314.6" r="2.9" fill="#c4b79c"/>
<circle cx="1421.5" cy="313.7" r="2.9" fill="#c4b79c"/>
<circle cx="1422.4" cy="415.0" r="2.9" fill="#c4b79c"/>
<circle cx="1430.7" cy="200.9" r="2.9" fill="#c4b79c"/>
<circle cx="1422.3" cy="182.3" r="2.9" fill="#c4b79c"/>
<polyline points="1421.1,191.1 1423.4,250.2 1454.0,177.7 1430.6,195.6" fill="none" stroke="#c4b79c" stroke-width="1.9" stroke-linejoin="round"/>
<circle cx="1421.1" cy="191.1" r="2.9" fill="#c4b79c"/>
<circle cx="1423.4" cy="250.2" r="2.9" fill="#c4b79c"/>
<circle cx="1454.0" cy="177.7" r="2.9" fill="#c4b79c"/>
<circle cx="1430.6" cy="195.6" r="2.9" fill="#c4b79c"/>
<polyline points="1422.5,246.7 1421.2,389.5 1439.8,254.9 1422.4,285.9 1429.6,249.2" fill="none" stroke="#c4b79c" stroke-width="1.9" stroke-linejoin="round"/>
<circle cx="1422.5" cy="246.7" r="2.9" fill="#c4b79c"/>
<circle cx="1421.2" cy="389.5" r="2.9" fill="#c4b79c"/>
<circle cx="1439.8" cy="254.9" r="2.9" fill="#c4b79c"/>
<circle cx="1422.4" cy="285.9" r="2.9" fill="#c4b79c"/>
<polygon points="1429.6,249.2 1433.2,262.1 1421.4,259.8" fill="#c4b79c"/>
<polyline points="1517.6,271.4 1422.9,343.2 1421.0,353.5 1422.8,417.6 1424.7,378.2" fill="none" stroke="#c4b79c" stroke-width="1.9" stroke-linejoin="round"/>
<circle cx="1517.6" cy="271.4" r="2.9" fill="#c4b79c"/>
<circle cx="1422.9" cy="343.2" r="2.9" fill="#c4b79c"/>
<circle cx="1421.0" cy="353.5" r="2.9" fill="#c4b79c"/>
<circle cx="1422.8" cy="417.6" r="2.9" fill="#c4b79c"/>
<circle cx="1424.7" cy="378.2" r="2.9" fill="#c4b79c"/>
<polyline points="1423.2,253.1 1430.8,211.0 1421.8,207.5 1425.7,182.4 1435.2,153.9" fill="none" stroke="#c4b79c" stroke-width="1.9" stroke-linejoin="round"/>
<circle cx="1423.2" cy="253.1" r="2.9" fill="#c4b79c"/>
<circle cx="1430.8" cy="211.0" r="2.9" fill="#c4b79c"/>
<circle cx="1421.8" cy="207.5" r="2.9" fill="#c4b79c"/>
<circle cx="1425.7" cy="182.4" r="2.9" fill="#c4b79c"/>
<circle cx="1435.2" cy="153.9" r="2.9" fill="#c4b79c"/>
<polyline points="1422.5,382.8 1453.7,229.2 1422.5,294.4 1421.1,315.0 1422.9,336.6" fill="none" stroke="#c4b79c" stroke-width="1.9" stroke-linejoin="round"/>
<circle cx="1422.5" cy="382.8" r="2.9" fill="#c4b79c"/>
<circle cx="1453.7" cy="229.2" r="2.9" fill="#c4b79c"/>
<circle cx="1422.5" cy="294.4" r="2.9" fill="#c4b79c"/>
<circle cx="1421.1" cy="315.0" r="2.9" fill="#c4b79c"/>
<circle cx="1422.9" cy="336.6" r="2.9" fill="#c4b79c"/>
<polyline points="1442.0,250.8 1453.2,135.7 1464.5,283.6 1438.3,220.0" fill="none" stroke="#c4b79c" stroke-width="1.9" stroke-linejoin="round"/>
<circle cx="1442.0" cy="250.8" r="2.9" fill="#c4b79c"/>
<circle cx="1453.2" cy="135.7" r="2.9" fill="#c4b79c"/>
<circle cx="1464.5" cy="283.6" r="2.9" fill="#c4b79c"/>
<polygon points="1438.3,220.0 1448.4,228.8 1437.3,233.4" fill="#c4b79c"/>
<polyline points="1434.3,270.7 1422.5,370.8 1427.9,224.3 1436.0,381.7" fill="none" stroke="#c4b79c" stroke-width="1.9" stroke-linejoin="round"/>
<circle cx="1434.3" cy="270.7" r="2.9" fill="#c4b79c"/>
<circle cx="1422.5" cy="370.8" r="2.9" fill="#c4b79c"/>
<circle cx="1427.9" cy="224.3" r="2.9" fill="#c4b79c"/>
<polygon points="1436.0,381.7 1429.4,370.0 1441.4,369.4" fill="#c4b79c"/>
<polyline points="1427.7,312.7 1466.3,268.9 1440.3,393.0 1422.5,394.4 1421.3,393.7" fill="none" stroke="#c4b79c" stroke-width="1.9" stroke-linejoin="round"/>
<circle cx="1427.7" cy="312.7" r="2.9" fill="#c4b79c"/>
<circle cx="1466.3" cy="268.9" r="2.9" fill="#c4b79c"/>
<circle cx="1440.3" cy="393.0" r="2.9" fill="#c4b79c"/>
<circle cx="1422.5" cy="394.4" r="2.9" fill="#c4b79c"/>
<circle cx="1421.3" cy="393.7" r="2.9" fill="#c4b79c"/>
<polyline points="1438.5,325.8 1427.5,258.3 1421.1,330.0 1468.5,307.0" fill="none" stroke="#c4b79c" stroke-width="1.9" stroke-linejoin="round"/>
<circle cx="1438.5" cy="325.8" r="2.9" fill="#c4b79c"/>
<circle cx="1427.5" cy="258.3" r="2.9" fill="#c4b79c"/>
<circle cx="1421.1" cy="330.0" r="2.9" fill="#c4b79c"/>
<circle cx="1468.5" cy="307.0" r="2.9" fill="#c4b79c"/>
<polyline points="1422.6,361.1 1541.0,441.5 1426.4,407.9" fill="none" stroke="#c4b79c" stroke-width="1.9" stroke-linejoin="round"/>
<circle cx="1422.6" cy="361.1" r="2.9" fill="#c4b79c"/>
<circle cx="1541.0" cy="441.5" r="2.9" fill="#c4b79c"/>
<circle cx="1426.4" cy="407.9" r="2.9" fill="#c4b79c"/>
<polyline points="1493.8,207.6 1422.9,267.8 1425.8,232.1 1422.4,195.9 1421.4,236.0" fill="none" stroke="#c4b79c" stroke-width="1.9" stroke-linejoin="round"/>
<circle cx="1493.8" cy="207.6" r="2.9" fill="#c4b79c"/>
<circle cx="1422.9" cy="267.8" r="2.9" fill="#c4b79c"/>
<circle cx="1425.8" cy="232.1" r="2.9" fill="#c4b79c"/>
<circle cx="1422.4" cy="195.9" r="2.9" fill="#c4b79c"/>
<polygon points="1421.4,236.0 1415.7,223.8 1427.7,224.1" fill="#c4b79c"/>
<polyline points="1421.4,203.2 1423.8,325.8 1422.8,130.1 1421.3,143.0 1428.0,115.5" fill="none" stroke="#c4b79c" stroke-width="1.9" stroke-linejoin="round"/>
<circle cx="1421.4" cy="203.2" r="2.9" fill="#c4b79c"/>
<circle cx="1423.8" cy="325.8" r="2.9" fill="#c4b79c"/>
<circle cx="1422.8" cy="130.1" r="2.9" fill="#c4b79c"/>
<circle cx="1421.3" cy="143.0" r="2.9" fill="#c4b79c"/>
<polygon points="1428.0,115.5 1431.0,128.6 1419.3,125.8" fill="#c4b79c"/>
<polyline points="1422.8,399.0 1441.2,237.3 1422.5,420.4 1421.4,358.9 1512.6,380.7" fill="none" stroke="#c4b79c" stroke-width="1.9" stroke-linejoin="round"/>
<circle cx="1422.8" cy="399.0" r="2.9" fill="#c4b79c"/>
<circle cx="1441.2" cy="237.3" r="2.9" fill="#c4b79c"/>
<circle cx="1422.5" cy="420.4" r="2.9" fill="#c4b79c"/>
<circle cx="1421.4" cy="358.9" r="2.9" fill="#c4b79c"/>
<polygon points="1512.6,380.7 1499.5,383.7 1502.3,372.0" fill="#c4b79c"/>
<polyline points="1421.7,140.4 1450.1,125.2 1428.4,192.4" fill="none" stroke="#c4b79c" stroke-width="1.9" stroke-linejoin="round"/>
<circle cx="1421.7" cy="140.4" r="2.9" fill="#c4b79c"/>
<circle cx="1450.1" cy="125.2" r="2.9" fill="#c4b79c"/>
<circle cx="1428.4" cy="192.4" r="2.9" fill="#c4b79c"/>
<polyline points="1430.4,340.4 1458.1,241.3 1421.0,320.6 1440.9,438.4 1448.1,252.8" fill="none" stroke="#c4b79c" stroke-width="1.9" stroke-linejoin="round"/>
<circle cx="1430.4" cy="340.4" r="2.9" fill="#c4b79c"/>
<circle cx="1458.1" cy="241.3" r="2.9" fill="#c4b79c"/>
<circle cx="1421.0" cy="320.6" r="2.9" fill="#c4b79c"/>
<circle cx="1440.9" cy="438.4" r="2.9" fill="#c4b79c"/>
<circle cx="1448.1" cy="252.8" r="2.9" fill="#c4b79c"/>
<polyline points="1423.8,161.8 1421.3,209.7 1423.1,233.5 1427.1,182.7 1516.6,165.3" fill="none" stroke="#c4b79c" stroke-width="1.9" stroke-linejoin="round"/>
<circle cx="1423.8" cy="161.8" r="2.9" fill="#c4b79c"/>
<circle cx="1421.3" cy="209.7" r="2.9" fill="#c4b79c"/>
<circle cx="1423.1" cy="233.5" r="2.9" fill="#c4b79c"/>
<circle cx="1427.1" cy="182.7" r="2.9" fill="#c4b79c"/>
<polygon points="1516.6,165.3 1506.0,173.5 1503.7,161.7" fill="#c4b79c"/>
<polyline points="1421.7,197.3 1482.5,361.2 1442.7,222.1 1423.7,244.7" fill="none" stroke="#c4b79c" stroke-width="1.9" stroke-linejoin="round"/>
<circle cx="1421.7" cy="197.3" r="2.9" fill="#c4b79c"/>
<circle cx="1482.5" cy="361.2" r="2.9" fill="#c4b79c"/>
<circle cx="1442.7" cy="222.1" r="2.9" fill="#c4b79c"/>
<polygon points="1423.7,244.7 1426.8,231.7 1436.0,239.4" fill="#c4b79c"/>
<polyline points="1421.1,165.8 1475.6,223.2 1426.1,382.5 1422.8,215.6 1422.5,326.3" fill="none" stroke="#c4b79c" stroke-width="1.9" stroke-linejoin="round"/>
<circle cx="1421.1" cy="165.8" r="2.9" fill="#c4b79c"/>
<circle cx="1475.6" cy="223.2" r="2.9" fill="#c4b79c"/>
<circle cx="1426.1" cy="382.5" r="2.9" fill="#c4b79c"/>
<circle cx="1422.8" cy="215.6" r="2.9" fill="#c4b79c"/>
<polygon points="1422.5,326.3 1416.6,314.3 1428.6,314.3" fill="#c4b79c"/>
<polyline points="1429.9,322.5 1426.8,127.5 1428.8,438.4 1421.4,355.0 1421.6,209.9" fill="none" stroke="#c4b79c" stroke-width="1.9" stroke-linejoin="round"/>
<circle cx="1429.9" cy="322.5" r="2.9" fill="#c4b79c"/>
<circle cx="1426.8" cy="127.5" r="2.9" fill="#c4b79c"/>
<circle cx="1428.8" cy="438.4" r="2.9" fill="#c4b79c"/>
<circle cx="1421.4" cy="355.0" r="2.9" fill="#c4b79c"/>
<polygon points="1421.6,209.9 1427.6,221.9 1415.6,221.9" fill="#c4b79c"/>
<polyline points="1474.4,243.9 1422.7,359.7 1421.7,236.1" fill="none" stroke="#c4b79c" stroke-width="1.9" stroke-linejoin="round"/>
<circle cx="1474.4" cy="243.9" r="2.9" fill="#c4b79c"/>
<circle cx="1422.7" cy="359.7" r="2.9" fill="#c4b79c"/>
<polygon points="1421.7,236.1 1427.8,248.0 1415.8,248.1" fill="#c4b79c"/>
<polyline points="1421.2,209.9 1439.3,289.6 1432.2,329.0 1425.0,193.1 1424.1,211.0" fill="none" stroke="#c4b79c" stroke-width="1.9" stroke-linejoin="round"/>
<circle cx="1421.2" cy="209.9" r="2.9" fill="#c4b79c"/>
<circle cx="1439.3" cy="289.6" r="2.9" fill="#c4b79c"/>
<circle cx="1432.2" cy="329.0" r="2.9" fill="#c4b79c"/>
<circle cx="1425.0" cy="193.1" r="2.9" fill="#c4b79c"/>
<polygon points="1424.1,211.0 1418.7,198.8 1430.7,199.3" fill="#c4b79c"/>
<polyline points="1436.3,405.2 1423.3,325.8 1431.4,382.6" fill="none" stroke="#c4b79c" stroke-width="1.9" stroke-linejoin="round"/>
<circle cx="1436.3" cy="405.2" r="2.9" fill="#c4b79c"/>
<circle cx="1423.3" cy="325.8" r="2.9" fill="#c4b79c"/>
<polygon points="1431.4,382.6 1423.8,371.6 1435.6,369.9" fill="#c4b79c"/>
<polyline points="1422.6,379.8 1429.1,377.0 1422.8,362.5 1438.0,419.4 1457.9,298.0" fill="none" stroke="#c4b79c" stroke-width="1.9" stroke-linejoin="round"/>
<circle cx="1422.6" cy="379.8" r="2.9" fill="#c4b79c"/>
<circle cx="1429.1" cy="377.0" r="2.9" fill="#c4b79c"/>
<circle cx="1422.8" cy="362.5" r="2.9" fill="#c4b79c"/>
<circle cx="1438.0" cy="419.4" r="2.9" fill="#c4b79c"/>
<circle cx="1457.9" cy="298.0" r="2.9" fill="#c4b79c"/>
<polyline points="1422.2,205.8 1423.0,273.6 1435.8,438.4 1422.8,277.6" fill="none" stroke="#c4b79c" stroke-width="1.9" stroke-linejoin="round"/>
<circle cx="1422.2" cy="205.8" r="2.9" fill="#c4b79c"/>
<circle cx="1423.0" cy="273.6" r="2.9" fill="#c4b79c"/>
<circle cx="1435.8" cy="438.4" r="2.9" fill="#c4b79c"/>
<polygon points="1422.8,277.6 1429.7,289.1 1417.7,290.1" fill="#c4b79c"/>
<polyline points="1432.5,208.3 1422.4,295.9 1422.0,271.2 1420.9,251.4" fill="none" stroke="#c4b79c" stroke-width="1.9" stroke-linejoin="round"/>
<circle cx="1432.5" cy="208.3" r="2.9" fill="#c4b79c"/>
<circle cx="1422.4" cy="295.9" r="2.9" fill="#c4b79c"/>
<circle cx="1422.0" cy="271.2" r="2.9" fill="#c4b79c"/>
<polygon points="1420.9,251.4 1427.6,263.0 1415.6,263.7" fill="#c4b79c"/>
<polyline points="1421.1,211.7 1425.3,253.3 1422.3,255.4 1427.8,257.4" fill="none" stroke="#c4b79c" stroke-width="1.9" stroke-linejoin="round"/>
<circle cx="1421.1" cy="211.7" r="2.9" fill="#c4b79c"/>
<circle cx="1425.3" cy="253.3" r="2.9" fill="#c4b79c"/>
<circle cx="1422.3" cy="255.4" r="2.9" fill="#c4b79c"/>
<polygon points="1427.8,257.4 1414.5,259.0 1418.5,247.7" fill="#c4b79c"/>
<polyline points="1469.5,217.1 1428.5,245.5 1421.7,243.7 1421.1,199.0 1421.7,304.7" fill="none" stroke="#c4b79c" stroke-width="1.9" stroke-linejoin="round"/>
<circle cx="1469.5" cy="217.1" r="2.9" fill="#c4b79c"/>
<circle cx="1428.5" cy="245.5" r="2.9" fill="#c4b79c"/>
<circle cx="1421.7" cy="243.7" r="2.9" fill="#c4b79c"/>
<circle cx="1421.1" cy="199.0" r="2.9" fill="#c4b79c"/>
<circle cx="1421.7" cy="304.7" r="2.9" fill="#c4b79c"/>
<polyline points="1421.5,164.9 1424.7,190.4 1424.4,180.2 1436.2,225.9 1421.3,259.5" fill="none" stroke="#c4b79c" stroke-width="1.9" stroke-linejoin="round"/>
<circle cx="1421.5" cy="164.9" r="2.9" fill="#c4b79c"/>
<circle cx="1424.7" cy="190.4" r="2.9" fill="#c4b79c"/>
<circle cx="1424.4" cy="180.2" r="2.9" fill="#c4b79c"/>
<circle cx="1436.2" cy="225.9" r="2.9" fill="#c4b79c"/>
<circle cx="1421.3" cy="259.5" r="2.9" fill="#c4b79c"/>
<polyline points="1422.4,178.9 1422.5,180.9 1448.9,118.9 1421.6,204.2 1422.1,152.1" fill="none" stroke="#c4b79c" stroke-width="1.9" stroke-linejoin="round"/>
<circle cx="1422.4" cy="178.9" r="2.9" fill="#c4b79c"/>
<circle cx="1422.5" cy="180.9" r="2.9" fill="#c4b79c"/>
<circle cx="1448.9" cy="118.9" r="2.9" fill="#c4b79c"/>
<circle cx="1421.6" cy="204.2" r="2.9" fill="#c4b79c"/>
<polygon points="1422.1,152.1 1428.0,164.1 1416.0,164.0" fill="#c4b79c"/>
<polyline points="1432.6,263.9 1421.1,328.1 1438.9,223.9 1473.8,275.2 1421.8,139.2" fill="none" stroke="#c4b79c" stroke-width="1.9" stroke-linejoin="round"/>
<circle cx="1432.6" cy="263.9" r="2.9" fill="#c4b79c"/>
<circle cx="1421.1" cy="328.1" r="2.9" fill="#c4b79c"/>
<circle cx="1438.9" cy="223.9" r="2.9" fill="#c4b79c"/>
<circle cx="1473.8" cy="275.2" r="2.9" fill="#c4b79c"/>
<circle cx="1421.8" cy="139.2" r="2.9" fill="#c4b79c"/>
<polyline points="1453.9,265.7 1448.0,129.2 1421.0,190.4 1421.9,438.4 1425.2,247.1" fill="none" stroke="#c4b79c" stroke-width="1.9" stroke-linejoin="round"/>
<circle cx="1453.9" cy="265.7" r="2.9" fill="#c4b79c"/>
<circle cx="1448.0" cy="129.2" r="2.9" fill="#c4b79c"/>
<circle cx="1421.0" cy="190.4" r="2.9" fill="#c4b79c"/>
<circle cx="1421.9" cy="438.4" r="2.9" fill="#c4b79c"/>
<polygon points="1425.2,247.1 1431.0,259.2 1419.0,259.0" fill="#c4b79c"/>
<polyline points="1422.0,237.6 1420.8,438.4 1421.1,143.6 1433.4,265.0" fill="none" stroke="#c4b79c" stroke-width="1.9" stroke-linejoin="round"/>
<circle cx="1422.0" cy="237.6" r="2.9" fill="#c4b79c"/>
<circle cx="1420.8" cy="438.4" r="2.9" fill="#c4b79c"/>
<circle cx="1421.1" cy="143.6" r="2.9" fill="#c4b79c"/>
<circle cx="1433.4" cy="265.0" r="2.9" fill="#c4b79c"/>
<polyline points="1422.0,211.1 1466.0,191.2 1461.5,438.4 1421.0,219.1 1452.8,438.4" fill="none" stroke="#c4b79c" stroke-width="1.9" stroke-linejoin="round"/>
<circle cx="1422.0" cy="211.1" r="2.9" fill="#c4b79c"/>
<circle cx="1466.0" cy="191.2" r="2.9" fill="#c4b79c"/>
<circle cx="1461.5" cy="438.4" r="2.9" fill="#c4b79c"/>
<circle cx="1421.0" cy="219.1" r="2.9" fill="#c4b79c"/>
<polygon points="1452.8,438.4 1445.1,427.4 1457.0,425.7" fill="#c4b79c"/>
<polyline points="1421.6,333.9 1436.9,290.2 1446.0,357.8" fill="none" stroke="#c4b79c" stroke-width="1.9" stroke-linejoin="round"/>
<circle cx="1421.6" cy="333.9" r="2.9" fill="#c4b79c"/>
<circle cx="1436.9" cy="290.2" r="2.9" fill="#c4b79c"/>
<polygon points="1446.0,357.8 1438.5,346.7 1450.4,345.1" fill="#c4b79c"/>
<polyline points="1448.8,438.4 1427.4,287.2 1431.8,173.3 1430.3,134.0" fill="none" stroke="#c4b79c" stroke-width="1.9" stroke-linejoin="round"/>
<circle cx="1448.8" cy="438.4" r="2.9" fill="#c4b79c"/>
<circle cx="1427.4" cy="287.2" r="2.9" fill="#c4b79c"/>
<circle cx="1431.8" cy="173.3" r="2.9" fill="#c4b79c"/>
<circle cx="1430.3" cy="134.0" r="2.9" fill="#c4b79c"/>
<polyline points="1421.1,265.7 1421.6,309.7 1421.7,298.7" fill="none" stroke="#c4b79c" stroke-width="1.9" stroke-linejoin="round"/>
<circle cx="1421.1" cy="265.7" r="2.9" fill="#c4b79c"/>
<circle cx="1421.6" cy="309.7" r="2.9" fill="#c4b79c"/>
<circle cx="1421.7" cy="298.7" r="2.9" fill="#c4b79c"/>
<polyline points="1421.2,308.3 1421.8,274.0 1455.3,317.1" fill="none" stroke="#c4b79c" stroke-width="1.9" stroke-linejoin="round"/>
<circle cx="1421.2" cy="308.3" r="2.9" fill="#c4b79c"/>
<circle cx="1421.8" cy="274.0" r="2.9" fill="#c4b79c"/>
<circle cx="1455.3" cy="317.1" r="2.9" fill="#c4b79c"/>
<polyline points="1430.3,152.2 1422.2,176.4 1427.0,115.0 1437.3,110.2" fill="none" stroke="#c4b79c" stroke-width="1.9" stroke-linejoin="round"/>
<circle cx="1430.3" cy="152.2" r="2.9" fill="#c4b79c"/>
<circle cx="1422.2" cy="176.4" r="2.9" fill="#c4b79c"/>
<circle cx="1427.0" cy="115.0" r="2.9" fill="#c4b79c"/>
<polygon points="1437.3,110.2 1429.0,120.7 1423.9,109.8" fill="#c4b79c"/>
<polyline points="1434.4,122.5 1439.0,438.4 1438.4,438.4 1421.5,229.3 1421.3,193.4" fill="none" stroke="#c4b79c" stroke-width="1.9" stroke-linejoin="round"/>
<circle cx="1434.4" cy="122.5" r="2.9" fill="#c4b79c"/>
<circle cx="1439.0" cy="438.4" r="2.9" fill="#c4b79c"/>
<circle cx="1438.4" cy="438.4" r="2.9" fill="#c4b79c"/>
<circle cx="1421.5" cy="229.3" r="2.9" fill="#c4b79c"/>
<polygon points="1421.3,193.4 1427.4,205.4 1415.4,205.5" fill="#c4b79c"/>
<polyline points="1466.5,303.4 1422.6,305.7 1460.9,213.6 1422.7,137.8 1422.6,135.5" fill="none" stroke="#c4b79c" stroke-width="1.9" stroke-linejoin="round"/>
<circle cx="1466.5" cy="303.4" r="2.9" fill="#c4b79c"/>
<circle cx="1422.6" cy="305.7" r="2.9" fill="#c4b79c"/>
<circle cx="1460.9" cy="213.6" r="2.9" fill="#c4b79c"/>
<circle cx="1422.7" cy="137.8" r="2.9" fill="#c4b79c"/>
<polygon points="1422.6,135.5 1429.3,147.2 1417.3,147.9" fill="#c4b79c"/>
<polyline points="1494.0,266.1 1468.1,288.5 1423.0,357.4" fill="none" stroke="#c4b79c" stroke-width="1.9" stroke-linejoin="round"/>
<circle cx="1494.0" cy="266.1" r="2.9" fill="#c4b79c"/>
<circle cx="1468.1" cy="288.5" r="2.9" fill="#c4b79c"/>
<polygon points="1423.0,357.4 1424.6,344.1 1434.6,350.7" fill="#c4b79c"/>
<polyline points="1426.1,404.2 1421.4,438.4 1435.6,236.8" fill="none" stroke="#c4b79c" stroke-width="1.9" stroke-linejoin="round"/>
<circle cx="1426.1" cy="404.2" r="2.9" fill="#c4b79c"/>
<circle cx="1421.4" cy="438.4" r="2.9" fill="#c4b79c"/>
<polygon points="1435.6,236.8 1440.8,249.1 1428.8,248.3" fill="#c4b79c"/>
<polyline points="1426.6,438.4 1421.5,186.9 1426.1,325.4 1421.0,170.1 1431.5,168.5" fill="none" stroke="#c4b79c" stroke-width="1.9" stroke-linejoin="round"/>
<circle cx="1426.6" cy="438.4" r="2.9" fill="#c4b79c"/>
<circle cx="1421.5" cy="186.9" r="2.9" fill="#c4b79c"/>
<circle cx="1426.1" cy="325.4" r="2.9" fill="#c4b79c"/>
<circle cx="1421.0" cy="170.1" r="2.9" fill="#c4b79c"/>
<circle cx="1431.5" cy="168.5" r="2.9" fill="#c4b79c"/>
<polyline points="1467.0,177.6 1421.6,189.3 1421.0,226.5 1421.1,343.2 1426.6,182.5" fill="none" stroke="#c4b79c" stroke-width="1.9" stroke-linejoin="round"/>
<circle cx="1467.0" cy="177.6" r="2.9" fill="#c4b79c"/>
<circle cx="1421.6" cy="189.3" r="2.9" fill="#c4b79c"/>
<circle cx="1421.0" cy="226.5" r="2.9" fill="#c4b79c"/>
<circle cx="1421.1" cy="343.2" r="2.9" fill="#c4b79c"/>
<polygon points="1426.6,182.5 1432.2,194.7 1420.2,194.3" fill="#c4b79c"/>
<polyline points="1429.0,147.9 1446.4,311.0 1424.9,295.8 1422.6,241.7" fill="none" stroke="#c4b79c" stroke-width="1.9" stroke-linejoin="round"/>
<circle cx="1429.0" cy="147.9" r="2.9" fill="#c4b79c"/>
<circle cx="1446.4" cy="311.0" r="2.9" fill="#c4b79c"/>
<circle cx="1424.9" cy="295.8" r="2.9" fill="#c4b79c"/>
<circle cx="1422.6" cy="241.7" r="2.9" fill="#c4b79c"/>
<polyline points="1426.9,378.6 1420.8,267.4 1467.5,291.4 1420.9,362.2 1423.1,386.2" fill="none" stroke="#c4b79c" stroke-width="1.9" stroke-linejoin="round"/>
<circle cx="1426.9" cy="378.6" r="2.9" fill="#c4b79c"/>
<circle cx="1420.8" cy="267.4" r="2.9" fill="#c4b79c"/>
<circle cx="1467.5" cy="291.4" r="2.9" fill="#c4b79c"/>
<circle cx="1420.9" cy="362.2" r="2.9" fill="#c4b79c"/>
<circle cx="1423.1" cy="386.2" r="2.9" fill="#c4b79c"/>
<polyline points="1445.0,317.5 1423.3,270.0 1423.0,331.9" fill="none" stroke="#c4b79c" stroke-width="1.9" stroke-linejoin="round"/>
<circle cx="1445.0" cy="317.5" r="2.9" fill="#c4b79c"/>
<circle cx="1423.3" cy="270.0" r="2.9" fill="#c4b79c"/>
<polygon points="1423.0,331.9 1417.0,319.9 1429.0,320.0" fill="#c4b79c"/>
<polyline points="1422.5,438.4 1448.1,309.0 1436.0,176.7 1425.5,250.7" fill="none" stroke="#c4b79c" stroke-width="1.9" stroke-linejoin="round"/>
<circle cx="1422.5" cy="438.4" r="2.9" fill="#c4b79c"/>
<circle cx="1448.1" cy="309.0" r="2.9" fill="#c4b79c"/>
<circle cx="1436.0" cy="176.7" r="2.9" fill="#c4b79c"/>
<polygon points="1425.5,250.7 1421.2,238.0 1433.1,239.7" fill="#c4b79c"/>
<polyline points="1421.7,166.3 1423.0,242.1 1421.3,261.9" fill="none" stroke="#c4b79c" stroke-width="1.9" stroke-linejoin="round"/>
<circle cx="1421.7" cy="166.3" r="2.9" fill="#c4b79c"/>
<circle cx="1423.0" cy="242.1" r="2.9" fill="#c4b79c"/>
<circle cx="1421.3" cy="261.9" r="2.9" fill="#c4b79c"/>
<polyline points="1428.0,132.7 1439.8,155.9 1424.2,164.5 1433.3,123.4" fill="none" stroke="#c4b79c" stroke-width="1.9" stroke-linejoin="round"/>
<circle cx="1428.0" cy="132.7" r="2.9" fill="#c4b79c"/>
<circle cx="1439.8" cy="155.9" r="2.9" fill="#c4b79c"/>
<circle cx="1424.2" cy="164.5" r="2.9" fill="#c4b79c"/>
<polygon points="1433.3,123.4 1436.5,136.4 1424.8,133.8" fill="#c4b79c"/>
<polyline points="1421.1,308.4 1449.4,438.4 1421.4,372.1 1463.4,370.6 1421.0,335.3" fill="none" stroke="#c4b79c" stroke-width="1.9" stroke-linejoin="round"/>
<circle cx="1421.1" cy="308.4" r="2.9" fill="#c4b79c"/>
<circle cx="1449.4" cy="438.4" r="2.9" fill="#c4b79c"/>
<circle cx="1421.4" cy="372.1" r="2.9" fill="#c4b79c"/>
<circle cx="1463.4" cy="370.6" r="2.9" fill="#c4b79c"/>
<polygon points="1421.0,335.3 1434.1,338.3 1426.4,347.5" fill="#c4b79c"/>
<polyline points="1439.9,259.1 1479.7,338.2 1427.2,320.7 1432.5,252.8" fill="none" stroke="#c4b79c" stroke-width="1.9" stroke-linejoin="round"/>
<circle cx="1439.9" cy="259.1" r="2.9" fill="#c4b79c"/>
<circle cx="1479.7" cy="338.2" r="2.9" fill="#c4b79c"/>
<circle cx="1427.2" cy="320.7" r="2.9" fill="#c4b79c"/>
<polygon points="1432.5,252.8 1437.5,265.3 1425.6,264.3" fill="#c4b79c"/>
<polyline points="1423.1,109.5 1421.0,161.2 1421.9,182.7 1421.7,255.9" fill="none" stroke="#c4b79c" stroke-width="1.9" stroke-linejoin="round"/>
<circle cx="1423.1" cy="109.5" r="2.9" fill="#c4b79c"/>
<circle cx="1421.0" cy="161.2" r="2.9" fill="#c4b79c"/>
<circle cx="1421.9" cy="182.7" r="2.9" fill="#c4b79c"/>
<circle cx="1421.7" cy="255.9" r="2.9" fill="#c4b79c"/>
<polyline points="1422.9,159.5 1426.9,204.9 1422.5,186.4" fill="none" stroke="#c4b79c" stroke-width="1.9" stroke-linejoin="round"/>
<circle cx="1422.9" cy="159.5" r="2.9" fill="#c4b79c"/>
<circle cx="1426.9" cy="204.9" r="2.9" fill="#c4b79c"/>
<polygon points="1422.5,186.4 1431.1,196.6 1419.5,199.5" fill="#c4b79c"/>
<polyline points="1485.5,326.1 1423.8,239.7 1421.3,438.4" fill="none" stroke="#c4b79c" stroke-width="1.9" stroke-linejoin="round"/>
<circle cx="1485.5" cy="326.1" r="2.9" fill="#c4b79c"/>
<circle cx="1423.8" cy="239.7" r="2.9" fill="#c4b79c"/>
<circle cx="1421.3" cy="438.4" r="2.9" fill="#c4b79c"/>
<polyline points="1423.0,216.9 1422.2,188.0 1422.8,260.5" fill="none" stroke="#c4b79c" stroke-width="1.9" stroke-linejoin="round"/>
<circle cx="1423.0" cy="216.9" r="2.9" fill="#c4b79c"/>
<circle cx="1422.2" cy="188.0" r="2.9" fill="#c4b79c"/>
<circle cx="1422.8" cy="260.5" r="2.9" fill="#c4b79c"/>
<polyline points="1430.8,257.0 1425.1,239.8 1472.2,211.6 1461.2,202.7 1445.2,364.1" fill="none" stroke="#c4b79c" stroke-width="1.9" stroke-linejoin="round"/>
<circle cx="1430.8" cy="257.0" r="2.9" fill="#c4b79c"/>
<circle cx="1425.1" cy="239.8" r="2.9" fill="#c4b79c"/>
<circle cx="1472.2" cy="211.6" r="2.9" fill="#c4b79c"/>
<circle cx="1461.2" cy="202.7" r="2.9" fill="#c4b79c"/>
<polygon points="1445.2,364.1 1440.4,351.5 1452.3,352.7" fill="#c4b79c"/>
<polyline points="1462.2,420.7 1421.7,419.2 1480.1,269.7 1424.2,350.2" fill="none" stroke="#c4b79c" stroke-width="1.9" stroke-linejoin="round"/>
<circle cx="1462.2" cy="420.7" r="2.9" fill="#c4b79c"/>
<circle cx="1421.7" cy="419.2" r="2.9" fill="#c4b79c"/>
<circle cx="1480.1" cy="269.7" r="2.9" fill="#c4b79c"/>
<circle cx="1424.2" cy="350.2" r="2.9" fill="#c4b79c"/>
<polyline points="1422.6,200.8 1457.7,222.6 1454.4,194.3" fill="none" stroke="#c4b79c" stroke-width="1.9" stroke-linejoin="round"/>
<circle cx="1422.6" cy="200.8" r="2.9" fill="#c4b79c"/>
<circle cx="1457.7" cy="222.6" r="2.9" fill="#c4b79c"/>
<circle cx="1454.4" cy="194.3" r="2.9" fill="#c4b79c"/>
<polyline points="1427.6,304.4 1440.7,309.1 1449.7,328.3 1439.9,419.7 1427.6,293.0" fill="none" stroke="#c4b79c" stroke-width="1.9" stroke-linejoin="round"/>
<circle cx="1427.6" cy="304.4" r="2.9" fill="#c4b79c"/>
<circle cx="1440.7" cy="309.1" r="2.9" fill="#c4b79c"/>
<circle cx="1449.7" cy="328.3" r="2.9" fill="#c4b79c"/>
<circle cx="1439.9" cy="419.7" r="2.9" fill="#c4b79c"/>
<polygon points="1427.6,293.0 1434.7,304.4 1422.8,305.6" fill="#c4b79c"/>
<polyline points="1423.0,137.1 1421.9,136.1 1429.7,194.6" fill="none" stroke="#c4b79c" stroke-width="1.9" stroke-linejoin="round"/>
<circle cx="1423.0" cy="137.1" r="2.9" fill="#c4b79c"/>
<circle cx="1421.9" cy="136.1" r="2.9" fill="#c4b79c"/>
<polygon points="1429.7,194.6 1422.2,183.6 1434.1,182.0" fill="#c4b79c"/>
<polyline points="1442.6,278.6 1441.1,338.2 1488.6,177.5" fill="none" stroke="#c4b79c" stroke-width="1.9" stroke-linejoin="round"/>
<circle cx="1442.6" cy="278.6" r="2.9" fill="#c4b79c"/>
<circle cx="1441.1" cy="338.2" r="2.9" fill="#c4b79c"/>
<circle cx="1488.6" cy="177.5" r="2.9" fill="#c4b79c"/>
<polyline points="1424.3,201.2 1429.2,133.2 1420.9,197.5 1421.6,125.3" fill="none" stroke="#c4b79c" stroke-width="1.9" stroke-linejoin="round"/>
<circle cx="1424.3" cy="201.2" r="2.9" fill="#c4b79c"/>
<circle cx="1429.2" cy="133.2" r="2.9" fill="#c4b79c"/>
<circle cx="1420.9" cy="197.5" r="2.9" fill="#c4b79c"/>
<polygon points="1421.6,125.3 1427.5,137.4 1415.5,137.2" fill="#c4b79c"/>
<polyline points="1451.1,251.0 1477.5,438.4 1431.7,267.1 1421.8,249.7 1440.2,365.4" fill="none" stroke="#c4b79c" stroke-width="1.9" stroke-linejoin="round"/>
<circle cx="1451.1" cy="251.0" r="2.9" fill="#c4b79c"/>
<circle cx="1477.5" cy="438.4" r="2.9" fill="#c4b79c"/>
<circle cx="1431.7" cy="267.1" r="2.9" fill="#c4b79c"/>
<circle cx="1421.8" cy="249.7" r="2.9" fill="#c4b79c"/>
<circle cx="1440.2" cy="365.4" r="2.9" fill="#c4b79c"/>
<polyline points="1479.6,359.6 1420.8,145.8 1431.4,408.7" fill="none" stroke="#c4b79c" stroke-width="1.9" stroke-linejoin="round"/>
<circle cx="1479.6" cy="359.6" r="2.9" fill="#c4b79c"/>
<circle cx="1420.8" cy="145.8" r="2.9" fill="#c4b79c"/>
<circle cx="1431.4" cy="408.7" r="2.9" fill="#c4b79c"/>
<polyline points="1422.0,220.2 1438.0,283.0 1431.4,362.1" fill="none" stroke="#c4b79c" stroke-width="1.9" stroke-linejoin="round"/>
<circle cx="1422.0" cy="220.2" r="2.9" fill="#c4b79c"/>
<circle cx="1438.0" cy="283.0" r="2.9" fill="#c4b79c"/>
<circle cx="1431.4" cy="362.1" r="2.9" fill="#c4b79c"/>
<polyline points="1421.2,230.3 1423.8,223.0 1421.3,230.5 1425.5,263.3" fill="none" stroke="#c4b79c" stroke-width="1.9" stroke-linejoin="round"/>
<circle cx="1421.2" cy="230.3" r="2.9" fill="#c4b79c"/>
<circle cx="1423.8" cy="223.0" r="2.9" fill="#c4b79c"/>
<circle cx="1421.3" cy="230.5" r="2.9" fill="#c4b79c"/>
<polygon points="1425.5,263.3 1418.0,252.2 1429.9,250.7" fill="#c4b79c"/>
<polyline points="1440.5,294.1 1425.5,269.4 1423.0,192.6" fill="none" stroke="#c4b79c" stroke-width="1.9" stroke-linejoin="round"/>
<circle cx="1440.5" cy="294.1" r="2.9" fill="#c4b79c"/>
<circle cx="1425.5" cy="269.4" r="2.9" fill="#c4b79c"/>
<circle cx="1423.0" cy="192.6" r="2.9" fill="#c4b79c"/>
<polyline points="1441.0,438.4 1422.5,167.3 1433.3,438.4 1428.5,299.3 1430.8,233.8" fill="none" stroke="#c4b79c" stroke-width="1.9" stroke-linejoin="round"/>
<circle cx="1441.0" cy="438.4" r="2.9" fill="#c4b79c"/>
<circle cx="1422.5" cy="167.3" r="2.9" fill="#c4b79c"/>
<circle cx="1433.3" cy="438.4" r="2.9" fill="#c4b79c"/>
<circle cx="1428.5" cy="299.3" r="2.9" fill="#c4b79c"/>
<polygon points="1430.8,233.8 1436.4,246.0 1424.4,245.6" fill="#c4b79c"/>
<polyline points="1421.1,149.1 1421.3,208.2 1421.9,147.2 1421.4,254.0" fill="none" stroke="#c4b79c" stroke-width="1.9" stroke-linejoin="round"/>
<circle cx="1421.1" cy="149.1" r="2.9" fill="#c4b79c"/>
<circle cx="1421.3" cy="208.2" r="2.9" fill="#c4b79c"/>
<circle cx="1421.9" cy="147.2" r="2.9" fill="#c4b79c"/>
<polygon points="1421.4,254.0 1415.5,242.0 1427.5,242.1" fill="#c4b79c"/>
<polyline points="1421.0,253.5 1434.6,302.7 1423.3,258.7 1581.6,174.7 1426.9,277.4" fill="none" stroke="#c4b79c" stroke-width="1.9" stroke-linejoin="round"/>
<circle cx="1421.0" cy="253.5" r="2.9" fill="#c4b79c"/>
<circle cx="1434.6" cy="302.7" r="2.9" fill="#c4b79c"/>
<circle cx="1423.3" cy="258.7" r="2.9" fill="#c4b79c"/>
<circle cx="1581.6" cy="174.7" r="2.9" fill="#c4b79c"/>
<polygon points="1426.9,277.4 1433.5,265.7 1440.2,275.7" fill="#c4b79c"/>
<polyline points="1459.5,334.4 1422.8,122.3 1422.7,230.8 1425.1,188.7 1422.3,336.1" fill="none" stroke="#c4b79c" stroke-width="1.9" stroke-linejoin="round"/>
<circle cx="1459.5" cy="334.4" r="2.9" fill="#c4b79c"/>
<circle cx="1422.8" cy="122.3" r="2.9" fill="#c4b79c"/>
<circle cx="1422.7" cy="230.8" r="2.9" fill="#c4b79c"/>
<circle cx="1425.1" cy="188.7" r="2.9" fill="#c4b79c"/>
<circle cx="1422.3" cy="336.1" r="2.9" fill="#c4b79c"/>
<polyline points="1450.5,166.9 1450.4,128.5 1421.5,106.4 1434.7,121.6" fill="none" stroke="#c4b79c" stroke-width="1.9" stroke-linejoin="round"/>
<circle cx="1450.5" cy="166.9" r="2.9" fill="#c4b79c"/>
<circle cx="1450.4" cy="128.5" r="2.9" fill="#c4b79c"/>
<circle cx="1421.5" cy="106.4" r="2.9" fill="#c4b79c"/>
<polygon points="1434.7,121.6 1422.3,116.5 1431.3,108.6" fill="#c4b79c"/>
<polyline points="1420.9,260.8 1478.9,237.6 1429.5,266.9 1435.4,189.4" fill="none" stroke="#c4b79c" stroke-width="1.9" stroke-linejoin="round"/>
<circle cx="1420.9" cy="260.8" r="2.9" fill="#c4b79c"/>
<circle cx="1478.9" cy="237.6" r="2.9" fill="#c4b79c"/>
<circle cx="1429.5" cy="266.9" r="2.9" fill="#c4b79c"/>
<circle cx="1435.4" cy="189.4" r="2.9" fill="#c4b79c"/>
<polyline points="1421.8,110.8 1429.1,317.3 1422.3,148.9" fill="none" stroke="#c4b79c" stroke-width="1.9" stroke-linejoin="round"/>
<circle cx="1421.8" cy="110.8" r="2.9" fill="#c4b79c"/>
<circle cx="1429.1" cy="317.3" r="2.9" fill="#c4b79c"/>
<circle cx="1422.3" cy="148.9" r="2.9" fill="#c4b79c"/>
<polyline points="1421.5,198.9 1430.8,248.3 1422.4,157.6 1422.1,169.9" fill="none" stroke="#c4b79c" stroke-width="1.9" stroke-linejoin="round"/>
<circle cx="1421.5" cy="198.9" r="2.9" fill="#c4b79c"/>
<circle cx="1430.8" cy="248.3" r="2.9" fill="#c4b79c"/>
<circle cx="1422.4" cy="157.6" r="2.9" fill="#c4b79c"/>
<circle cx="1422.1" cy="169.9" r="2.9" fill="#c4b79c"/>
<polyline points="1422.8,187.9 1425.7,293.5 1429.3,214.2 1425.5,246.9" fill="none" stroke="#c4b79c" stroke-width="1.9" stroke-linejoin="round"/>
<circle cx="1422.8" cy="187.9" r="2.9" fill="#c4b79c"/>
<circle cx="1425.7" cy="293.5" r="2.9" fill="#c4b79c"/>
<circle cx="1429.3" cy="214.2" r="2.9" fill="#c4b79c"/>
<circle cx="1425.5" cy="246.9" r="2.9" fill="#c4b79c"/>
<polyline points="1421.8,342.0 1447.4,210.6 1437.0,438.4 1422.2,438.4" fill="none" stroke="#c4b79c" stroke-width="1.9" stroke-linejoin="round"/>
<circle cx="1421.8" cy="342.0" r="2.9" fill="#c4b79c"/>
<circle cx="1447.4" cy="210.6" r="2.9" fill="#c4b79c"/>
<circle cx="1437.0" cy="438.4" r="2.9" fill="#c4b79c"/>
<polygon points="1422.2,438.4 1434.2,432.4 1434.2,444.4" fill="#c4b79c"/>
<polyline points="1423.7,263.6 1428.2,217.0 1434.0,137.2 1429.3,210.7 1431.0,263.8" fill="none" stroke="#c4b79c" stroke-width="1.9" stroke-linejoin="round"/>
<circle cx="1423.7" cy="263.6" r="2.9" fill="#c4b79c"/>
<circle cx="1428.2" cy="217.0" r="2.9" fill="#c4b79c"/>
<circle cx="1434.0" cy="137.2" r="2.9" fill="#c4b79c"/>
<circle cx="1429.3" cy="210.7" r="2.9" fill="#c4b79c"/>
<polygon points="1431.0,263.8 1424.6,252.0 1436.6,251.7" fill="#c4b79c"/>
<polyline points="1476.9,254.5 1457.5,207.3 1429.7,438.4 1431.0,404.0" fill="none" stroke="#c4b79c" stroke-width="1.9" stroke-linejoin="round"/>
<circle cx="1476.9" cy="254.5" r="2.9" fill="#c4b79c"/>
<circle cx="1457.5" cy="207.3" r="2.9" fill="#c4b79c"/>
<circle cx="1429.7" cy="438.4" r="2.9" fill="#c4b79c"/>
<circle cx="1431.0" cy="404.0" r="2.9" fill="#c4b79c"/>
<polyline points="1466.2,149.6 1421.4,183.3 1454.8,244.2 1444.9,194.8 1432.8,119.9" fill="none" stroke="#c4b79c" stroke-width="1.9" stroke-linejoin="round"/>
<circle cx="1466.2" cy="149.6" r="2.9" fill="#c4b79c"/>
<circle cx="1421.4" cy="183.3" r="2.9" fill="#c4b79c"/>
<circle cx="1454.8" cy="244.2" r="2.9" fill="#c4b79c"/>
<circle cx="1444.9" cy="194.8" r="2.9" fill="#c4b79c"/>
<polygon points="1432.8,119.9 1440.7,130.8 1428.8,132.7" fill="#c4b79c"/>
<polyline points="1436.7,438.4 1422.5,250.9 1437.8,121.5" fill="none" stroke="#c4b79c" stroke-width="1.9" stroke-linejoin="round"/>
<circle cx="1436.7" cy="438.4" r="2.9" fill="#c4b79c"/>
<circle cx="1422.5" cy="250.9" r="2.9" fill="#c4b79c"/>
<polygon points="1437.8,121.5 1442.4,134.1 1430.4,132.7" fill="#c4b79c"/>
<polyline points="1422.5,216.0 1420.9,288.6 1421.8,438.4 1421.3,245.7" fill="none" stroke="#c4b79c" stroke-width="1.9" stroke-linejoin="round"/>
<circle cx="1422.5" cy="216.0" r="2.9" fill="#c4b79c"/>
<circle cx="1420.9" cy="288.6" r="2.9" fill="#c4b79c"/>
<circle cx="1421.8" cy="438.4" r="2.9" fill="#c4b79c"/>
<circle cx="1421.3" cy="245.7" r="2.9" fill="#c4b79c"/>
<polyline points="1435.9,231.3 1427.8,194.2 1420.9,194.5 1433.6,281.5 1421.8,257.6" fill="none" stroke="#c4b79c" stroke-width="1.9" stroke-linejoin="round"/>
<circle cx="1435.9" cy="231.3" r="2.9" fill="#c4b79c"/>
<circle cx="1427.8" cy="194.2" r="2.9" fill="#c4b79c"/>
<circle cx="1420.9" cy="194.5" r="2.9" fill="#c4b79c"/>
<circle cx="1433.6" cy="281.5" r="2.9" fill="#c4b79c"/>
<circle cx="1421.8" cy="257.6" r="2.9" fill="#c4b79c"/>
<polyline points="1443.7,264.7 1441.3,115.7 1421.0,285.1 1422.9,359.0 1482.3,438.4" fill="none" stroke="#c4b79c" stroke-width="1.9" stroke-linejoin="round"/>
<circle cx="1443.7" cy="264.7" r="2.9" fill="#c4b79c"/>
<circle cx="1441.3" cy="115.7" r="2.9" fill="#c4b79c"/>
<circle cx="1421.0" cy="285.1" r="2.9" fill="#c4b79c"/>
<circle cx="1422.9" cy="359.0" r="2.9" fill="#c4b79c"/>
<circle cx="1482.3" cy="438.4" r="2.9" fill="#c4b79c"/>
<polyline points="1434.3,431.0 1423.0,421.6 1422.3,361.5" fill="none" stroke="#c4b79c" stroke-width="1.9" stroke-linejoin="round"/>
<circle cx="1434.3" cy="431.0" r="2.9" fill="#c4b79c"/>
<circle cx="1423.0" cy="421.6" r="2.9" fill="#c4b79c"/>
<circle cx="1422.3" cy="361.5" r="2.9" fill="#c4b79c"/>
<polyline points="1427.9,266.2 1423.7,216.9 1422.0,210.6 1443.1,279.9 1422.4,354.0" fill="none" stroke="#c4b79c" stroke-width="1.9" stroke-linejoin="round"/>
<circle cx="1427.9" cy="266.2" r="2.9" fill="#c4b79c"/>
<circle cx="1423.7" cy="216.9" r="2.9" fill="#c4b79c"/>
<circle cx="1422.0" cy="210.6" r="2.9" fill="#c4b79c"/>
<circle cx="1443.1" cy="279.9" r="2.9" fill="#c4b79c"/>
<circle cx="1422.4" cy="354.0" r="2.9" fill="#c4b79c"/>
<polyline points="1421.5,238.1 1433.0,319.5 1422.5,205.3 1435.1,166.4 1433.5,190.8" fill="none" stroke="#c4b79c" stroke-width="1.9" stroke-linejoin="round"/>
<circle cx="1421.5" cy="238.1" r="2.9" fill="#c4b79c"/>
<circle cx="1433.0" cy="319.5" r="2.9" fill="#c4b79c"/>
<circle cx="1422.5" cy="205.3" r="2.9" fill="#c4b79c"/>
<circle cx="1435.1" cy="166.4" r="2.9" fill="#c4b79c"/>
<circle cx="1433.5" cy="190.8" r="2.9" fill="#c4b79c"/>
<polyline points="1439.4,331.9 1480.7,308.9 1421.3,382.3 1435.2,441.4" fill="none" stroke="#c4b79c" stroke-width="1.9" stroke-linejoin="round"/>
<circle cx="1439.4" cy="331.9" r="2.9" fill="#c4b79c"/>
<circle cx="1480.7" cy="308.9" r="2.9" fill="#c4b79c"/>
<circle cx="1421.3" cy="382.3" r="2.9" fill="#c4b79c"/>
<polygon points="1435.2,441.4 1426.6,431.1 1438.3,428.4" fill="#c4b79c"/>
<polyline points="1508.4,342.2 1422.1,181.6 1427.3,299.7 1426.6,271.5" fill="none" stroke="#c4b79c" stroke-width="1.9" stroke-linejoin="round"/>
<circle cx="1508.4" cy="342.2" r="2.9" fill="#c4b79c"/>
<circle cx="1422.1" cy="181.6" r="2.9" fill="#c4b79c"/>
<circle cx="1427.3" cy="299.7" r="2.9" fill="#c4b79c"/>
<polygon points="1426.6,271.5 1432.9,283.3 1420.9,283.6" fill="#c4b79c"/>
<polyline points="1432.7,151.2 1440.9,175.6 1440.0,165.0" fill="none" stroke="#c4b79c" stroke-width="1.9" stroke-linejoin="round"/>
<circle cx="1432.7" cy="151.2" r="2.9" fill="#c4b79c"/>
<circle cx="1440.9" cy="175.6" r="2.9" fill="#c4b79c"/>
<polygon points="1440.0,165.0 1447.0,176.4 1435.0,177.5" fill="#c4b79c"/>
<polyline points="1428.8,244.7 1436.9,207.3 1429.3,233.5 1425.2,127.7 1440.4,137.2" fill="none" stroke="#c4b79c" stroke-width="1.9" stroke-linejoin="round"/>
<circle cx="1428.8" cy="244.7" r="2.9" fill="#c4b79c"/>
<circle cx="1436.9" cy="207.3" r="2.9" fill="#c4b79c"/>
<circle cx="1429.3" cy="233.5" r="2.9" fill="#c4b79c"/>
<circle cx="1425.2" cy="127.7" r="2.9" fill="#c4b79c"/>
<polygon points="1440.4,137.2 1427.0,135.9 1433.4,125.8" fill="#c4b79c"/>
<polyline points="1422.0,215.6 1427.1,200.9 1438.9,181.4 1456.1,141.5" fill="none" stroke="#c4b79c" stroke-width="1.9" stroke-linejoin="round"/>
<circle cx="1422.0" cy="215.6" r="2.9" fill="#c4b79c"/>
<circle cx="1427.1" cy="200.9" r="2.9" fill="#c4b79c"/>
<circle cx="1438.9" cy="181.4" r="2.9" fill="#c4b79c"/>
<circle cx="1456.1" cy="141.5" r="2.9" fill="#c4b79c"/>
<polyline points="1421.0,196.0 1421.9,164.8 1422.6,140.8" fill="none" stroke="#c4b79c" stroke-width="1.9" stroke-linejoin="round"/>
<circle cx="1421.0" cy="196.0" r="2.9" fill="#c4b79c"/>
<circle cx="1421.9" cy="164.8" r="2.9" fill="#c4b79c"/>
<polygon points="1422.6,140.8 1428.2,153.0 1416.2,152.6" fill="#c4b79c"/>
<polyline points="1422.6,269.5 1422.8,133.4 1421.9,148.3 1422.2,238.2 1470.0,203.2" fill="none" stroke="#c4b79c" stroke-width="1.9" stroke-linejoin="round"/>
<circle cx="1422.6" cy="269.5" r="2.9" fill="#c4b79c"/>
<circle cx="1422.8" cy="133.4" r="2.9" fill="#c4b79c"/>
<circle cx="1421.9" cy="148.3" r="2.9" fill="#c4b79c"/>
<circle cx="1422.2" cy="238.2" r="2.9" fill="#c4b79c"/>
<polygon points="1470.0,203.2 1463.9,215.2 1456.8,205.5" fill="#c4b79c"/>
<polyline points="1442.3,232.4 1436.2,438.4 1446.2,332.0" fill="none" stroke="#c4b79c" stroke-width="1.9" stroke-linejoin="round"/>
<circle cx="1442.3" cy="232.4" r="2.9" fill="#c4b79c"/>
<circle cx="1436.2" cy="438.4" r="2.9" fill="#c4b79c"/>
<polygon points="1446.2,332.0 1451.1,344.5 1439.1,343.3" fill="#c4b79c"/>
<polyline points="1441.1,132.5 1442.0,128.5 1421.0,197.5 1422.3,130.2 1421.8,340.7" fill="none" stroke="#c4b79c" stroke-width="1.9" stroke-linejoin="round"/>
<circle cx="1441.1" cy="132.5" r="2.9" fill="#c4b79c"/>
<circle cx="1442.0" cy="128.5" r="2.9" fill="#c4b79c"/>
<circle cx="1421.0" cy="197.5" r="2.9" fill="#c4b79c"/>
<circle cx="1422.3" cy="130.2" r="2.9" fill="#c4b79c"/>
<circle cx="1421.8" cy="340.7" r="2.9" fill="#c4b79c"/>
<polyline points="1420.8,430.7 1425.9,279.3 1426.4,327.9 1434.7,399.0" fill="none" stroke="#c4b79c" stroke-width="1.9" stroke-linejoin="round"/>
<circle cx="1420.8" cy="430.7" r="2.9" fill="#c4b79c"/>
<circle cx="1425.9" cy="279.3" r="2.9" fill="#c4b79c"/>
<circle cx="1426.4" cy="327.9" r="2.9" fill="#c4b79c"/>
<circle cx="1434.7" cy="399.0" r="2.9" fill="#c4b79c"/>
<polyline points="1435.7,187.7 1456.2,438.4 1420.8,139.1" fill="none" stroke="#c4b79c" stroke-width="1.9" stroke-linejoin="round"/>
<circle cx="1435.7" cy="187.7" r="2.9" fill="#c4b79c"/>
<circle cx="1456.2" cy="438.4" r="2.9" fill="#c4b79c"/>
<polygon points="1420.8,139.1 1428.2,150.3 1416.3,151.7" fill="#c4b79c"/>
<polyline points="1478.5,151.0 1432.0,155.0 1422.1,126.7 1426.5,182.7 1439.7,438.4" fill="none" stroke="#c4b79c" stroke-width="1.9" stroke-linejoin="round"/>
<circle cx="1478.5" cy="151.0" r="2.9" fill="#c4b79c"/>
<circle cx="1432.0" cy="155.0" r="2.9" fill="#c4b79c"/>
<circle cx="1422.1" cy="126.7" r="2.9" fill="#c4b79c"/>
<circle cx="1426.5" cy="182.7" r="2.9" fill="#c4b79c"/>
<circle cx="1439.7" cy="438.4" r="2.9" fill="#c4b79c"/>
<polyline points="1423.0,282.5 1424.3,156.9 1441.6,208.2 1446.6,325.3" fill="none" stroke="#c4b79c" stroke-width="1.9" stroke-linejoin="round"/>
<circle cx="1423.0" cy="282.5" r="2.9" fill="#c4b79c"/>
<circle cx="1424.3" cy="156.9" r="2.9" fill="#c4b79c"/>
<circle cx="1441.6" cy="208.2" r="2.9" fill="#c4b79c"/>
<polygon points="1446.6,325.3 1440.1,313.5 1452.1,313.0" fill="#c4b79c"/>
<polyline points="1422.0,419.4 1442.3,428.7 1438.1,288.2 1427.3,422.0" fill="none" stroke="#c4b79c" stroke-width="1.9" stroke-linejoin="round"/>
<circle cx="1422.0" cy="419.4" r="2.9" fill="#c4b79c"/>
<circle cx="1442.3" cy="428.7" r="2.9" fill="#c4b79c"/>
<circle cx="1438.1" cy="288.2" r="2.9" fill="#c4b79c"/>
<circle cx="1427.3" cy="422.0" r="2.9" fill="#c4b79c"/>
<polyline points="1421.1,607.1 1429.6,652.0 1477.1,642.5" fill="none" stroke="#ec1f26" stroke-width="1.9" stroke-linejoin="round"/>
<circle cx="1421.1" cy="607.1" r="2.9" fill="#ec1f26"/>
<circle cx="1429.6" cy="652.0" r="2.9" fill="#ec1f26"/>
<polygon points="1477.1,642.5 1466.5,650.8 1464.2,639.0" fill="#ec1f26"/>
<polyline points="1422.4,659.0 1441.7,665.3 1535.7,633.7 1549.9,625.1" fill="none" stroke="#ec1f26" stroke-width="1.9" stroke-linejoin="round"/>
<circle cx="1422.4" cy="659.0" r="2.9" fill="#ec1f26"/>
<circle cx="1441.7" cy="665.3" r="2.9" fill="#ec1f26"/>
<circle cx="1535.7" cy="633.7" r="2.9" fill="#ec1f26"/>
<circle cx="1549.9" cy="625.1" r="2.9" fill="#ec1f26"/>
<polyline points="1422.4,659.0 1506.2,649.5 1598.1,671.0" fill="none" stroke="#ec1f26" stroke-width="1.9" stroke-linejoin="round"/>
<circle cx="1422.4" cy="659.0" r="2.9" fill="#ec1f26"/>
<circle cx="1506.2" cy="649.5" r="2.9" fill="#ec1f26"/>
<polygon points="1598.1,671.0 1585.0,674.1 1587.7,662.4" fill="#ec1f26"/>
<polyline points="1506.2,649.5 1521.4,655.2 1549.9,625.1" fill="none" stroke="#ec1f26" stroke-width="1.9" stroke-linejoin="round"/>
<circle cx="1506.2" cy="649.5" r="2.9" fill="#ec1f26"/>
<circle cx="1521.4" cy="655.2" r="2.9" fill="#ec1f26"/>
<circle cx="1549.9" cy="625.1" r="2.9" fill="#ec1f26"/>
<polyline points="1472.4,659.0 1505.6,819.8" fill="none" stroke="#ec1f26" stroke-width="1.9" stroke-linejoin="round"/>
<circle cx="1472.4" cy="659.0" r="2.9" fill="#ec1f26"/>
<polygon points="1505.6,819.8 1497.3,809.3 1509.1,806.8" fill="#ec1f26"/>
<polyline points="1472.4,659.0 1538.9,702.7" fill="none" stroke="#ec1f26" stroke-width="1.9" stroke-linejoin="round"/>
<circle cx="1472.4" cy="659.0" r="2.9" fill="#ec1f26"/>
<circle cx="1538.9" cy="702.7" r="2.9" fill="#ec1f26"/>
<polyline points="1480.3,708.4 1584.8,685.3" fill="none" stroke="#ec1f26" stroke-width="1.9" stroke-linejoin="round"/>
<circle cx="1480.3" cy="708.4" r="2.9" fill="#ec1f26"/>
<polygon points="1584.8,685.3 1574.3,693.7 1571.7,682.0" fill="#ec1f26"/>
<polyline points="1480.3,708.4 1573.7,706.8" fill="none" stroke="#ec1f26" stroke-width="1.9" stroke-linejoin="round"/>
<circle cx="1480.3" cy="708.4" r="2.9" fill="#ec1f26"/>
<circle cx="1573.7" cy="706.8" r="2.9" fill="#ec1f26"/>
<polyline points="1497.7,703.6 1640.2,716.3 1700.9,745.4 1591.1,732.7" fill="none" stroke="#ec1f26" stroke-width="1.9" stroke-linejoin="round"/>
<circle cx="1497.7" cy="703.6" r="2.9" fill="#ec1f26"/>
<circle cx="1640.2" cy="716.3" r="2.9" fill="#ec1f26"/>
<circle cx="1700.9" cy="745.4" r="2.9" fill="#ec1f26"/>
<polygon points="1591.1,732.7 1603.7,728.2 1602.3,740.1" fill="#ec1f26"/>
<polyline points="1516.1,709.6 1549.9,792.3 1517.3,788.1 1517.3,754.9" fill="none" stroke="#ec1f26" stroke-width="1.9" stroke-linejoin="round"/>
<circle cx="1516.1" cy="709.6" r="2.9" fill="#ec1f26"/>
<circle cx="1549.9" cy="792.3" r="2.9" fill="#ec1f26"/>
<circle cx="1517.3" cy="788.1" r="2.9" fill="#ec1f26"/>
<circle cx="1517.3" cy="754.9" r="2.9" fill="#ec1f26"/>
<polyline points="1526.8,705.8 1527.8,750.2 1541.1,786.6" fill="none" stroke="#ec1f26" stroke-width="1.9" stroke-linejoin="round"/>
<circle cx="1526.8" cy="705.8" r="2.9" fill="#ec1f26"/>
<circle cx="1527.8" cy="750.2" r="2.9" fill="#ec1f26"/>
<polygon points="1541.1,786.6 1531.3,777.3 1542.6,773.2" fill="#ec1f26"/>
<polyline points="1541.4,712.2 1537.3,759.6 1562.6,760.6" fill="none" stroke="#ec1f26" stroke-width="1.9" stroke-linejoin="round"/>
<circle cx="1541.4" cy="712.2" r="2.9" fill="#ec1f26"/>
<circle cx="1537.3" cy="759.6" r="2.9" fill="#ec1f26"/>
<circle cx="1562.6" cy="760.6" r="2.9" fill="#ec1f26"/>
<polyline points="1443.9,723.2 1472.4,757.4" fill="none" stroke="#ec1f26" stroke-width="1.9" stroke-linejoin="round"/>
<circle cx="1443.9" cy="723.2" r="2.9" fill="#ec1f26"/>
<polygon points="1472.4,757.4 1460.1,752.1 1469.3,744.4" fill="#ec1f26"/>
<polyline points="1456.5,718.5 1461.3,724.8" fill="none" stroke="#ec1f26" stroke-width="1.9" stroke-linejoin="round"/>
<circle cx="1456.5" cy="718.5" r="2.9" fill="#ec1f26"/>
<circle cx="1461.3" cy="724.8" r="2.9" fill="#ec1f26"/>
<polyline points="1451.8,751.7 1505.6,746.4 1574.3,797.6 1629.1,785.0" fill="none" stroke="#ec1f26" stroke-width="1.9" stroke-linejoin="round"/>
<circle cx="1451.8" cy="751.7" r="2.9" fill="#ec1f26"/>
<circle cx="1505.6" cy="746.4" r="2.9" fill="#ec1f26"/>
<circle cx="1574.3" cy="797.6" r="2.9" fill="#ec1f26"/>
<polygon points="1629.1,785.0 1618.7,793.5 1616.0,781.8" fill="#ec1f26"/>
<polyline points="1485.0,741.6 1500.9,745.4 1616.4,796.1 1724.0,815.0 1807.9,739.7" fill="none" stroke="#ec1f26" stroke-width="1.9" stroke-linejoin="round"/>
<circle cx="1485.0" cy="741.6" r="2.9" fill="#ec1f26"/>
<circle cx="1500.9" cy="745.4" r="2.9" fill="#ec1f26"/>
<circle cx="1616.4" cy="796.1" r="2.9" fill="#ec1f26"/>
<circle cx="1724.0" cy="815.0" r="2.9" fill="#ec1f26"/>
<circle cx="1807.9" cy="739.7" r="2.9" fill="#ec1f26"/>
<polyline points="1421.1,792.3 1494.5,754.3 1443.9,778.0 1452.8,762.2" fill="none" stroke="#ec1f26" stroke-width="1.9" stroke-linejoin="round"/>
<circle cx="1421.1" cy="792.3" r="2.9" fill="#ec1f26"/>
<circle cx="1494.5" cy="754.3" r="2.9" fill="#ec1f26"/>
<circle cx="1443.9" cy="778.0" r="2.9" fill="#ec1f26"/>
<polygon points="1452.8,762.2 1452.1,775.6 1441.7,769.7" fill="#ec1f26"/>
<polyline points="1486.6,775.5 1467.6,772.3" fill="none" stroke="#ec1f26" stroke-width="1.9" stroke-linejoin="round"/>
<circle cx="1486.6" cy="775.5" r="2.9" fill="#ec1f26"/>
<circle cx="1467.6" cy="772.3" r="2.9" fill="#ec1f26"/>
<polyline points="1485.0,788.8 1505.6,815.0" fill="none" stroke="#ec1f26" stroke-width="1.9" stroke-linejoin="round"/>
<circle cx="1485.0" cy="788.8" r="2.9" fill="#ec1f26"/>
<polygon points="1505.6,815.0 1493.5,809.3 1502.9,801.9" fill="#ec1f26"/>
<polyline points="1474.0,807.1 1524.6,856.2" fill="none" stroke="#ec1f26" stroke-width="1.9" stroke-linejoin="round"/>
<circle cx="1474.0" cy="807.1" r="2.9" fill="#ec1f26"/>
<circle cx="1524.6" cy="856.2" r="2.9" fill="#ec1f26"/>
<polyline points="1435.0,826.1 1519.9,800.2 1549.9,792.3" fill="none" stroke="#ec1f26" stroke-width="1.9" stroke-linejoin="round"/>
<circle cx="1435.0" cy="826.1" r="2.9" fill="#ec1f26"/>
<circle cx="1519.9" cy="800.2" r="2.9" fill="#ec1f26"/>
<polygon points="1549.9,792.3 1539.9,801.1 1536.8,789.5" fill="#ec1f26"/>
<polyline points="1452.8,825.2 1521.4,825.2" fill="none" stroke="#ec1f26" stroke-width="1.9" stroke-linejoin="round"/>
<circle cx="1452.8" cy="825.2" r="2.9" fill="#ec1f26"/>
<circle cx="1521.4" cy="825.2" r="2.9" fill="#ec1f26"/>
<polyline points="1446.1,842.0 1456.5,839.7" fill="none" stroke="#ec1f26" stroke-width="1.9" stroke-linejoin="round"/>
<circle cx="1446.1" cy="842.0" r="2.9" fill="#ec1f26"/>
<polygon points="1456.5,839.7 1446.1,848.1 1443.6,836.4" fill="#ec1f26"/>
<polyline points="1470.8,836.3 1471.7,880.9" fill="none" stroke="#ec1f26" stroke-width="1.9" stroke-linejoin="round"/>
<circle cx="1470.8" cy="836.3" r="2.9" fill="#ec1f26"/>
<circle cx="1471.7" cy="880.9" r="2.9" fill="#ec1f26"/>
<polyline points="1467.6,823.6 1447.1,908.4" fill="none" stroke="#ec1f26" stroke-width="1.9" stroke-linejoin="round"/>
<circle cx="1467.6" cy="823.6" r="2.9" fill="#ec1f26"/>
<polygon points="1447.1,908.4 1444.1,895.4 1455.7,898.2" fill="#ec1f26"/>
<polyline points="1553.7,815.0 1549.9,841.3 1569.6,854.6" fill="none" stroke="#ec1f26" stroke-width="1.9" stroke-linejoin="round"/>
<circle cx="1553.7" cy="815.0" r="2.9" fill="#ec1f26"/>
<circle cx="1549.9" cy="841.3" r="2.9" fill="#ec1f26"/>
<circle cx="1569.6" cy="854.6" r="2.9" fill="#ec1f26"/>
<polyline points="1557.8,833.4 1562.6,838.8" fill="none" stroke="#ec1f26" stroke-width="1.9" stroke-linejoin="round"/>
<circle cx="1557.8" cy="833.4" r="2.9" fill="#ec1f26"/>
<polygon points="1562.6,838.8 1550.2,833.8 1559.2,825.8" fill="#ec1f26"/>
<polyline points="1597.4,812.8 1654.4,908.4" fill="none" stroke="#ec1f26" stroke-width="1.9" stroke-linejoin="round"/>
<circle cx="1597.4" cy="812.8" r="2.9" fill="#ec1f26"/>
<circle cx="1654.4" cy="908.4" r="2.9" fill="#ec1f26"/>
<polyline points="1708.2,847.7 1782.6,879.9" fill="none" stroke="#ec1f26" stroke-width="1.9" stroke-linejoin="round"/>
<circle cx="1708.2" cy="847.7" r="2.9" fill="#ec1f26"/>
<polygon points="1782.6,879.9 1769.2,880.7 1774.0,869.7" fill="#ec1f26"/>
<polyline points="1632.2,802.4 1743.0,842.9" fill="none" stroke="#ec1f26" stroke-width="1.9" stroke-linejoin="round"/>
<circle cx="1632.2" cy="802.4" r="2.9" fill="#ec1f26"/>
<circle cx="1743.0" cy="842.9" r="2.9" fill="#ec1f26"/>
<polyline points="1679.7,773.9 1706.6,815.0" fill="none" stroke="#ec1f26" stroke-width="1.9" stroke-linejoin="round"/>
<circle cx="1679.7" cy="773.9" r="2.9" fill="#ec1f26"/>
<polygon points="1706.6,815.0 1695.0,808.3 1705.1,801.7" fill="#ec1f26"/>
<polyline points="1689.2,777.1 1663.9,805.5" fill="none" stroke="#ec1f26" stroke-width="1.9" stroke-linejoin="round"/>
<circle cx="1689.2" cy="777.1" r="2.9" fill="#ec1f26"/>
<circle cx="1663.9" cy="805.5" r="2.9" fill="#ec1f26"/>
<polyline points="1720.9,792.9 1663.9,810.3" fill="none" stroke="#ec1f26" stroke-width="1.9" stroke-linejoin="round"/>
<circle cx="1720.9" cy="792.9" r="2.9" fill="#ec1f26"/>
<polygon points="1663.9,810.3 1673.6,801.1 1677.1,812.5" fill="#ec1f26"/>
<polyline points="1833.3,890.4 1651.2,900.5" fill="none" stroke="#ec1f26" stroke-width="1.9" stroke-linejoin="round"/>
<circle cx="1833.3" cy="890.4" r="2.9" fill="#ec1f26"/>
<circle cx="1651.2" cy="900.5" r="2.9" fill="#ec1f26"/>
<polyline points="1581.6,849.9 1542.0,908.4" fill="none" stroke="#ec1f26" stroke-width="1.9" stroke-linejoin="round"/>
<circle cx="1581.6" cy="849.9" r="2.9" fill="#ec1f26"/>
<polygon points="1542.0,908.4 1543.8,895.1 1553.7,901.8" fill="#ec1f26"/>
<polyline points="1520.5,865.7 1700.3,891.0" fill="none" stroke="#ec1f26" stroke-width="1.9" stroke-linejoin="round"/>
<circle cx="1520.5" cy="865.7" r="2.9" fill="#ec1f26"/>
<circle cx="1700.3" cy="891.0" r="2.9" fill="#ec1f26"/>
<polyline points="1421.1,827.7 1421.1,908.4" fill="none" stroke="#ec1f26" stroke-width="1.9" stroke-linejoin="round"/>
<circle cx="1421.1" cy="827.7" r="2.9" fill="#ec1f26"/>
<polygon points="1421.1,908.4 1415.1,896.4 1427.1,896.4" fill="#ec1f26"/>
<polyline points="1570.5,864.1 1556.3,900.5" fill="none" stroke="#ec1f26" stroke-width="1.9" stroke-linejoin="round"/>
<circle cx="1570.5" cy="864.1" r="2.9" fill="#ec1f26"/>
<circle cx="1556.3" cy="900.5" r="2.9" fill="#ec1f26"/>
<polyline points="1542.0,893.2 1592.7,898.0" fill="none" stroke="#ec1f26" stroke-width="1.9" stroke-linejoin="round"/>
<circle cx="1542.0" cy="893.2" r="2.9" fill="#ec1f26"/>
<polygon points="1592.7,898.0 1580.2,902.8 1581.3,890.9" fill="#ec1f26"/>
<polyline points="1472.4,880.9 1511.9,873.6" fill="none" stroke="#ec1f26" stroke-width="1.9" stroke-linejoin="round"/>
<circle cx="1472.4" cy="880.9" r="2.9" fill="#ec1f26"/>
<circle cx="1511.9" cy="873.6" r="2.9" fill="#ec1f26"/>
<polyline points="1421.1,881.5 1467.6,891.0" fill="none" stroke="#ec1f26" stroke-width="1.9" stroke-linejoin="round"/>
<circle cx="1421.1" cy="881.5" r="2.9" fill="#ec1f26"/>
<polygon points="1467.6,891.0 1454.7,894.5 1457.1,882.7" fill="#ec1f26"/>
<polyline points="1626.9,849.9 1603.7,853.7 1594.3,865.7" fill="none" stroke="#ec1f26" stroke-width="1.9" stroke-linejoin="round"/>
<circle cx="1626.9" cy="849.9" r="2.9" fill="#ec1f26"/>
<circle cx="1603.7" cy="853.7" r="2.9" fill="#ec1f26"/>
<circle cx="1594.3" cy="865.7" r="2.9" fill="#ec1f26"/>
<polyline points="1594.3,865.7 1640.2,889.4 1662.3,879.9" fill="none" stroke="#ec1f26" stroke-width="1.9" stroke-linejoin="round"/>
<circle cx="1594.3" cy="865.7" r="2.9" fill="#ec1f26"/>
<circle cx="1640.2" cy="889.4" r="2.9" fill="#ec1f26"/>
<polygon points="1662.3,879.9 1653.6,890.2 1648.9,879.2" fill="#ec1f26"/>
<polyline points="1671.8,894.2 1714.5,886.9" fill="none" stroke="#ec1f26" stroke-width="1.9" stroke-linejoin="round"/>
<circle cx="1671.8" cy="894.2" r="2.9" fill="#ec1f26"/>
<circle cx="1714.5" cy="886.9" r="2.9" fill="#ec1f26"/>
<polyline points="1641.7,813.5 1679.7,807.1 1703.5,795.4" fill="none" stroke="#ec1f26" stroke-width="1.9" stroke-linejoin="round"/>
<circle cx="1641.7" cy="813.5" r="2.9" fill="#ec1f26"/>
<circle cx="1679.7" cy="807.1" r="2.9" fill="#ec1f26"/>
<polygon points="1703.5,795.4 1695.4,806.1 1690.0,795.3" fill="#ec1f26"/>
<polyline points="1421.1,910.6 1807.9,910.6" fill="none" stroke="#ec1f26" stroke-width="1.9" stroke-linejoin="round"/>
<circle cx="1421.1" cy="910.6" r="2.9" fill="#ec1f26"/>
<circle cx="1807.9" cy="910.6" r="2.9" fill="#ec1f26"/>
<polyline points="1739.9,910.6 1784.2,903.7" fill="none" stroke="#ec1f26" stroke-width="1.9" stroke-linejoin="round"/>
<circle cx="1739.9" cy="910.6" r="2.9" fill="#ec1f26"/>
<polygon points="1784.2,903.7 1773.3,911.5 1771.4,899.6" fill="#ec1f26"/>
<polyline points="1549.9,910.6 1644.9,900.5 1708.2,910.6" fill="none" stroke="#ec1f26" stroke-width="1.9" stroke-linejoin="round"/>
<circle cx="1549.9" cy="910.6" r="2.9" fill="#ec1f26"/>
<circle cx="1644.9" cy="900.5" r="2.9" fill="#ec1f26"/>
<circle cx="1708.2" cy="910.6" r="2.9" fill="#ec1f26"/>
<polyline points="1421.1,910.6 1412.2,916.3" fill="none" stroke="#ec1f26" stroke-width="1.9" stroke-linejoin="round"/>
<circle cx="1421.1" cy="910.6" r="2.9" fill="#ec1f26"/>
<polygon points="1412.2,916.3 1419.1,904.8 1425.6,914.9" fill="#ec1f26"/>
<polyline points="1444.1,895.7 1433.9,910.6" fill="none" stroke="#ec1f26" stroke-width="1.9" stroke-linejoin="round"/>
<circle cx="1444.1" cy="895.7" r="2.9" fill="#ec1f26"/>
<circle cx="1433.9" cy="910.6" r="2.9" fill="#ec1f26"/>
<polyline points="1424.0,896.9 1445.2,887.0" fill="none" stroke="#ec1f26" stroke-width="1.9" stroke-linejoin="round"/>
<circle cx="1424.0" cy="896.9" r="2.9" fill="#ec1f26"/>
<polygon points="1445.2,887.0 1436.8,897.5 1431.8,886.6" fill="#ec1f26"/>
<polyline points="1436.4,881.0 1451.7,910.6" fill="none" stroke="#ec1f26" stroke-width="1.9" stroke-linejoin="round"/>
<circle cx="1436.4" cy="881.0" r="2.9" fill="#ec1f26"/>
<circle cx="1451.7" cy="910.6" r="2.9" fill="#ec1f26"/>
<polyline points="1441.5,894.5 1454.0,910.6" fill="none" stroke="#ec1f26" stroke-width="1.9" stroke-linejoin="round"/>
<circle cx="1441.5" cy="894.5" r="2.9" fill="#ec1f26"/>
<polygon points="1454.0,910.6 1441.9,904.8 1451.4,897.5" fill="#ec1f26"/>
<polyline points="1476.4,876.1 1437.1,895.5" fill="none" stroke="#ec1f26" stroke-width="1.9" stroke-linejoin="round"/>
<circle cx="1476.4" cy="876.1" r="2.9" fill="#ec1f26"/>
<circle cx="1437.1" cy="895.5" r="2.9" fill="#ec1f26"/>
<polyline points="1476.3,884.6 1467.5,890.8" fill="none" stroke="#ec1f26" stroke-width="1.9" stroke-linejoin="round"/>
<circle cx="1476.3" cy="884.6" r="2.9" fill="#ec1f26"/>
<polygon points="1467.5,890.8 1473.9,879.0 1480.8,888.8" fill="#ec1f26"/>
<polyline points="1424.4,900.8 1461.6,910.6" fill="none" stroke="#ec1f26" stroke-width="1.9" stroke-linejoin="round"/>
<circle cx="1424.4" cy="900.8" r="2.9" fill="#ec1f26"/>
<circle cx="1461.6" cy="910.6" r="2.9" fill="#ec1f26"/>
<polyline points="1468.8,908.8 1439.9,910.6" fill="none" stroke="#ec1f26" stroke-width="1.9" stroke-linejoin="round"/>
<circle cx="1468.8" cy="908.8" r="2.9" fill="#ec1f26"/>
<polygon points="1439.9,910.6 1451.5,903.9 1452.3,915.9" fill="#ec1f26"/>
<polyline points="1436.8,903.7 1445.4,910.6" fill="none" stroke="#ec1f26" stroke-width="1.9" stroke-linejoin="round"/>
<circle cx="1436.8" cy="903.7" r="2.9" fill="#ec1f26"/>
<circle cx="1445.4" cy="910.6" r="2.9" fill="#ec1f26"/>
<polyline points="1472.2,909.2 1437.8,910.6" fill="none" stroke="#ec1f26" stroke-width="1.9" stroke-linejoin="round"/>
<circle cx="1472.2" cy="909.2" r="2.9" fill="#ec1f26"/>
<polygon points="1437.8,910.6 1449.5,904.2 1450.0,916.1" fill="#ec1f26"/>
<polyline points="1440.1,896.1 1426.7,889.0" fill="none" stroke="#ec1f26" stroke-width="1.9" stroke-linejoin="round"/>
<circle cx="1440.1" cy="896.1" r="2.9" fill="#ec1f26"/>
<circle cx="1426.7" cy="889.0" r="2.9" fill="#ec1f26"/>
<polyline points="1492.6,882.4 1435.9,910.6" fill="none" stroke="#ec1f26" stroke-width="1.9" stroke-linejoin="round"/>
<circle cx="1492.6" cy="882.4" r="2.9" fill="#ec1f26"/>
<polygon points="1435.9,910.6 1443.9,899.9 1449.3,910.7" fill="#ec1f26"/>
<polyline points="1438.4,892.0 1422.8,910.6" fill="none" stroke="#ec1f26" stroke-width="1.9" stroke-linejoin="round"/>
<circle cx="1438.4" cy="892.0" r="2.9" fill="#ec1f26"/>
<circle cx="1422.8" cy="910.6" r="2.9" fill="#ec1f26"/>
<polyline points="1440.6,892.8 1423.7,905.5" fill="none" stroke="#ec1f26" stroke-width="1.9" stroke-linejoin="round"/>
<circle cx="1440.6" cy="892.8" r="2.9" fill="#ec1f26"/>
<polygon points="1423.7,905.5 1429.7,893.5 1436.9,903.1" fill="#ec1f26"/>
<polyline points="1453.1,894.9 1433.1,892.3" fill="none" stroke="#ec1f26" stroke-width="1.9" stroke-linejoin="round"/>
<circle cx="1453.1" cy="894.9" r="2.9" fill="#ec1f26"/>
<circle cx="1433.1" cy="892.3" r="2.9" fill="#ec1f26"/>
<polyline points="1468.4,904.5 1432.2,901.2" fill="none" stroke="#ec1f26" stroke-width="1.9" stroke-linejoin="round"/>
<circle cx="1468.4" cy="904.5" r="2.9" fill="#ec1f26"/>
<polygon points="1432.2,901.2 1444.7,896.3 1443.7,908.3" fill="#ec1f26"/>
<polyline points="1436.2,894.1 1463.6,910.6" fill="none" stroke="#ec1f26" stroke-width="1.9" stroke-linejoin="round"/>
<circle cx="1436.2" cy="894.1" r="2.9" fill="#ec1f26"/>
<circle cx="1463.6" cy="910.6" r="2.9" fill="#ec1f26"/>
<polyline points="1490.4,887.4 1438.9,910.6" fill="none" stroke="#ec1f26" stroke-width="1.9" stroke-linejoin="round"/>
<circle cx="1490.4" cy="887.4" r="2.9" fill="#ec1f26"/>
<polygon points="1438.9,910.6 1447.4,900.2 1452.3,911.2" fill="#ec1f26"/>
<polyline points="1434.3,871.6 1421.7,910.6" fill="none" stroke="#ec1f26" stroke-width="1.9" stroke-linejoin="round"/>
<circle cx="1434.3" cy="871.6" r="2.9" fill="#ec1f26"/>
<circle cx="1421.7" cy="910.6" r="2.9" fill="#ec1f26"/>
<polyline points="1488.4,878.7 1423.8,894.8" fill="none" stroke="#ec1f26" stroke-width="1.9" stroke-linejoin="round"/>
<circle cx="1488.4" cy="878.7" r="2.9" fill="#ec1f26"/>
<polygon points="1423.8,894.8 1434.0,886.1 1436.9,897.7" fill="#ec1f26"/>
<polyline points="1433.8,907.1 1445.0,895.6" fill="none" stroke="#ec1f26" stroke-width="1.9" stroke-linejoin="round"/>
<circle cx="1433.8" cy="907.1" r="2.9" fill="#ec1f26"/>
<circle cx="1445.0" cy="895.6" r="2.9" fill="#ec1f26"/>
<polyline points="1451.9,869.3 1466.4,885.0" fill="none" stroke="#ec1f26" stroke-width="1.9" stroke-linejoin="round"/>
<circle cx="1451.9" cy="869.3" r="2.9" fill="#ec1f26"/>
<polygon points="1466.4,885.0 1453.8,880.2 1462.7,872.1" fill="#ec1f26"/>
<polyline points="1516.2,908.5 1434.6,894.5" fill="none" stroke="#ec1f26" stroke-width="1.9" stroke-linejoin="round"/>
<circle cx="1516.2" cy="908.5" r="2.9" fill="#ec1f26"/>
<circle cx="1434.6" cy="894.5" r="2.9" fill="#ec1f26"/>
<polyline points="1443.5,872.4 1431.7,900.4" fill="none" stroke="#ec1f26" stroke-width="1.9" stroke-linejoin="round"/>
<circle cx="1443.5" cy="872.4" r="2.9" fill="#ec1f26"/>
<polygon points="1431.7,900.4 1430.8,887.1 1441.9,891.7" fill="#ec1f26"/>
<polyline points="1474.8,875.3 1460.2,910.6" fill="none" stroke="#ec1f26" stroke-width="1.9" stroke-linejoin="round"/>
<circle cx="1474.8" cy="875.3" r="2.9" fill="#ec1f26"/>
<circle cx="1460.2" cy="910.6" r="2.9" fill="#ec1f26"/>
<polyline points="1441.2,871.8 1422.5,910.6" fill="none" stroke="#ec1f26" stroke-width="1.9" stroke-linejoin="round"/>
<circle cx="1441.2" cy="871.8" r="2.9" fill="#ec1f26"/>
<polygon points="1422.5,910.6 1422.3,897.2 1433.1,902.4" fill="#ec1f26"/>
<polyline points="1441.2,880.7 1427.0,910.6" fill="none" stroke="#ec1f26" stroke-width="1.9" stroke-linejoin="round"/>
<circle cx="1441.2" cy="880.7" r="2.9" fill="#ec1f26"/>
<circle cx="1427.0" cy="910.6" r="2.9" fill="#ec1f26"/>
<polyline points="1423.4,897.4 1428.9,910.6" fill="none" stroke="#ec1f26" stroke-width="1.9" stroke-linejoin="round"/>
<circle cx="1423.4" cy="897.4" r="2.9" fill="#ec1f26"/>
<polygon points="1428.9,910.6 1418.8,901.9 1429.9,897.3" fill="#ec1f26"/>
<polyline points="1429.2,895.0 1425.5,910.6" fill="none" stroke="#ec1f26" stroke-width="1.9" stroke-linejoin="round"/>
<circle cx="1429.2" cy="895.0" r="2.9" fill="#ec1f26"/>
<circle cx="1425.5" cy="910.6" r="2.9" fill="#ec1f26"/>
<polyline points="1460.7,873.7 1470.2,895.9" fill="none" stroke="#ec1f26" stroke-width="1.9" stroke-linejoin="round"/>
<circle cx="1460.7" cy="873.7" r="2.9" fill="#ec1f26"/>
<polygon points="1470.2,895.9 1459.9,887.3 1471.0,882.5" fill="#ec1f26"/>
<polyline points="1771.4,910.6 1794.9,910.6" fill="none" stroke="#ec1f26" stroke-width="1.9" stroke-linejoin="round"/>
<circle cx="1771.4" cy="910.6" r="2.9" fill="#ec1f26"/>
<circle cx="1794.9" cy="910.6" r="2.9" fill="#ec1f26"/>
<polyline points="1543.5,910.6 1631.3,910.6" fill="none" stroke="#ec1f26" stroke-width="1.9" stroke-linejoin="round"/>
<circle cx="1543.5" cy="910.6" r="2.9" fill="#ec1f26"/>
<polygon points="1631.3,910.6 1619.3,916.6 1619.3,904.6" fill="#ec1f26"/>
<polyline points="1474.6,910.6 1421.1,891.8" fill="none" stroke="#ec1f26" stroke-width="1.9" stroke-linejoin="round"/>
<circle cx="1474.6" cy="910.6" r="2.9" fill="#ec1f26"/>
<circle cx="1421.1" cy="891.8" r="2.9" fill="#ec1f26"/>
<polyline points="1755.3,910.6 1710.8,905.2" fill="none" stroke="#ec1f26" stroke-width="1.9" stroke-linejoin="round"/>
<circle cx="1755.3" cy="910.6" r="2.9" fill="#ec1f26"/>
<polygon points="1710.8,905.2 1723.4,900.7 1722.0,912.6" fill="#ec1f26"/>
<polyline points="1678.8,910.6 1779.8,910.6" fill="none" stroke="#ec1f26" stroke-width="1.9" stroke-linejoin="round"/>
<circle cx="1678.8" cy="910.6" r="2.9" fill="#ec1f26"/>
<circle cx="1779.8" cy="910.6" r="2.9" fill="#ec1f26"/>
<polyline points="1509.4,910.6 1421.1,899.2" fill="none" stroke="#ec1f26" stroke-width="1.9" stroke-linejoin="round"/>
<circle cx="1509.4" cy="910.6" r="2.9" fill="#ec1f26"/>
<polygon points="1421.1,899.2 1433.8,894.8 1432.2,906.7" fill="#ec1f26"/>
<polyline points="1560.4,909.9 1533.6,910.6" fill="none" stroke="#ec1f26" stroke-width="1.9" stroke-linejoin="round"/>
<circle cx="1560.4" cy="909.9" r="2.9" fill="#ec1f26"/>
<circle cx="1533.6" cy="910.6" r="2.9" fill="#ec1f26"/>
<polyline points="1689.6,898.9 1718.5,910.2" fill="none" stroke="#ec1f26" stroke-width="1.9" stroke-linejoin="round"/>
<circle cx="1689.6" cy="898.9" r="2.9" fill="#ec1f26"/>
<polygon points="1718.5,910.2 1705.1,911.4 1709.5,900.2" fill="#ec1f26"/>
<polyline points="1576.5,910.6 1539.9,890.7" fill="none" stroke="#ec1f26" stroke-width="1.9" stroke-linejoin="round"/>
<circle cx="1576.5" cy="910.6" r="2.9" fill="#ec1f26"/>
<circle cx="1539.9" cy="890.7" r="2.9" fill="#ec1f26"/>
<polyline points="1555.8,910.6 1506.6,910.6" fill="none" stroke="#ec1f26" stroke-width="1.9" stroke-linejoin="round"/>
<circle cx="1555.8" cy="910.6" r="2.9" fill="#ec1f26"/>
<polygon points="1506.6,910.6 1518.6,904.6 1518.6,916.6" fill="#ec1f26"/>
<polyline points="1743.4,910.6 1674.9,910.6" fill="none" stroke="#ec1f26" stroke-width="1.9" stroke-linejoin="round"/>
<circle cx="1743.4" cy="910.6" r="2.9" fill="#ec1f26"/>
<circle cx="1674.9" cy="910.6" r="2.9" fill="#ec1f26"/>
<polyline points="1773.1,910.6 1832.7,910.6" fill="none" stroke="#ec1f26" stroke-width="1.9" stroke-linejoin="round"/>
<circle cx="1773.1" cy="910.6" r="2.9" fill="#ec1f26"/>
<polygon points="1832.7,910.6 1820.7,916.6 1820.7,904.6" fill="#ec1f26"/>
<polyline points="1795.7,910.6 1708.1,910.6" fill="none" stroke="#ec1f26" stroke-width="1.9" stroke-linejoin="round"/>
<circle cx="1795.7" cy="910.6" r="2.9" fill="#ec1f26"/>
<circle cx="1708.1" cy="910.6" r="2.9" fill="#ec1f26"/>
<polyline points="1555.9,910.6 1538.7,906.1" fill="none" stroke="#ec1f26" stroke-width="1.9" stroke-linejoin="round"/>
<circle cx="1555.9" cy="910.6" r="2.9" fill="#ec1f26"/>
<polygon points="1538.7,906.1 1551.8,903.4 1548.7,915.0" fill="#ec1f26"/>
<polyline points="1729.1,887.6 1704.3,906.1" fill="none" stroke="#ec1f26" stroke-width="1.9" stroke-linejoin="round"/>
<circle cx="1729.1" cy="887.6" r="2.9" fill="#ec1f26"/>
<circle cx="1704.3" cy="906.1" r="2.9" fill="#ec1f26"/>
<polyline points="1610.8,910.6 1678.8,910.6" fill="none" stroke="#ec1f26" stroke-width="1.9" stroke-linejoin="round"/>
<circle cx="1610.8" cy="910.6" r="2.9" fill="#ec1f26"/>
<polygon points="1678.8,910.6 1666.8,916.6 1666.8,904.6" fill="#ec1f26"/>
<polyline points="1513.6,890.8 1441.9,897.4" fill="none" stroke="#ec1f26" stroke-width="1.9" stroke-linejoin="round"/>
<circle cx="1513.6" cy="890.8" r="2.9" fill="#ec1f26"/>
<circle cx="1441.9" cy="897.4" r="2.9" fill="#ec1f26"/>
<polyline points="1519.6,885.4 1534.5,910.6" fill="none" stroke="#ec1f26" stroke-width="1.9" stroke-linejoin="round"/>
<circle cx="1519.6" cy="885.4" r="2.9" fill="#ec1f26"/>
<polygon points="1534.5,910.6 1523.2,903.4 1533.6,897.3" fill="#ec1f26"/>
<polyline points="1469.2,910.6 1479.0,910.6" fill="none" stroke="#ec1f26" stroke-width="1.9" stroke-linejoin="round"/>
<circle cx="1469.2" cy="910.6" r="2.9" fill="#ec1f26"/>
<circle cx="1479.0" cy="910.6" r="2.9" fill="#ec1f26"/>
<polyline points="1578.0,910.6 1552.2,901.0" fill="none" stroke="#ec1f26" stroke-width="1.9" stroke-linejoin="round"/>
<circle cx="1578.0" cy="910.6" r="2.9" fill="#ec1f26"/>
<polygon points="1552.2,901.0 1565.6,899.6 1561.4,910.8" fill="#ec1f26"/>
<polyline points="1786.6,910.6 1791.1,910.6" fill="none" stroke="#ec1f26" stroke-width="1.9" stroke-linejoin="round"/>
<circle cx="1786.6" cy="910.6" r="2.9" fill="#ec1f26"/>
<circle cx="1791.1" cy="910.6" r="2.9" fill="#ec1f26"/>
<polyline points="1619.4,906.9 1528.3,904.8" fill="none" stroke="#ec1f26" stroke-width="1.9" stroke-linejoin="round"/>
<circle cx="1619.4" cy="906.9" r="2.9" fill="#ec1f26"/>
<polygon points="1528.3,904.8 1540.5,899.1 1540.2,911.1" fill="#ec1f26"/>
<polyline points="1456.4,910.6 1468.4,910.6" fill="none" stroke="#ec1f26" stroke-width="1.9" stroke-linejoin="round"/>
<circle cx="1456.4" cy="910.6" r="2.9" fill="#ec1f26"/>
<circle cx="1468.4" cy="910.6" r="2.9" fill="#ec1f26"/>
<polyline points="1598.9,910.6 1614.5,902.2" fill="none" stroke="#ec1f26" stroke-width="1.9" stroke-linejoin="round"/>
<circle cx="1598.9" cy="910.6" r="2.9" fill="#ec1f26"/>
<polygon points="1614.5,902.2 1606.8,913.2 1601.0,902.6" fill="#ec1f26"/>
<polyline points="1460.7,910.6 1427.3,910.6" fill="none" stroke="#ec1f26" stroke-width="1.9" stroke-linejoin="round"/>
<circle cx="1460.7" cy="910.6" r="2.9" fill="#ec1f26"/>
<circle cx="1427.3" cy="910.6" r="2.9" fill="#ec1f26"/>
<polyline points="1447.6,889.3 1504.5,910.6" fill="none" stroke="#ec1f26" stroke-width="1.9" stroke-linejoin="round"/>
<circle cx="1447.6" cy="889.3" r="2.9" fill="#ec1f26"/>
<polygon points="1504.5,910.6 1491.2,912.1 1495.4,900.8" fill="#ec1f26"/>
<polyline points="1578.9,910.6 1536.6,889.2" fill="none" stroke="#ec1f26" stroke-width="1.9" stroke-linejoin="round"/>
<circle cx="1578.9" cy="910.6" r="2.9" fill="#ec1f26"/>
<circle cx="1536.6" cy="889.2" r="2.9" fill="#ec1f26"/>
<polyline points="1461.9,910.6 1456.4,900.8" fill="none" stroke="#ec1f26" stroke-width="1.9" stroke-linejoin="round"/>
<circle cx="1461.9" cy="910.6" r="2.9" fill="#ec1f26"/>
<polygon points="1456.4,900.8 1467.5,908.3 1457.0,914.2" fill="#ec1f26"/>
<polyline points="1422.2,910.6 1542.1,898.7" fill="none" stroke="#ec1f26" stroke-width="1.9" stroke-linejoin="round"/>
<circle cx="1422.2" cy="910.6" r="2.9" fill="#ec1f26"/>
<circle cx="1542.1" cy="898.7" r="2.9" fill="#ec1f26"/>
<polyline points="1489.2,910.6 1479.5,910.6" fill="none" stroke="#ec1f26" stroke-width="1.9" stroke-linejoin="round"/>
<circle cx="1489.2" cy="910.6" r="2.9" fill="#ec1f26"/>
<polygon points="1479.5,910.6 1491.5,904.6 1491.5,916.6" fill="#ec1f26"/>
<polyline points="1667.9,910.6 1623.5,908.6" fill="none" stroke="#ec1f26" stroke-width="1.9" stroke-linejoin="round"/>
<circle cx="1667.9" cy="910.6" r="2.9" fill="#ec1f26"/>
<circle cx="1623.5" cy="908.6" r="2.9" fill="#ec1f26"/>
<polyline points="1743.1,910.6 1793.1,893.4" fill="none" stroke="#ec1f26" stroke-width="1.9" stroke-linejoin="round"/>
<circle cx="1743.1" cy="910.6" r="2.9" fill="#ec1f26"/>
<polygon points="1793.1,893.4 1783.7,902.9 1779.8,891.6" fill="#ec1f26"/>
<polyline points="1588.1,910.6 1519.6,899.4" fill="none" stroke="#ec1f26" stroke-width="1.9" stroke-linejoin="round"/>
<circle cx="1588.1" cy="910.6" r="2.9" fill="#ec1f26"/>
<circle cx="1519.6" cy="899.4" r="2.9" fill="#ec1f26"/>
<polyline points="1792.4,910.6 1811.4,888.9" fill="none" stroke="#ec1f26" stroke-width="1.9" stroke-linejoin="round"/>
<circle cx="1792.4" cy="910.6" r="2.9" fill="#ec1f26"/>
<polygon points="1811.4,888.9 1808.0,901.9 1799.0,894.0" fill="#ec1f26"/>
<polyline points="1636.1,907.6 1708.1,909.3" fill="none" stroke="#ec1f26" stroke-width="1.9" stroke-linejoin="round"/>
<circle cx="1636.1" cy="907.6" r="2.9" fill="#ec1f26"/>
<circle cx="1708.1" cy="909.3" r="2.9" fill="#ec1f26"/>
<polyline points="1432.6,910.6 1421.1,910.6" fill="none" stroke="#ec1f26" stroke-width="1.9" stroke-linejoin="round"/>
<circle cx="1432.6" cy="910.6" r="2.9" fill="#ec1f26"/>
<polygon points="1421.1,910.6 1433.1,904.6 1433.1,916.6" fill="#ec1f26"/>
<polyline points="1443.6,910.6 1421.1,910.6" fill="none" stroke="#ec1f26" stroke-width="1.9" stroke-linejoin="round"/>
<circle cx="1443.6" cy="910.6" r="2.9" fill="#ec1f26"/>
<circle cx="1421.1" cy="910.6" r="2.9" fill="#ec1f26"/>
<polyline points="1590.8,910.6 1509.8,910.6" fill="none" stroke="#ec1f26" stroke-width="1.9" stroke-linejoin="round"/>
<circle cx="1590.8" cy="910.6" r="2.9" fill="#ec1f26"/>
<polygon points="1509.8,910.6 1521.8,904.6 1521.8,916.6" fill="#ec1f26"/>
<polyline points="1497.5,910.6 1445.9,888.9" fill="none" stroke="#ec1f26" stroke-width="1.9" stroke-linejoin="round"/>
<circle cx="1497.5" cy="910.6" r="2.9" fill="#ec1f26"/>
<circle cx="1445.9" cy="888.9" r="2.9" fill="#ec1f26"/>
<polyline points="1556.8,910.6 1606.1,910.6" fill="none" stroke="#ec1f26" stroke-width="1.9" stroke-linejoin="round"/>
<circle cx="1556.8" cy="910.6" r="2.9" fill="#ec1f26"/>
<polygon points="1606.1,910.6 1594.1,916.6 1594.1,904.6" fill="#ec1f26"/>
<polyline points="1772.6,910.6 1643.7,907.3" fill="none" stroke="#ec1f26" stroke-width="1.9" stroke-linejoin="round"/>
<circle cx="1772.6" cy="910.6" r="2.9" fill="#ec1f26"/>
<circle cx="1643.7" cy="907.3" r="2.9" fill="#ec1f26"/>
<polyline points="1497.7,910.6 1421.1,898.3" fill="none" stroke="#ec1f26" stroke-width="1.9" stroke-linejoin="round"/>
<circle cx="1497.7" cy="910.6" r="2.9" fill="#ec1f26"/>
<polygon points="1421.1,898.3 1433.9,894.3 1432.0,906.1" fill="#ec1f26"/>
<polyline points="1449.9,910.6 1421.1,910.6" fill="none" stroke="#ec1f26" stroke-width="1.9" stroke-linejoin="round"/>
<circle cx="1449.9" cy="910.6" r="2.9" fill="#ec1f26"/>
<circle cx="1421.1" cy="910.6" r="2.9" fill="#ec1f26"/>
<polyline points="1440.4,910.6 1421.1,906.2" fill="none" stroke="#ec1f26" stroke-width="1.9" stroke-linejoin="round"/>
<circle cx="1440.4" cy="910.6" r="2.9" fill="#ec1f26"/>
<polygon points="1421.1,906.2 1434.1,903.1 1431.5,914.8" fill="#ec1f26"/>
<polyline points="1781.2,910.6 1684.4,897.1" fill="none" stroke="#ec1f26" stroke-width="1.9" stroke-linejoin="round"/>
<circle cx="1781.2" cy="910.6" r="2.9" fill="#ec1f26"/>
<circle cx="1684.4" cy="897.1" r="2.9" fill="#ec1f26"/>
<text x="0.0" y="1045.5" font-size="38" fill="#111111" font-weight="bold" text-anchor="start">b</text>
<defs><linearGradient id="gb" gradientUnits="userSpaceOnUse" x1="72.8" y1="1725.5" x2="736.6" y2="1062"><stop offset="0" stop-color="#9eafd5"/><stop offset="0.2" stop-color="#c3cce5"/><stop offset="0.42" stop-color="#f0f2f9"/><stop offset="0.5" stop-color="#ffffff"/><stop offset="0.6" stop-color="#fff4ef"/><stop offset="0.75" stop-color="#fcdacc"/><stop offset="0.9" stop-color="#f8bda6"/><stop offset="1" stop-color="#f29f82"/></linearGradient></defs>
<path d="M72.8,1062 L713.6,1062 Q736.6,1062 736.6,1085 L736.6,1725.5 L96,1725.5 Q72.8,1725.5 72.8,1702.5 Z" fill="url(#gb)"/>
<line x1="75.5" y1="1694.8" x2="87.5" y2="1694.8" stroke="#111111" stroke-width="3.2" stroke-linecap="round"/>
<line x1="103.5" y1="1712.0" x2="103.5" y2="1723.0" stroke="#111111" stroke-width="3.2" stroke-linecap="round"/>
<line x1="75.5" y1="1544.2" x2="87.5" y2="1544.2" stroke="#111111" stroke-width="3.2" stroke-linecap="round"/>
<line x1="254.2" y1="1712.0" x2="254.2" y2="1723.0" stroke="#111111" stroke-width="3.2" stroke-linecap="round"/>
<line x1="75.5" y1="1393.6" x2="87.5" y2="1393.6" stroke="#111111" stroke-width="3.2" stroke-linecap="round"/>
<line x1="405.0" y1="1712.0" x2="405.0" y2="1723.0" stroke="#111111" stroke-width="3.2" stroke-linecap="round"/>
<line x1="75.5" y1="1243.0" x2="87.5" y2="1243.0" stroke="#111111" stroke-width="3.2" stroke-linecap="round"/>
<line x1="555.8" y1="1712.0" x2="555.8" y2="1723.0" stroke="#111111" stroke-width="3.2" stroke-linecap="round"/>
<line x1="75.5" y1="1092.4" x2="87.5" y2="1092.4" stroke="#111111" stroke-width="3.2" stroke-linecap="round"/>
<line x1="706.5" y1="1712.0" x2="706.5" y2="1723.0" stroke="#111111" stroke-width="3.2" stroke-linecap="round"/>
<text x="61.5" y="1104.6" font-size="35" fill="#111111" text-anchor="end">1</text>
<text x="66.0" y="1706.4" font-size="35" fill="#111111" text-anchor="end">0</text>
<text x="103.5" y="1757.6" font-size="35" fill="#111111" text-anchor="middle">0</text>
<text x="706.3" y="1757.4" font-size="35" fill="#111111" text-anchor="middle">1</text>
<text x="401.4" y="1779.0" font-size="33" fill="#111111" font-weight="bold" text-anchor="middle" textLength="253.0" lengthAdjust="spacingAndGlyphs">Pattern 23 value</text>
<text x="34.0" y="1366.0" font-size="33" fill="#111111" font-weight="bold" text-anchor="middle" transform="rotate(-90 34.0 1366.0)" textLength="235.0" lengthAdjust="spacingAndGlyphs">Pattern 4 value</text>
<text x="86.4" y="1196.0" font-size="39" fill="#1b75bc" font-weight="bold" text-anchor="start" textLength="111.0" lengthAdjust="spacingAndGlyphs">Health</text>
<text x="721.8" y="1668.6" font-size="38" fill="#ec1f26" font-weight="bold" text-anchor="end" textLength="122.3" lengthAdjust="spacingAndGlyphs">Critical</text>
<text x="721.8" y="1702.7" font-size="38" fill="#ec1f26" font-weight="bold" text-anchor="end" textLength="104.0" lengthAdjust="spacingAndGlyphs">illness</text>
<rect x="561.9" y="1079.1" width="156.3" height="253.6" rx="18" fill="#ffffff"/>
<text x="705.7" y="1115.5" font-size="32" fill="#111111" text-anchor="end" textLength="108.5" lengthAdjust="spacingAndGlyphs">Survivor</text>
<text x="705.7" y="1145.8" font-size="32" fill="#111111" text-anchor="end" textLength="119.8" lengthAdjust="spacingAndGlyphs">trajectory</text>
<text x="705.7" y="1176.0" font-size="32" fill="#111111" text-anchor="end" textLength="130.0" lengthAdjust="spacingAndGlyphs">over time:</text>
<text x="705.7" y="1215.1" font-size="27" fill="#111111" font-weight="bold" text-anchor="end" textLength="96.6" lengthAdjust="spacingAndGlyphs">subject</text>
<text x="705.7" y="1249.7" font-size="31" fill="#f7941d" text-anchor="end" textLength="108.5" lengthAdjust="spacingAndGlyphs">S71095</text>
<text x="705.7" y="1285.6" font-size="31" fill="#a67c52" text-anchor="end" textLength="108.5" lengthAdjust="spacingAndGlyphs">S67615</text>
<text x="705.7" y="1322.0" font-size="31" fill="#0e9447" text-anchor="end" textLength="108.5" lengthAdjust="spacingAndGlyphs">S64373</text>
<polyline points="159.2,1669.7 159.2,1694.8 338.9,1694.8 337.0,1688.0 361.6,1644.7 151.2,1458.2 104.5,1391.5" fill="none" stroke="#f7941d" stroke-width="6.5" stroke-linejoin="miter" stroke-miterlimit="10"/>
<polyline points="120.5,1397.6 103.5,1390.0 104.8,1408.6" fill="none" stroke="#f7941d" stroke-width="6.5" stroke-linejoin="miter"/>
<polyline points="536.7,1609.5 579.9,1619.5 516.2,1631.3 385.7,1616.3 103.7,1326.6" fill="none" stroke="#a67c52" stroke-width="6.5" stroke-linejoin="miter" stroke-miterlimit="10"/>
<polyline points="136.4,1222.9 102.5,1329.0" fill="none" stroke="#a67c52" stroke-width="6.5" stroke-linejoin="miter" stroke-miterlimit="10"/>
<polyline points="97.3,1312.8 101.5,1331.0 115.6,1318.7" fill="none" stroke="#a67c52" stroke-width="6.5" stroke-linejoin="miter"/>
<polyline points="593.5,1557.2 591.3,1573.0 388.9,1551.2 120.5,1381.1 143.0,1295.0" fill="none" stroke="#0e9447" stroke-width="6.5" stroke-linejoin="miter" stroke-miterlimit="10"/>
<polyline points="148.7,1311.3 143.5,1293.4 130.2,1306.4" fill="none" stroke="#0e9447" stroke-width="6.5" stroke-linejoin="miter"/>
<text x="141.0" y="1658.0" font-size="31" fill="#f7941d" text-anchor="start">d0</text>
<text x="495.7" y="1620.0" font-size="31" fill="#a67c52" text-anchor="start">d0</text>
<text x="582.0" y="1545.8" font-size="31" fill="#0e9447" text-anchor="start">d0</text>
<text x="776.8" y="1045.0" font-size="39" fill="#111111" font-weight="bold" text-anchor="start">c</text>
<rect x="882.0" y="1115.50" width="28.7" height="22.99" fill="#0b6aa8"/>
<rect x="882.0" y="1138.19" width="28.7" height="83.31" fill="#62b9e8"/>
<rect x="882.0" y="1221.20" width="28.7" height="18.18" fill="#e8e0b8"/>
<rect x="882.0" y="1239.09" width="28.7" height="85.18" fill="#fcc636"/>
<rect x="882.0" y="1323.97" width="28.7" height="298.45" fill="#f38120"/>
<rect x="882.0" y="1622.12" width="28.7" height="48.88" fill="#d62c2a"/>
<rect x="913.7" y="1115.50" width="28.7" height="16.32" fill="#62b9e8"/>
<rect x="913.7" y="1131.52" width="28.7" height="13.91" fill="#e8e0b8"/>
<rect x="913.7" y="1145.13" width="28.7" height="82.78" fill="#fcc636"/>
<rect x="913.7" y="1227.61" width="28.7" height="400.68" fill="#f38120"/>
<rect x="913.7" y="1627.99" width="28.7" height="43.01" fill="#d62c2a"/>
<rect x="945.4" y="1115.50" width="28.7" height="0.83" fill="#62b9e8"/>
<rect x="945.4" y="1116.03" width="28.7" height="25.39" fill="#e8e0b8"/>
<rect x="945.4" y="1141.12" width="28.7" height="33.67" fill="#fcc636"/>
<rect x="945.4" y="1174.49" width="28.7" height="339.83" fill="#f38120"/>
<rect x="945.4" y="1514.02" width="28.7" height="156.98" fill="#d62c2a"/>
<rect x="977.0" y="1115.50" width="28.7" height="5.91" fill="#0b6aa8"/>
<rect x="977.0" y="1121.11" width="28.7" height="38.20" fill="#62b9e8"/>
<rect x="977.0" y="1159.01" width="28.7" height="43.01" fill="#e8e0b8"/>
<rect x="977.0" y="1201.72" width="28.7" height="55.02" fill="#fcc636"/>
<rect x="977.0" y="1256.44" width="28.7" height="209.83" fill="#f38120"/>
<rect x="977.0" y="1465.97" width="28.7" height="205.03" fill="#d62c2a"/>
<rect x="1008.7" y="1115.50" width="28.7" height="37.94" fill="#0b6aa8"/>
<rect x="1008.7" y="1153.14" width="28.7" height="44.08" fill="#62b9e8"/>
<rect x="1008.7" y="1196.91" width="28.7" height="14.18" fill="#e8e0b8"/>
<rect x="1008.7" y="1210.79" width="28.7" height="84.65" fill="#fcc636"/>
<rect x="1008.7" y="1295.14" width="28.7" height="183.14" fill="#f38120"/>
<rect x="1008.7" y="1477.98" width="28.7" height="193.02" fill="#d62c2a"/>
<rect x="1040.4" y="1115.50" width="28.7" height="154.05" fill="#0b6aa8"/>
<rect x="1040.4" y="1269.25" width="28.7" height="131.09" fill="#62b9e8"/>
<rect x="1040.4" y="1400.04" width="28.7" height="163.66" fill="#e8e0b8"/>
<rect x="1040.4" y="1563.40" width="28.7" height="38.47" fill="#fcc636"/>
<rect x="1040.4" y="1601.57" width="28.7" height="38.20" fill="#f38120"/>
<rect x="1040.4" y="1639.47" width="28.7" height="31.53" fill="#d62c2a"/>
<rect x="1072.1" y="1115.50" width="28.7" height="161.25" fill="#0b6aa8"/>
<rect x="1072.1" y="1276.45" width="28.7" height="236.53" fill="#62b9e8"/>
<rect x="1072.1" y="1512.68" width="28.7" height="157.25" fill="#e8e0b8"/>
<rect x="1072.1" y="1669.63" width="28.7" height="1.37" fill="#f38120"/>
<rect x="1135.1" y="1115.50" width="28.7" height="65.43" fill="#0b6aa8"/>
<rect x="1135.1" y="1180.63" width="28.7" height="38.74" fill="#62b9e8"/>
<rect x="1135.1" y="1219.07" width="28.7" height="1.90" fill="#fcc636"/>
<rect x="1135.1" y="1220.67" width="28.7" height="111.61" fill="#f38120"/>
<rect x="1135.1" y="1331.97" width="28.7" height="339.03" fill="#d62c2a"/>
<rect x="1167.1" y="1115.50" width="28.7" height="48.61" fill="#0b6aa8"/>
<rect x="1167.1" y="1163.81" width="28.7" height="80.38" fill="#62b9e8"/>
<rect x="1167.1" y="1243.89" width="28.7" height="33.40" fill="#e8e0b8"/>
<rect x="1167.1" y="1276.99" width="28.7" height="20.59" fill="#fcc636"/>
<rect x="1167.1" y="1297.27" width="28.7" height="72.10" fill="#f38120"/>
<rect x="1167.1" y="1369.08" width="28.7" height="301.92" fill="#d62c2a"/>
<rect x="1199.1" y="1115.50" width="28.7" height="47.55" fill="#0b6aa8"/>
<rect x="1199.1" y="1162.75" width="28.7" height="97.19" fill="#62b9e8"/>
<rect x="1199.1" y="1259.64" width="28.7" height="47.28" fill="#e8e0b8"/>
<rect x="1199.1" y="1306.62" width="28.7" height="36.60" fill="#fcc636"/>
<rect x="1199.1" y="1342.92" width="28.7" height="23.52" fill="#f38120"/>
<rect x="1199.1" y="1366.14" width="28.7" height="304.86" fill="#d62c2a"/>
<rect x="1231.1" y="1115.50" width="28.7" height="63.29" fill="#0b6aa8"/>
<rect x="1231.1" y="1178.49" width="28.7" height="160.19" fill="#62b9e8"/>
<rect x="1231.1" y="1338.38" width="28.7" height="75.04" fill="#e8e0b8"/>
<rect x="1231.1" y="1413.12" width="28.7" height="31.80" fill="#fcc636"/>
<rect x="1231.1" y="1444.62" width="28.7" height="226.38" fill="#d62c2a"/>
<rect x="1263.1" y="1115.50" width="28.7" height="195.95" fill="#0b6aa8"/>
<rect x="1263.1" y="1311.15" width="28.7" height="218.64" fill="#62b9e8"/>
<rect x="1263.1" y="1529.50" width="28.7" height="112.94" fill="#e8e0b8"/>
<rect x="1263.1" y="1642.14" width="28.7" height="27.53" fill="#fcc636"/>
<rect x="1263.1" y="1669.37" width="28.7" height="1.63" fill="#f38120"/>
<rect x="1295.1" y="1115.50" width="28.7" height="227.72" fill="#0b6aa8"/>
<rect x="1295.1" y="1342.92" width="28.7" height="203.96" fill="#62b9e8"/>
<rect x="1295.1" y="1546.58" width="28.7" height="94.79" fill="#e8e0b8"/>
<rect x="1295.1" y="1641.07" width="28.7" height="14.18" fill="#fcc636"/>
<rect x="1295.1" y="1654.95" width="28.7" height="16.05" fill="#d62c2a"/>
<rect x="1327.1" y="1115.50" width="28.7" height="225.85" fill="#0b6aa8"/>
<rect x="1327.1" y="1341.05" width="28.7" height="214.64" fill="#62b9e8"/>
<rect x="1327.1" y="1555.39" width="28.7" height="107.87" fill="#e8e0b8"/>
<rect x="1327.1" y="1662.96" width="28.7" height="8.04" fill="#fcc636"/>
<rect x="1392.0" y="1115.50" width="28.7" height="79.84" fill="#0b6aa8"/>
<rect x="1392.0" y="1195.04" width="28.7" height="84.91" fill="#62b9e8"/>
<rect x="1392.0" y="1279.66" width="28.7" height="6.17" fill="#fcc636"/>
<rect x="1392.0" y="1285.53" width="28.7" height="100.40" fill="#f38120"/>
<rect x="1392.0" y="1385.63" width="28.7" height="285.37" fill="#d62c2a"/>
<rect x="1423.7" y="1115.50" width="28.7" height="71.84" fill="#0b6aa8"/>
<rect x="1423.7" y="1187.04" width="28.7" height="78.24" fill="#62b9e8"/>
<rect x="1423.7" y="1264.98" width="28.7" height="20.32" fill="#e8e0b8"/>
<rect x="1423.7" y="1285.00" width="28.7" height="55.02" fill="#fcc636"/>
<rect x="1423.7" y="1339.72" width="28.7" height="47.01" fill="#f38120"/>
<rect x="1423.7" y="1386.43" width="28.7" height="284.57" fill="#d62c2a"/>
<rect x="1455.4" y="1115.50" width="28.7" height="96.39" fill="#0b6aa8"/>
<rect x="1455.4" y="1211.59" width="28.7" height="171.93" fill="#62b9e8"/>
<rect x="1455.4" y="1383.22" width="28.7" height="43.54" fill="#e8e0b8"/>
<rect x="1455.4" y="1426.47" width="28.7" height="42.47" fill="#fcc636"/>
<rect x="1455.4" y="1468.64" width="28.7" height="10.98" fill="#f38120"/>
<rect x="1455.4" y="1479.32" width="28.7" height="191.68" fill="#d62c2a"/>
<rect x="1487.1" y="1115.50" width="28.7" height="166.59" fill="#0b6aa8"/>
<rect x="1487.1" y="1281.79" width="28.7" height="249.07" fill="#62b9e8"/>
<rect x="1487.1" y="1530.57" width="28.7" height="118.28" fill="#e8e0b8"/>
<rect x="1487.1" y="1648.55" width="28.7" height="10.44" fill="#fcc636"/>
<rect x="1487.1" y="1658.69" width="28.7" height="2.97" fill="#f38120"/>
<rect x="1487.1" y="1661.36" width="28.7" height="9.64" fill="#d62c2a"/>
<rect x="1518.8" y="1115.50" width="28.7" height="195.95" fill="#0b6aa8"/>
<rect x="1518.8" y="1311.15" width="28.7" height="230.92" fill="#62b9e8"/>
<rect x="1518.8" y="1541.78" width="28.7" height="105.73" fill="#e8e0b8"/>
<rect x="1518.8" y="1647.21" width="28.7" height="5.10" fill="#fcc636"/>
<rect x="1518.8" y="1652.02" width="28.7" height="18.98" fill="#d62c2a"/>
<line x1="873.7" y1="1115.3" x2="873.7" y2="1670.9" stroke="#111111" stroke-width="2"/>
<line x1="862.9" y1="1115.3" x2="873.7" y2="1115.3" stroke="#111111" stroke-width="2"/>
<line x1="862.9" y1="1254.2" x2="873.7" y2="1254.2" stroke="#111111" stroke-width="2"/>
<line x1="862.9" y1="1393.1" x2="873.7" y2="1393.1" stroke="#111111" stroke-width="2"/>
<line x1="862.9" y1="1532.0" x2="873.7" y2="1532.0" stroke="#111111" stroke-width="2"/>
<line x1="862.9" y1="1670.9" x2="873.7" y2="1670.9" stroke="#111111" stroke-width="2"/>
<text x="857.5" y="1127.3" font-size="35" fill="#111111" text-anchor="end">100</text>
<text x="857.5" y="1682.8" font-size="35" fill="#111111" text-anchor="end">0</text>
<text x="810.5" y="1385.5" font-size="33" fill="#111111" font-weight="bold" text-anchor="middle" transform="rotate(-90 810.5 1385.5)" textLength="447.0" lengthAdjust="spacingAndGlyphs">% Pattern Value Contribution</text>
<text x="988.6" y="1098.1" font-size="33" fill="#f7941d" font-weight="bold" text-anchor="middle" textLength="113.4" lengthAdjust="spacingAndGlyphs">S71095</text>
<text x="1239.0" y="1098.1" font-size="33" fill="#a67c52" font-weight="bold" text-anchor="middle" textLength="113.4" lengthAdjust="spacingAndGlyphs">S67615</text>
<text x="1464.7" y="1098.1" font-size="33" fill="#0e9447" font-weight="bold" text-anchor="middle" textLength="113.4" lengthAdjust="spacingAndGlyphs">S64373</text>
<text x="908.4" y="1681.0" font-size="33.5" fill="#111111" text-anchor="end" transform="rotate(-90 908.4 1681.0)">0</text>
<text x="940.0" y="1681.0" font-size="33.5" fill="#111111" text-anchor="end" transform="rotate(-90 940.0 1681.0)">6</text>
<text x="971.7" y="1681.0" font-size="33.5" fill="#111111" text-anchor="end" transform="rotate(-90 971.7 1681.0)">24</text>
<text x="1003.4" y="1681.0" font-size="33.5" fill="#111111" text-anchor="end" transform="rotate(-90 1003.4 1681.0)">48</text>
<text x="1035.1" y="1681.0" font-size="33.5" fill="#111111" text-anchor="end" transform="rotate(-90 1035.1 1681.0)">72</text>
<text x="1066.8" y="1681.0" font-size="33.5" fill="#111111" text-anchor="end" transform="rotate(-90 1066.8 1681.0)">28d</text>
<text x="1098.4" y="1681.0" font-size="33.5" fill="#111111" text-anchor="end" transform="rotate(-90 1098.4 1681.0)">12m</text>
<text x="1158.6" y="1681.0" font-size="33.5" fill="#111111" text-anchor="end" transform="rotate(-90 1158.6 1681.0)">6</text>
<text x="1190.6" y="1681.0" font-size="33.5" fill="#111111" text-anchor="end" transform="rotate(-90 1190.6 1681.0)">24</text>
<text x="1222.6" y="1681.0" font-size="33.5" fill="#111111" text-anchor="end" transform="rotate(-90 1222.6 1681.0)">48</text>
<text x="1254.6" y="1681.0" font-size="33.5" fill="#111111" text-anchor="end" transform="rotate(-90 1254.6 1681.0)">72</text>
<text x="1286.6" y="1681.0" font-size="33.5" fill="#111111" text-anchor="end" transform="rotate(-90 1286.6 1681.0)">28d</text>
<text x="1318.6" y="1681.0" font-size="33.5" fill="#111111" text-anchor="end" transform="rotate(-90 1318.6 1681.0)">6m</text>
<text x="1350.6" y="1681.0" font-size="33.5" fill="#111111" text-anchor="end" transform="rotate(-90 1350.6 1681.0)">12m</text>
<text x="1418.3" y="1681.0" font-size="33.5" fill="#111111" text-anchor="end" transform="rotate(-90 1418.3 1681.0)">6</text>
<text x="1450.0" y="1681.0" font-size="33.5" fill="#111111" text-anchor="end" transform="rotate(-90 1450.0 1681.0)">24</text>
<text x="1481.8" y="1681.0" font-size="33.5" fill="#111111" text-anchor="end" transform="rotate(-90 1481.8 1681.0)">48</text>
<text x="1513.4" y="1681.0" font-size="33.5" fill="#111111" text-anchor="end" transform="rotate(-90 1513.4 1681.0)">28d</text>
<text x="1545.1" y="1681.0" font-size="33.5" fill="#111111" text-anchor="end" transform="rotate(-90 1545.1 1681.0)">6m</text>
<line x1="886.4" y1="1726.9" x2="1032.5" y2="1726.9" stroke="#111111" stroke-width="1.6"/>
<line x1="1137.2" y1="1726.9" x2="1253.7" y2="1726.9" stroke="#111111" stroke-width="1.6"/>
<line x1="1394.0" y1="1726.9" x2="1485.0" y2="1726.9" stroke="#111111" stroke-width="1.6"/>
<text x="793.6" y="1755.3" font-size="32" fill="#111111" font-weight="bold" text-anchor="start" textLength="73.9" lengthAdjust="spacingAndGlyphs">Time</text>
<text x="884.4" y="1757.7" font-size="33.5" fill="#111111" text-anchor="start" textLength="81.8" lengthAdjust="spacingAndGlyphs">hours</text>
<text x="1135.5" y="1757.7" font-size="33.5" fill="#111111" text-anchor="start" textLength="81.8" lengthAdjust="spacingAndGlyphs">hours</text>
<text x="1392.0" y="1757.7" font-size="33.5" fill="#111111" text-anchor="start" textLength="81.8" lengthAdjust="spacingAndGlyphs">hours</text>
<path d="M1579,1117.8 L1666,1117.8 Q1673,1117.8 1671.5,1124 L1586,1590 Q1584,1598.5 1578,1598.5 Q1573.5,1598.5 1573.5,1592 L1573.5,1123.3 Q1573.5,1117.8 1579,1117.8 Z" fill="#0b6aa8" stroke="#231f20" stroke-width="1"/>
<path d="M1670,1182.3 Q1676.3,1182.3 1676.3,1189 L1676.3,1660 Q1676.3,1665.8 1670.5,1665.8 L1584,1665.8 Q1578,1665.8 1578.8,1660 L1663.5,1188 Q1664.5,1182.3 1670,1182.3 Z" fill="#ec1f26" stroke="#231f20" stroke-width="1"/>
<text x="1581.5" y="1215.9" font-size="35" fill="#ffffff" font-weight="bold" text-anchor="middle" transform="rotate(90 1581.5 1215.9)" textLength="162.5" lengthAdjust="spacingAndGlyphs">Protection</text>
<text x="1669.9" y="1623.0" font-size="36" fill="#ffffff" font-weight="bold" text-anchor="middle" transform="rotate(-90 1669.9 1623.0)" textLength="68.7" lengthAdjust="spacingAndGlyphs">Risk</text>
<text x="1690.3" y="1143.9" font-size="32" fill="#0e6aa8" font-weight="bold" text-anchor="start" textLength="37.3" lengthAdjust="spacingAndGlyphs">P4</text>
<text x="1763.2" y="1120.6" font-size="25" fill="#0e6aa8" text-anchor="start">Normal</text>
<text x="1763.2" y="1150.0" font-size="25" fill="#0e6aa8" text-anchor="start">myeloid</text>
<text x="1690.3" y="1247.3" font-size="32" fill="#5bb7e8" font-weight="bold" text-anchor="start" textLength="54.7" lengthAdjust="spacingAndGlyphs">P27</text>
<text x="1763.2" y="1224.3" font-size="25" fill="#5bb7e8" text-anchor="start">TCD4+ &amp;</text>
<text x="1763.2" y="1254.3" font-size="25" fill="#5bb7e8" text-anchor="start">B cells</text>
<text x="1690.3" y="1350.5" font-size="32" fill="#bdb79f" font-weight="bold" text-anchor="start" textLength="54.7" lengthAdjust="spacingAndGlyphs">P12</text>
<text x="1763.2" y="1329.4" font-size="25" fill="#bdb79f" text-anchor="start">TCD8+ &amp;</text>
<text x="1763.2" y="1359.4" font-size="25" fill="#bdb79f" text-anchor="start">NK cells</text>
<text x="1690.3" y="1454.2" font-size="32" fill="#fcc431" font-weight="bold" text-anchor="start" textLength="54.7" lengthAdjust="spacingAndGlyphs">P15</text>
<text x="1763.2" y="1434.5" font-size="25" fill="#fcc431" text-anchor="start">Developing</text>
<text x="1763.2" y="1464.5" font-size="25" fill="#fcc431" text-anchor="start">Neutrophils</text>
<text x="1690.3" y="1557.9" font-size="32" fill="#f38120" font-weight="bold" text-anchor="start" textLength="54.7" lengthAdjust="spacingAndGlyphs">P14</text>
<text x="1763.2" y="1538.2" font-size="25" fill="#f38120" text-anchor="start">Monocyte</text>
<text x="1763.2" y="1569.0" font-size="25" fill="#f38120" text-anchor="start">MS1</text>
<text x="1690.3" y="1661.6" font-size="32" fill="#d62c2a" font-weight="bold" text-anchor="start" textLength="54.7" lengthAdjust="spacingAndGlyphs">P23</text>
<text x="1763.2" y="1643.3" font-size="25" fill="#d62c2a" text-anchor="start">Septic</text>
<text x="1763.2" y="1672.8" font-size="25" fill="#d62c2a" text-anchor="start">Shock</text>
<text x="-0.5" y="1845.0" font-size="39" fill="#111111" font-weight="bold" text-anchor="start">d</text>
<defs><linearGradient id="gd" x1="0" y1="0" x2="0" y2="1"><stop offset="0" stop-color="#dcdde0"/><stop offset="0.6" stop-color="#f1f2f3"/><stop offset="1" stop-color="#ffffff"/></linearGradient></defs>
<path d="M358.7,2235 L358.7,1994.4 Q358.7,1970.4 382.7,1970.4 L640.8,1970.4 Q664.8,1970.4 664.8,1994.4 L664.8,2235 Z" fill="url(#gd)"/>
<text x="509.6" y="1891.7" font-size="36" fill="#111111" font-weight="bold" text-anchor="middle" textLength="218.6" lengthAdjust="spacingAndGlyphs">Phenotypes</text>
<text x="497.5" y="1954.2" font-size="39.5" fill="#231f20" text-anchor="middle" textLength="258.6" lengthAdjust="spacingAndGlyphs" stroke="#ffffff" stroke-width="0.8">Treatable traits</text>
<polyline points="292.3,1975 292.3,1910.2 734.7,1910.2 734.7,1975" fill="none" stroke="#231f20" stroke-width="3.4"/>
<path d="M292.3,1990 Q287.3,1976 275.3,1969.5 Q286.3,1972 292.3,1972 Q298.3,1972 309.3,1969.5 Q297.3,1976 292.3,1990 Z" fill="#231f20"/>
<path d="M734.7,1990 Q729.7,1976 717.7,1969.5 Q728.7,1972 734.7,1972 Q740.7,1972 751.7,1969.5 Q739.7,1976 734.7,1990 Z" fill="#231f20"/>
<text x="123.0" y="1949.6" font-size="39" fill="#1a75bc" font-weight="bold" text-anchor="middle" textLength="111.6" lengthAdjust="spacingAndGlyphs">health</text>
<text x="884.7" y="2000.6" font-size="38.5" fill="#ec1f26" font-weight="bold" text-anchor="middle" textLength="101.7" lengthAdjust="spacingAndGlyphs">death</text>
<text x="601.3" y="2474.7" font-size="39" fill="#f7941d" font-weight="bold" text-anchor="middle" textLength="109.0" lengthAdjust="spacingAndGlyphs">sepsis</text>
<text x="250.5" y="2053.8" font-size="39.5" fill="#0e6aa8" font-weight="bold" text-anchor="start" textLength="44.5" lengthAdjust="spacingAndGlyphs">P4</text>
<text x="250.5" y="2114.5" font-size="39.5" fill="#5bb7e8" font-weight="bold" text-anchor="start" textLength="64.5" lengthAdjust="spacingAndGlyphs">P27</text>
<text x="250.5" y="2180.6" font-size="39.5" fill="#bdb79f" font-weight="bold" text-anchor="start" textLength="64.5" lengthAdjust="spacingAndGlyphs">P12</text>
<text x="702.5" y="2083.6" font-size="39.5" fill="#d62c2a" font-weight="bold" text-anchor="start" textLength="63.0" lengthAdjust="spacingAndGlyphs">P23</text>
<text x="702.5" y="2153.2" font-size="39.5" fill="#f38120" font-weight="bold" text-anchor="start" textLength="63.0" lengthAdjust="spacingAndGlyphs">P14</text>
<text x="702.5" y="2227.3" font-size="39.5" fill="#fcc431" font-weight="bold" text-anchor="start" textLength="63.0" lengthAdjust="spacingAndGlyphs">P15</text>
<line x1="42" y1="2219.5" x2="973" y2="2280.5" stroke="#231f20" stroke-width="12" stroke-linecap="round"/>
<path d="M1172,658 C1205,658 1228,690 1226,730 C1224,765 1205,790 1198,800 L1200,822 C1230,840 1270,848 1300,862 C1312,870 1312,890 1313,940 C1315,1040 1322,1120 1330,1160 L1356,1272 L1343,1272 L1300,1150 C1285,1110 1270,1060 1262,1000 C1255,1080 1248,1130 1260,1170 C1280,1240 1280,1300 1270,1380 L1228,1776 L1192,1776 L1176,1240 L1168,1240 L1160,1776 L1126,1776 L1080,1380 C1070,1300 1068,1240 1090,1170 C1098,1120 1092,1060 1085,1000 C1075,1060 1050,1110 1040,1130 L1005,1292 L990,1292 C1000,1200 1005,1100 1020,1000 C1028,930 1030,890 1040,870 C1070,850 1110,840 1142,822 L1146,800 C1138,790 1118,765 1116,730 C1114,690 1138,658 1172,658 Z" fill="#1a75bc" transform="translate(131.7 1969.0) scale(0.21544) translate(-1172 -658)"/>
<path d="M1172,658 C1205,658 1228,690 1226,730 C1224,765 1205,790 1198,800 L1200,822 C1230,840 1270,848 1300,862 C1312,870 1312,890 1313,940 C1315,1040 1322,1120 1330,1160 L1356,1272 L1343,1272 L1300,1150 C1285,1110 1270,1060 1262,1000 C1255,1080 1248,1130 1260,1170 C1280,1240 1280,1300 1270,1380 L1228,1776 L1192,1776 L1176,1240 L1168,1240 L1160,1776 L1126,1776 L1080,1380 C1070,1300 1068,1240 1090,1170 C1098,1120 1092,1060 1085,1000 C1075,1060 1050,1110 1040,1130 L1005,1292 L990,1292 C1000,1200 1005,1100 1020,1000 C1028,930 1030,890 1040,870 C1070,850 1110,840 1142,822 L1146,800 C1138,790 1118,765 1116,730 C1114,690 1138,658 1172,658 Z" fill="#ec1f26" transform="translate(892.5 2021.8) scale(0.21544) translate(-1172 -658)"/>
<path d="M1172,658 C1205,658 1228,690 1226,730 C1224,765 1205,790 1198,800 L1200,822 C1230,840 1270,848 1300,862 C1312,870 1312,890 1313,940 C1315,1040 1322,1120 1330,1160 L1356,1272 L1343,1272 L1300,1150 C1285,1110 1270,1060 1262,1000 C1255,1080 1248,1130 1260,1170 C1280,1240 1280,1300 1270,1380 L1228,1776 L1192,1776 L1176,1240 L1168,1240 L1160,1776 L1126,1776 L1080,1380 C1070,1300 1068,1240 1090,1170 C1098,1120 1092,1060 1085,1000 C1075,1060 1050,1110 1040,1130 L1005,1292 L990,1292 C1000,1200 1005,1100 1020,1000 C1028,930 1030,890 1040,870 C1070,850 1110,840 1142,822 L1146,800 C1138,790 1118,765 1116,730 C1114,690 1138,658 1172,658 Z" fill="#f7941d" transform="translate(512.2 2259.2) scale(0.21544) translate(-1172 -658)"/>
<rect x="-24" y="-62" width="54" height="128" rx="12" fill="#d7d8da" transform="translate(513.5 2106.4) rotate(15)"/>
<line x1="512.5" y1="1964.0" x2="512.5" y2="2250.0" stroke="#111111" stroke-width="2.2" stroke-dasharray="5 4"/>
<g transform="translate(513.5 2106.4) rotate(15)" stroke="#231f20" fill="none" stroke-width="2.6"><line x1="-12" y1="-52" x2="14" y2="-52"/><line x1="0" y1="-52" x2="0" y2="-30"/><rect x="-12" y="-30" width="24" height="56" rx="7" fill="#3fa9e0"/><line x1="0" y1="26" x2="0" y2="58"/></g>
<text x="513.5" y="2110.0" font-size="15" fill="#231f20" font-weight="bold" text-anchor="middle" transform="rotate(-75 513.5 2110.0)">Rx</text>
<line x1="481.2" y1="2074.8" x2="453.0" y2="2074.8" stroke="#111111" stroke-width="3.2"/>
<path d="M444.0,2074.8 L461.0,2064.3 L455.0,2074.8 L461.0,2085.3 Z" fill="#231f20"/>
<line x1="481.2" y1="2140.0" x2="453.0" y2="2140.0" stroke="#111111" stroke-width="3.2"/>
<path d="M444.0,2140 L461.0,2129.5 L455.0,2140 L461.0,2150.5 Z" fill="#231f20"/>
<line x1="536.3" y1="2078.9" x2="560.0" y2="2078.9" stroke="#111111" stroke-width="3.2"/>
<path d="M569.0,2078.9 L552.0,2068.4 L558.0,2078.9 L552.0,2089.4 Z" fill="#231f20"/>
<line x1="536.3" y1="2144.7" x2="560.0" y2="2144.7" stroke="#111111" stroke-width="3.2"/>
<path d="M569.0,2144.7 L552.0,2134.2 L558.0,2144.7 L552.0,2155.2 Z" fill="#231f20"/>
<path d="M378,2082 Q378,2068 392,2064 L402,2068 L392,2088 Q380,2090 378,2082 Z" fill="#6b3a96" stroke="#231f20" stroke-width="1.6"/>
<path d="M439,2081 Q438,2069 425,2064 L414,2068 L424,2087 Q436,2088 439,2081 Z" fill="#6b3a96" stroke="#231f20" stroke-width="1.6"/>
<path d="M377,2036 Q382,2052 392,2050 Q405,2050 402,2062 Q398,2075 410,2078 Q418,2085 418,2102" fill="none" stroke="#999" stroke-width="3" opacity="0.8"/>
<polyline points="380.0,2114.0 393.1,2109.9 388.1,2109.6 398.3,2122.4 399.8,2117.8 392.3,2119.1 382.6,2122.0 378.7,2118.7 395.0,2121.4 386.4,2132.2 389.5,2117.0 390.3,2117.5 385.8,2118.7 402.8,2121.1 390.5,2125.6 402.7,2119.8 385.4,2132.4 377.5,2118.7 393.1,2132.1 383.6,2110.1 394.7,2117.4 385.7,2124.1 390.8,2122.8 385.5,2129.4 400.9,2121.2 385.1,2126.1 393.0,2114.0 385.1,2128.1 388.2,2118.9 390.5,2120.8 389.0,2110.2 401.9,2122.2 381.8,2127.4 391.4,2121.1 395.1,2131.6 393.2,2130.6 402.1,2116.0 384.5,2126.3 376.3,2119.4 398.8,2127.3 393.0,2110.5 403.1,2123.6" fill="none" stroke="#231f20" stroke-width="1.3" stroke-linejoin="round"/>
<path d="M376,2124 l-4,3 M401,2115 l4,-3 M391,2131 l1,5" stroke="#231f20" stroke-width="1.3"/>
<polyline points="430.6,2124.4 413.1,2113.7 416.3,2130.7 416.8,2119.3 421.8,2124.9 428.2,2122.8 418.4,2109.9 425.3,2122.7 434.3,2120.3 418.7,2123.8 412.9,2115.0 415.4,2123.0 437.4,2124.9 433.6,2122.6 426.3,2118.0 422.3,2109.4 415.1,2113.4 431.1,2125.5 432.0,2129.7 421.4,2128.2 437.6,2121.0 433.2,2119.9 411.6,2121.7 416.9,2121.8 420.1,2123.2 413.3,2129.3 435.0,2118.7 416.2,2121.0 429.8,2123.9 426.8,2110.2 415.6,2128.9 425.9,2111.5 417.5,2112.3 416.1,2128.4 422.1,2128.6 425.5,2111.5 420.1,2132.2 417.6,2114.0 434.4,2121.6 423.9,2130.5 411.1,2123.5 416.1,2112.6" fill="none" stroke="#231f20" stroke-width="1.3" stroke-linejoin="round"/>
<path d="M411,2124 l-4,3 M436,2115 l4,-3 M426,2131 l1,5" stroke="#231f20" stroke-width="1.3"/>
<polyline points="387.4,2158.5 393.0,2140.3 386.0,2159.8 402.2,2144.0 408.4,2149.3 383.8,2150.1 400.8,2160.3 402.9,2148.0 389.6,2141.8 393.4,2146.9 396.1,2142.5 389.5,2144.8 384.8,2143.8 386.0,2143.5 398.9,2151.7 383.2,2154.4 396.3,2160.4 392.5,2149.7 387.9,2151.9 398.2,2152.2 391.8,2154.9 394.7,2152.5 385.8,2152.5 385.7,2145.4 395.1,2162.3 402.7,2151.0 392.4,2157.9 404.1,2158.1 392.6,2152.2 391.2,2149.1 386.5,2149.2 381.2,2145.3 397.7,2144.5 398.4,2142.5 390.8,2153.7 385.2,2146.2 408.2,2147.9 387.8,2147.0 394.2,2150.9 402.3,2156.3 390.5,2148.6 384.4,2142.9" fill="none" stroke="#231f20" stroke-width="1.3" stroke-linejoin="round"/>
<path d="M381,2154 l-4,3 M406,2145 l4,-3 M396,2161 l1,5" stroke="#231f20" stroke-width="1.3"/>
<polyline points="413.6,2153.1 421.1,2153.7 428.3,2146.8 433.8,2145.2 414.5,2145.0 429.8,2147.1 413.5,2151.1 429.8,2147.2 417.8,2155.5 428.1,2154.3 413.3,2150.0 422.6,2137.5 430.2,2148.7 417.9,2159.4 421.3,2142.9 419.5,2151.9 427.2,2147.6 412.5,2143.2 413.2,2141.0 419.8,2144.7 420.5,2142.2 412.4,2146.7 417.0,2155.8 412.1,2149.4 419.7,2139.3 426.4,2149.2 406.3,2151.1 427.9,2142.6 432.9,2148.9 410.3,2151.8 417.0,2139.2 405.9,2149.3 413.6,2152.5 423.4,2144.4 416.1,2158.3 432.3,2152.3 416.9,2141.2 417.1,2158.1 423.9,2146.0 409.6,2149.1 412.3,2148.1 426.2,2155.2" fill="none" stroke="#231f20" stroke-width="1.3" stroke-linejoin="round"/>
<path d="M407,2151 l-4,3 M432,2142 l4,-3 M422,2158 l1,5" stroke="#231f20" stroke-width="1.3"/>
<g stroke="#231f20" stroke-width="1.6"><line x1="592" y1="2060" x2="600" y2="2077"/><line x1="604" y1="2077" x2="626" y2="2070"/><line x1="603" y1="2082" x2="607" y2="2094"/><rect x="583" y="2055" width="18" height="9" fill="#c49a6c"/><rect x="593" y="2073" width="17" height="9" fill="#3fa9e0"/><rect x="617" y="2065" width="17" height="9" fill="#d9d9d9"/><rect x="600" y="2090" width="18" height="9" fill="#f9b040"/></g>
<ellipse cx="608" cy="2152" rx="19" ry="13" fill="#3fae49" stroke="#231f20" stroke-width="1.6"/>
<circle cx="589" cy="2140" r="7.5" fill="#e8262b" stroke="#231f20" stroke-width="1.2"/></svg></body></html>
